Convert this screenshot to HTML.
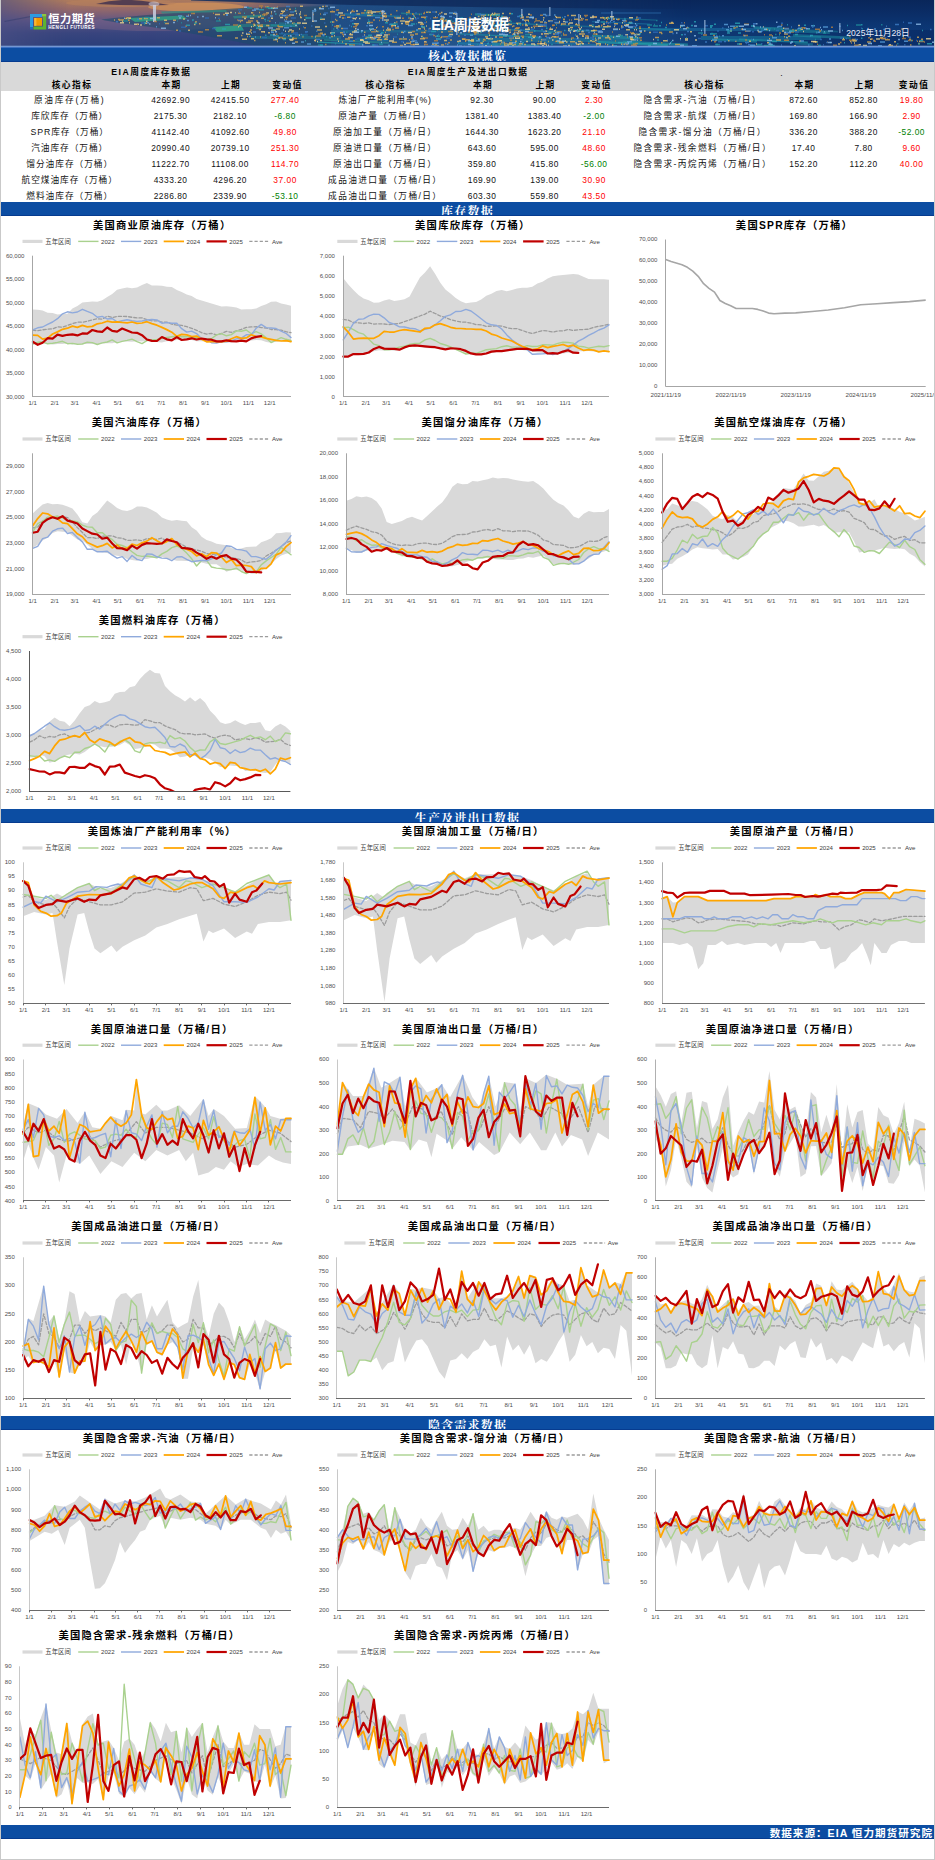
<!DOCTYPE html><html lang="zh-CN"><head><meta charset="utf-8"><title>EIA周度数据</title><style>
*{box-sizing:border-box}html,body{margin:0;padding:0;background:#fff}
body{width:935px;height:1860px;overflow:hidden;font-family:"Liberation Sans","Noto Sans CJK SC",sans-serif}
#p{position:relative;width:935px;height:1860px;background:#fff;overflow:hidden}
.edge{position:absolute;background:#c9c9c9}
.hdr{position:absolute;left:1px;top:0;width:933px;height:48px;overflow:hidden;background:#163a78}
.hsvg{position:absolute;left:0;top:0}
.logo{position:absolute;left:28.5px;top:13.5px}
.lt{position:absolute;left:47.2px;top:11.2px;color:#fff;font-weight:bold;font-size:11.2px;letter-spacing:0.55px;line-height:16px;white-space:nowrap}

.ls{position:absolute;left:47.3px;top:23.6px;color:#fff;font-weight:bold;font-size:4.6px;letter-spacing:0.46px;line-height:7px;white-space:nowrap}
.ttl{position:absolute;left:369px;top:14px;width:200px;text-align:center;color:#fff;font-weight:bold;font-size:14.4px;line-height:22px;letter-spacing:-0.6px;white-space:nowrap}
.date{position:absolute;left:787px;top:27px;width:180px;text-align:center;color:#e8eefc;font-size:8.6px;line-height:13px;white-space:nowrap}
.bar{overflow:hidden;position:absolute;left:1px;width:933px;height:14.4px;background:#0c4da2;border-bottom:1.2px solid #063b8f;color:#fff;text-align:center;font-family:"Liberation Serif","Noto Serif CJK SC",serif;font-weight:700;font-size:12px;line-height:17.4px;letter-spacing:1.2px;white-space:nowrap}
.gh{position:absolute;left:1px;top:62px;width:933px;height:29px;background:#d9d9d9}
.c{position:absolute;width:200px;height:14px;line-height:14px;text-align:center;font-size:8.7px;color:#111;white-space:nowrap;letter-spacing:0.95px}
.c.h{font-weight:bold;font-size:8.7px;letter-spacing:1.5px;color:#000}
.c.n{letter-spacing:0.5px;font-size:8.4px}
.c.r{color:#ff0000}.c.g{color:#008000}
.ft{padding-right:1px;text-align:right;font-family:"Liberation Sans","Noto Sans CJK SC",sans-serif;font-weight:bold;font-size:10.6px;letter-spacing:1.0px;line-height:16.4px}
svg.ch{position:absolute;left:0;top:0}
</style></head><body><div id="p">
<div class="hdr"><svg class="hsvg" width="934" height="48" viewBox="0 0 934 48"><defs>
<linearGradient id="hg" x1="0" x2="934" y1="0" y2="0" gradientUnits="userSpaceOnUse"><stop offset="0" stop-color="#4b5085"/><stop offset="0.07" stop-color="#474a7e"/><stop offset="0.25" stop-color="#2d4174"/><stop offset="0.36" stop-color="#214f86"/><stop offset="0.5" stop-color="#23548b"/><stop offset="0.66" stop-color="#1b4a84"/><stop offset="0.76" stop-color="#0f3872"/><stop offset="1" stop-color="#0a2e69"/></linearGradient>
<linearGradient id="sv" x1="0" x2="0" y1="0" y2="47" gradientUnits="userSpaceOnUse"><stop offset="0" stop-color="#b07c5c"/><stop offset="0.2" stop-color="#94686a"/><stop offset="0.45" stop-color="#5f5584"/><stop offset="0.7" stop-color="#39457e"/><stop offset="1" stop-color="#2a3f7a"/></linearGradient>
<linearGradient id="sm" x1="0" x2="340" y1="0" y2="0" gradientUnits="userSpaceOnUse"><stop offset="0" stop-color="#fff" stop-opacity="0.35"/><stop offset="0.2" stop-color="#fff" stop-opacity="1"/><stop offset="0.7" stop-color="#fff" stop-opacity="0.95"/><stop offset="1" stop-color="#fff" stop-opacity="0"/></linearGradient>
<mask id="mk"><rect width="340" height="47" fill="url(#sm)"/></mask>
<linearGradient id="nv" x1="0" x2="0" y1="0" y2="47" gradientUnits="userSpaceOnUse"><stop offset="0" stop-color="#09265a"/><stop offset="0.35" stop-color="#0b2f69"/><stop offset="0.6" stop-color="#0d3a78" stop-opacity="0.8"/><stop offset="1" stop-color="#0d3a78" stop-opacity="0"/></linearGradient>
<linearGradient id="nm" x1="330" x2="934" y1="0" y2="0" gradientUnits="userSpaceOnUse"><stop offset="0" stop-color="#fff" stop-opacity="0.0"/><stop offset="0.45" stop-color="#fff" stop-opacity="0.55"/><stop offset="0.6" stop-color="#fff" stop-opacity="1"/><stop offset="1" stop-color="#fff" stop-opacity="1"/></linearGradient>
<mask id="mk2"><rect x="330" width="604" height="47" fill="url(#nm)"/></mask>
</defs><rect width="934" height="47" fill="url(#hg)"/><rect width="340" height="47" fill="url(#sv)" mask="url(#mk)"/><ellipse cx="195" cy="7" rx="48" ry="4.5" fill="#d2935a" opacity="0.75"/><ellipse cx="120" cy="3" rx="55" ry="4" fill="#b8805c" opacity="0.6"/><ellipse cx="150" cy="24" rx="70" ry="7" fill="#7a6488" opacity="0.45"/><path d="M95,4 Q120,-3 150,2 L168,5 Q130,6 95,4Z" fill="#43334f" opacity="0.85"/><path d="M3,21 L40,14 L41,15 L4,22Z" fill="#39406f" opacity="0.6"/><path d="M190,0 L934,0 L934,9 Q700,10 470,7 Q330,5 190,0.5Z" fill="#132f5e" opacity="0.9"/><rect x="330" y="0" width="604" height="30" fill="url(#nv)" mask="url(#mk2)"/><path d="M100,19.5 Q150,14 240,8 L330,6 L330,47 L262,47 Q215,37 150,27 Q115,23 100,19.5Z" fill="#1d4a6c" opacity="0.62"/><path d="M128,18 L182,15.5 L186,19 L134,22Z" fill="#2fa587" opacity="0.8"/><path d="M160,11.5 L225,10 L226,12 L161,13.5Z" fill="#2c8f86" opacity="0.7"/><path d="M212,27 L240,25 L243,30.5 L216,32Z" fill="#32aa88" opacity="0.8"/><path d="M232,16 L262,14.5 L264,17 L233,18.5Z" fill="#2a9a8a" opacity="0.6"/><rect x="152" y="5" width="3" height="17" fill="#c9cfe0" opacity="0.85"/><ellipse cx="153" cy="4" rx="5.5" ry="2.6" fill="#d6cbd0" opacity="0.6"/><rect x="236" y="24" width="60" height="3" fill="#1f8f8a" opacity="0.5"/><rect x="250" y="36" width="90" height="3" fill="#1d7f90" opacity="0.5"/><rect x="330" y="30" width="120" height="2.5" fill="#1f7d96" opacity="0.45"/><rect x="470" y="38" width="170" height="4" fill="#1f86a0" opacity="0.5"/><rect x="640" y="28" width="130" height="3" fill="#1b78a8" opacity="0.5"/><rect x="700" y="36" width="120" height="4" fill="#1a84a6" opacity="0.5"/><rect x="600" y="12" width="60" height="2" fill="#2a6aa8" opacity="0.4"/><rect x="491" y="42.5" width="47" height="2.6" fill="#23a0a8" opacity="0.55" transform="rotate(2.5 491 42)"/><rect x="567" y="28.9" width="28" height="1.8" fill="#1f93a3" opacity="0.53" transform="rotate(2.5 567 29)"/><rect x="316" y="41.4" width="46" height="1.4" fill="#23a0a8" opacity="0.69" transform="rotate(2.5 316 41)"/><rect x="605" y="17.2" width="50" height="1.4" fill="#1f93a3" opacity="0.42" transform="rotate(2.5 605 17)"/><rect x="343" y="13.0" width="31" height="2.6" fill="#1c86b0" opacity="0.53" transform="rotate(2.5 343 13)"/><rect x="711" y="38.2" width="45" height="2.6" fill="#1f93a3" opacity="0.60" transform="rotate(2.5 711 38)"/><rect x="494" y="44.9" width="32" height="1.4" fill="#1c86b0" opacity="0.49" transform="rotate(2.5 494 45)"/><rect x="366" y="14.3" width="33" height="1.4" fill="#23a0a8" opacity="0.43" transform="rotate(2.5 366 14)"/><rect x="400" y="12.6" width="21" height="1.4" fill="#2aa392" opacity="0.46" transform="rotate(2.5 400 13)"/><rect x="749" y="44.6" width="42" height="2.6" fill="#23a0a8" opacity="0.42" transform="rotate(2.5 749 45)"/><rect x="591" y="20.9" width="58" height="1.4" fill="#1c86b0" opacity="0.50" transform="rotate(2.5 591 21)"/><rect x="780" y="28.2" width="57" height="1.8" fill="#1f93a3" opacity="0.40" transform="rotate(2.5 780 28)"/><rect x="498" y="34.5" width="43" height="1.8" fill="#23a0a8" opacity="0.55" transform="rotate(2.5 498 35)"/><rect x="792" y="34.0" width="58" height="2.6" fill="#1f93a3" opacity="0.52" transform="rotate(2.5 792 34)"/><rect x="794" y="42.4" width="18" height="2.2" fill="#1f93a3" opacity="0.46" transform="rotate(2.5 794 42)"/><rect x="458" y="33.2" width="62" height="1.4" fill="#1f93a3" opacity="0.70" transform="rotate(2.5 458 33)"/><rect x="356" y="37.5" width="31" height="2.2" fill="#1c86b0" opacity="0.52" transform="rotate(2.5 356 37)"/><rect x="278" y="33.0" width="29" height="1.4" fill="#1c86b0" opacity="0.51" transform="rotate(2.5 278 33)"/><rect x="492" y="28.0" width="68" height="1.8" fill="#23a0a8" opacity="0.45" transform="rotate(2.5 492 28)"/><rect x="323" y="39.0" width="65" height="1.8" fill="#2aa392" opacity="0.45" transform="rotate(2.5 323 39)"/><rect x="591" y="34.7" width="47" height="2.6" fill="#23a0a8" opacity="0.58" transform="rotate(2.5 591 35)"/><rect x="474" y="13.3" width="23" height="2.2" fill="#2aa392" opacity="0.62" transform="rotate(2.5 474 13)"/><rect x="457" y="41.9" width="40" height="2.6" fill="#1c86b0" opacity="0.56" transform="rotate(2.5 457 42)"/><rect x="760" y="28.4" width="69" height="2.6" fill="#1f93a3" opacity="0.48" transform="rotate(2.5 760 28)"/><rect x="753" y="26.3" width="29" height="2.2" fill="#23a0a8" opacity="0.53" transform="rotate(2.5 753 26)"/><rect x="270" y="24.2" width="27" height="1.8" fill="#1f93a3" opacity="0.51" transform="rotate(2.5 270 24)"/><rect x="738" y="38.5" width="69" height="1.8" fill="#1f93a3" opacity="0.68" transform="rotate(2.5 738 38)"/><rect x="504" y="22.3" width="37" height="1.4" fill="#1f93a3" opacity="0.58" transform="rotate(2.5 504 22)"/><rect x="278" y="22.3" width="21" height="1.8" fill="#1f93a3" opacity="0.42" transform="rotate(2.5 278 22)"/><rect x="544" y="41.7" width="56" height="1.8" fill="#1c86b0" opacity="0.51" transform="rotate(2.5 544 42)"/><rect x="622" y="40.7" width="65" height="2.6" fill="#1f93a3" opacity="0.66" transform="rotate(2.5 622 41)"/><rect x="559" y="24.6" width="50" height="1.4" fill="#1f93a3" opacity="0.42" transform="rotate(2.5 559 25)"/><rect x="597" y="41.0" width="70" height="2.2" fill="#23a0a8" opacity="0.68" transform="rotate(2.5 597 41)"/><rect x="628" y="27.3" width="42" height="1.4" fill="#1f93a3" opacity="0.49" transform="rotate(2.5 628 27)"/><path d="M216 35.8h5M126 18.0h4M222 14.5h2M124 18.5h5M187 15.3h1M175 30.3h2M138 18.7h3M127 20.3h1M118 20.3h1M117 19.5h2M291 23.3h3M277 26.8h5M255 21.0h2M248 31.8h2M239 21.8h1M259 37.0h1M249 30.1h2M299 16.5h1M272 39.7h5M329 11.8h5M330 36.5h2M323 34.3h2M284 17.4h3M319 33.2h3M263 32.1h1M287 35.8h1.5M283 19.9h1M284 42.8h1M252 26.3h1M260 18.2h3M246 36.5h1M279 13.7h3M281 38.6h4M470 31.2h5M384 32.4h1M519 32.8h3M552 34.0h2M503 45.2h5M603 19.1h1.5M587 36.5h1M409 41.7h1.5M497 15.9h2M448 21.8h1M543 44.2h3M433 21.3h5M639 32.3h2M409 34.9h4M611 45.0h1.5M576 38.0h2M594 38.3h1M407 11.1h2M335 20.6h1.5M490 45.7h1M580 43.0h1.5M532 36.2h3M457 32.1h1M376 31.4h1.5M518 37.4h1M479 43.0h1.5M549 28.0h1M539 41.9h2M339 32.7h3M375 11.8h4M363 10.4h2M625 44.4h2M591 41.4h3M604 44.0h1M384 13.4h1M480 15.3h5M638 28.4h2M408 39.8h1M523 44.6h2M399 45.6h3M355 25.1h1.5M394 17.9h1M515 23.2h5M422 27.4h2M491 24.3h1.5M479 18.4h3M428 28.4h2M482 39.6h2M464 39.8h5M562 19.2h2M351 18.0h2M402 39.1h4M581 35.4h1.5M536 43.8h5M573 30.8h2M394 28.0h4M344 39.0h5M560 24.5h1M384 38.8h1.5M595 45.1h1M508 37.9h5M580 31.7h3M405 24.3h3M464 22.7h2M575 44.2h3M497 20.3h2M508 13.6h2M601 35.7h1M341 18.1h2M486 20.9h3M555 17.4h5M543 42.5h1.5M527 21.3h1M481 41.5h2M606 17.5h2M527 27.8h1.5M422 37.7h1M521 37.4h2M564 22.0h1M351 10.6h1.5M586 36.3h2M629 38.4h3M514 28.5h4M365 12.8h5M431 44.3h5M592 30.5h4M440 18.0h4M477 28.4h1.5M404 22.4h4M512 26.1h1.5M608 38.9h2M543 22.8h3M553 36.9h5M446 26.8h3M497 30.4h1M363 32.3h1.5M574 24.5h2M548 29.2h1M398 39.0h5M513 44.4h2M469 40.9h4M391 42.3h5M405 43.3h5M493 41.5h4M500 42.4h4M531 36.5h1M530 40.4h1.5M491 41.8h1M500 22.3h2M420 17.2h5M558 42.8h5M414 34.1h3M826 42.3h1M734 41.2h1.5M738 44.1h3M803 28.2h2M812 41.8h5M674 44.4h5M787 36.2h2M647 27.5h2M660 33.5h1.5M658 32.6h3M783 36.8h1M732 28.1h2M668 32.1h4M884 39.7h5M841 39.8h3M908 39.2h2M909 45.0h1.5M866 42.0h4M872 40.4h2M920 39.2h2" stroke="#d8a64a" stroke-width="1.5" opacity="0.78" fill="none"/><path d="M194 22.9h1M214 14.4h5M193 24.4h1.5M144 23.2h2M128 22.8h1M187 30.2h2M125 18.3h5M163 20.2h3M121 21.3h1M182 18.9h2M245 34.2h4M265 13.1h3M298 35.3h1M250 32.9h1M291 38.2h2M296 22.9h4M298 29.1h1M321 6.6h2M319 19.2h5M263 15.0h1M259 15.9h1M257 26.5h5M278 15.6h1M288 15.0h5M272 34.4h2M250 38.7h3M299 17.5h2M260 31.8h4M250 12.7h2M270 30.2h5M288 39.5h5M299 6.2h3M267 32.7h2M287 31.4h1.5M241 39.2h5M298 13.9h2M237 26.8h1M324 26.5h2M423 29.0h1M370 13.2h2M455 21.9h1M588 25.6h3M580 18.4h1.5M597 38.1h3M606 36.1h2M628 22.4h3M387 29.2h3M599 44.7h1M439 19.3h4M471 20.5h4M346 10.6h1M473 32.8h5M578 30.7h1M440 12.6h1.5M353 23.8h5M617 35.3h3M524 25.6h3M417 28.8h3M414 18.1h1M554 16.4h1M636 40.3h1M625 29.7h4M605 22.5h1M425 25.9h1M592 30.5h2M491 41.8h5M561 41.7h2M402 42.5h1M355 17.8h1M348 34.6h4M602 26.8h5M496 31.6h1M494 14.3h5M535 24.6h1.5M606 26.6h4M460 24.7h3M594 40.2h2M375 27.8h1M589 40.8h2M347 37.4h5M494 37.1h2M342 36.2h1M492 18.8h5M511 45.2h2M399 21.1h5M481 22.4h1.5M364 43.3h5M336 39.1h1.5M570 15.4h5M508 42.9h4M578 33.9h1.5M575 23.9h1M444 20.3h2M333 35.8h1M365 37.4h5M490 14.4h4M477 16.4h1.5M547 21.1h5M473 27.6h3M331 22.1h1.5M487 38.8h5M508 20.6h1.5M480 43.2h2M575 36.2h2M530 27.5h1.5M390 25.5h5M612 37.3h1M544 31.2h2M482 16.4h1.5M543 33.8h5M501 13.5h2M381 15.8h3M590 30.7h3M629 39.6h1.5M569 27.5h3M363 35.1h1M509 32.2h1M351 31.9h3M479 30.5h2M518 31.1h2M577 41.6h3M385 29.9h5M613 26.5h1M634 36.8h1.5M475 28.5h2M359 39.8h3M470 39.8h3M366 15.4h5M469 40.8h4M570 39.0h1M385 36.9h2M375 35.2h4M487 15.0h1M594 26.7h5M581 36.3h2M542 17.8h1.5M629 22.7h1.5M338 16.9h2M495 14.8h1M597 25.9h2M335 28.1h2M349 34.8h3M524 24.6h2M443 40.5h3M595 43.8h5M501 21.4h2M514 37.7h1M456 41.6h2M383 19.9h5M420 36.6h2M710 40.7h1M662 40.7h5M766 42.8h2M735 26.8h2M648 32.4h2M643 31.0h1.5M793 45.8h2M670 22.4h2M757 31.8h3M799 29.3h3M684 38.7h3M689 31.8h2M781 30.9h2M748 41.2h2M849 41.5h1.5M918 41.3h1M853 40.7h3M837 44.0h2M880 38.4h5M852 40.8h2M893 41.8h2M902 36.8h1M879 37.5h3" stroke="#e9c46e" stroke-width="1.5" opacity="0.78" fill="none"/><path d="M218 20.1h1M212 13.3h1M204 29.7h4M192 13.4h2M315 36.0h5M267 25.7h1.5M303 27.8h2M279 14.1h2M292 23.7h2M256 25.2h5M260 25.1h2M290 32.1h3M252 24.2h2M319 14.0h1M247 21.1h5M275 7.7h2M285 19.2h1M268 21.2h1.5M301 36.7h2M324 44.5h1.5M314 39.4h1.5M260 7.8h1M273 8.1h2M241 17.1h5M257 28.6h3M292 38.5h4M423 44.8h1M441 26.6h5M584 36.1h3M408 20.5h4M504 43.5h2M496 40.7h1M432 35.6h2M411 13.7h1M445 36.8h2M545 15.5h1M568 20.0h1M411 31.5h3M411 14.3h2M632 44.1h1.5M504 35.9h2M484 21.9h5M598 45.3h1.5M600 25.3h1.5M464 28.1h1.5M407 18.0h3M349 45.1h5M410 38.7h2M551 25.3h3M473 30.3h5M544 36.3h2M347 37.9h2M639 40.3h2M423 12.5h1M631 32.7h2M534 21.1h1M339 15.3h5M387 28.1h1M506 30.0h4M461 38.9h4M617 19.6h1M537 41.6h1M444 43.7h1.5M461 19.5h5M587 43.3h1.5M634 43.4h3M378 20.5h1M360 13.1h4M447 42.8h2M497 24.7h5M436 29.9h1M598 31.3h1M350 11.4h4M457 28.2h4M473 34.1h3M630 45.2h5M520 36.3h3M474 25.5h3M484 27.7h1M483 40.0h2M481 45.3h1M395 10.8h1.5M511 34.6h1M464 40.8h1.5M580 42.1h1.5M387 30.4h2M483 26.1h1M472 32.1h4M515 27.7h4M501 16.8h5M611 31.9h1M405 12.4h4M584 19.8h3M382 26.7h1M331 11.3h1M562 33.6h1M337 26.8h2M422 13.4h2M515 32.7h4M479 32.6h1.5M370 39.1h4M423 18.0h2M420 32.6h5M602 17.9h1.5M401 18.3h2M493 27.9h4M335 10.1h3M395 21.9h1.5M562 35.1h4M632 44.3h3M532 35.9h3M404 23.7h1M513 36.2h5M379 11.3h2M409 44.7h5M555 27.8h1M577 19.9h5M447 31.6h5M467 31.9h2M607 23.2h1M577 27.2h2M592 34.0h4M577 31.2h2M501 28.6h2M443 24.9h2M421 27.4h1.5M635 19.2h3M372 19.9h2M374 36.7h2M352 40.8h2M582 18.8h1M348 44.7h2M566 15.6h2M635 45.6h1M381 26.8h1M635 17.2h2M440 36.8h5M482 21.7h3M405 22.0h3M425 22.1h1M496 30.9h2M370 15.5h2M434 36.5h1.5M489 29.2h2M768 34.9h3M743 24.2h5M780 25.1h1.5M818 31.0h2M778 33.1h2M765 29.6h2M783 40.2h5M756 30.6h2M798 41.0h2M665 24.9h1M712 35.4h2M685 27.7h3M702 35.1h4M916 41.2h1M839 42.5h1.5M923 42.0h1M919 41.4h4M850 43.0h1M886 39.3h1M853 45.2h4M848 36.1h1.5M900 28.9h3" stroke="#c58c3c" stroke-width="1.5" opacity="0.78" fill="none"/><path d="M139 25.0h2M224 13.2h4M234 13.0h1M133 24.3h5M145 21.3h1.5M119 22.7h4M229 12.5h2M303 19.8h1.5M294 11.0h1.5M295 13.5h1M270 12.0h1M316 41.4h1M280 11.3h4M241 32.9h1.5M289 21.2h2M289 39.9h3M319 40.5h2M279 17.5h3M288 30.1h3M314 36.7h1M270 18.2h2M253 25.3h1.5M256 22.5h2M329 33.1h5M250 26.8h1M314 26.9h5M270 8.3h4M313 40.5h2M284 31.2h1M266 6.7h1.5M243 18.4h2M249 18.2h4M301 23.3h5M299 11.9h1M445 24.4h1M447 22.0h1M354 19.1h1M589 17.6h4M383 13.4h1.5M539 43.7h5M393 22.9h1.5M591 26.6h1.5M548 33.1h2M349 33.8h1M454 14.0h1.5M558 21.5h1M551 40.0h1.5M581 43.7h2M605 17.8h1M370 12.0h5M337 41.3h1M568 23.1h4M625 24.7h3M375 30.9h1M514 38.3h5M578 29.0h2M366 22.9h3M485 38.3h2M555 17.2h1M382 16.4h4M533 44.7h1.5M417 22.5h4M567 28.8h2M557 32.5h1.5M624 34.8h3M578 43.9h2M367 12.7h1M516 24.1h1M524 29.2h5M621 22.7h1M591 17.1h5M392 39.1h1M353 31.0h3M580 27.6h1M352 18.5h3M454 31.3h2M337 12.9h5M362 41.9h5M369 29.9h1M574 42.9h2M443 14.1h3M411 18.7h2M400 23.4h2M611 46.0h1.5M584 38.1h4M577 44.4h1M623 25.2h4M445 21.7h1M499 24.3h2M484 45.8h2M630 39.8h5M358 18.5h1.5M567 30.4h1.5M407 32.4h4M609 16.8h4M635 34.4h4M525 41.4h2M541 45.7h2M542 20.1h1M454 24.4h5M480 30.5h5M572 31.3h2M433 29.3h4M636 38.1h1M458 41.0h2M558 38.6h2M564 40.9h1M517 31.3h1M480 25.0h2M628 17.8h4M470 29.4h1M527 14.2h2M507 24.0h1.5M349 12.5h1.5M370 29.1h1M420 23.1h2M569 32.8h1M549 29.2h3M354 28.8h1.5M635 29.7h1M532 37.6h2M414 44.3h4M629 37.2h3M471 27.9h5M486 21.3h1M412 41.2h1M529 34.7h1.5M403 44.6h2M530 44.1h4M537 26.2h5M624 43.5h4M562 21.4h2M567 45.5h2M491 13.4h1M489 16.4h1M576 30.3h1M388 41.0h5M512 33.9h2M355 11.1h2M488 35.2h1M591 16.3h2M547 45.2h1M452 13.4h2M449 29.4h2M376 35.2h5M633 29.8h1M618 29.2h1M395 18.1h5M504 29.6h1M553 30.7h1M432 21.9h1.5M545 45.6h1M565 41.9h1.5M540 33.9h2M602 24.0h2M612 29.3h5M423 41.7h2M369 37.5h3M383 35.1h4M404 21.6h5M498 40.7h3M601 29.2h3M394 25.8h1M491 22.6h1M359 40.2h4M448 34.5h4M579 15.8h1M579 17.2h1M504 31.4h2M802 31.6h1M652 39.5h1M755 43.9h1M810 41.5h5M684 40.0h3M762 27.1h1M679 38.7h1M782 28.3h1.5M673 29.7h5M814 42.0h1.5M768 44.5h3M741 29.0h1M797 25.4h2M679 27.0h1M694 40.1h2M853 42.9h1M869 39.3h2M862 45.5h4M888 44.8h2M858 44.8h2M925 38.8h5M842 38.4h1M875 38.9h4" stroke="#f3d892" stroke-width="1.5" opacity="0.78" fill="none"/><path d="M136 24.4h1M197 31.9h5M184 26.2h2M232 25.1h5M128 20.4h1M197 31.8h3M153 21.4h3M190 13.5h2M249 36.3h1M312 14.6h1M264 6.8h4M275 34.2h1.5M317 33.9h5M324 6.2h3M276 6.9h1M277 25.4h1M310 36.6h2M285 15.8h5M270 13.8h1M236 19.9h1.5M294 25.6h2M278 37.4h4M276 25.9h1.5M258 6.0h4M251 12.7h1.5M262 14.1h5M329 22.3h1M237 13.2h3M261 14.7h5M303 15.6h3M255 8.5h2M432 28.4h1.5M617 19.3h2M513 30.5h4M593 16.8h3M634 20.1h3M622 21.0h4M560 24.3h1M387 34.6h2M438 13.5h2M376 27.0h1M436 17.4h1M382 15.5h4M473 23.8h5M594 42.4h1.5M418 14.6h1M541 33.9h1M535 20.8h4M423 44.5h4M439 37.8h1M534 19.0h2M592 37.0h1M384 16.9h1.5M380 13.7h2M442 21.0h5M614 41.1h1M469 45.7h4M389 14.5h2M505 17.8h1M487 33.0h2M554 41.5h4M453 22.8h5M377 38.2h2M529 14.9h2M380 12.6h3M373 29.7h2M474 31.5h2M433 40.7h4M531 35.4h1.5M474 31.0h2M473 19.5h5M508 37.7h1M391 29.4h2M423 42.4h2M570 20.1h1M432 17.7h4M399 16.0h1M495 16.6h1M509 40.3h2M424 30.5h1.5M585 36.3h1M379 18.0h3M634 34.4h2M444 26.7h2M584 16.6h1.5M605 21.4h1.5M583 15.6h4M452 26.5h1.5M468 17.5h2M527 32.6h5M638 26.9h2M472 46.0h1M499 44.1h1M470 14.3h1M492 23.2h2M352 26.8h4M354 25.0h3M454 28.6h2M333 26.6h5M451 23.3h5M634 27.4h1M570 37.9h3M517 45.9h3M332 22.0h1.5M638 37.7h3M422 38.1h5M462 31.8h1.5M551 25.5h2M493 20.8h1.5M367 22.4h5M470 25.8h3M620 43.0h1M530 39.6h1M497 40.7h1.5M479 25.7h1M521 25.0h1.5M519 18.1h4M373 36.4h2M600 26.1h1M532 26.3h5M612 19.3h1M597 39.6h1M540 25.9h5M533 22.1h1M630 32.9h1M539 15.3h3M556 32.1h5M478 30.4h5M602 18.2h4M457 36.0h2M341 34.4h2M498 37.3h4M390 26.8h2M370 31.8h5M626 37.0h1M393 17.6h1M629 32.4h1M814 29.3h5M713 41.7h2M744 39.9h2M683 22.7h1M660 42.8h1.5M763 34.8h1M742 35.3h1.5M800 27.8h5M784 28.4h4M830 27.3h2M788 32.1h5M714 40.5h2M816 44.3h1M791 29.9h2M734 27.7h1M742 35.5h5M740 29.3h2M895 45.3h1M848 40.2h3M870 39.0h2M907 40.5h5M879 38.3h2M867 37.7h2M901 38.4h4M832 45.2h4M881 38.4h3M873 41.2h2M744 31.3h5" stroke="#b8823f" stroke-width="1.5" opacity="0.78" fill="none"/><path d="M194 22.0h2M198 23.7h1.5M234 38.0h3M143 18.6h4M113 20.1h1M119 19.9h4M156 17.7h3M164 23.6h4M172 20.2h3M265 25.5h3M314 40.7h1M245 22.6h5M288 9.2h2M253 40.6h1.5M257 16.9h2M258 29.5h2M252 14.9h1.5M281 12.1h2M294 42.0h3M318 8.1h2M311 21.2h2M258 12.5h1M275 29.1h4M277 37.9h2M240 35.4h1.5M238 25.7h2M276 41.4h1M237 20.5h5M316 30.1h5M291 30.7h2M284 9.6h1M540 39.7h5M551 36.7h4M364 38.3h2M595 34.2h1.5M620 27.2h2M605 18.3h1M507 45.4h1M604 37.8h5M511 26.6h1M506 44.2h5M453 23.7h3M560 24.1h5M423 32.2h1M346 17.3h4M513 32.5h1.5M499 24.3h1M449 40.0h2M547 41.6h1M355 13.9h4M480 17.2h1.5M400 32.2h2M487 30.1h4M440 45.1h3M508 17.7h1M533 27.8h1M612 19.0h2M366 11.0h5M375 37.2h5M425 42.0h1M550 37.6h1M514 41.2h2M461 39.3h3M480 29.8h1.5M493 13.3h1.5M601 17.5h1.5M344 44.1h2M579 34.0h5M334 19.6h1M382 30.2h1M521 17.1h2M419 24.2h4M413 41.1h1M466 26.6h2M477 39.2h1.5M539 22.0h3M433 45.9h5M419 38.7h5M475 29.6h1M554 32.5h1.5M620 25.9h1.5M554 30.2h1M385 21.2h1.5M620 44.2h4M413 16.3h1M525 17.1h3M557 41.7h5M472 29.1h1.5M516 33.8h2M503 44.1h1M523 20.3h5M489 15.4h1.5M335 25.7h5M440 37.6h1M484 36.8h3M567 24.4h1.5M508 32.6h1M520 15.1h2M440 31.9h2M390 25.0h2M576 25.0h3M606 44.8h1M340 28.4h2M464 40.9h1M341 41.9h1M569 41.8h5M412 44.5h1.5M486 19.8h3M501 18.6h5M567 23.7h1.5M554 22.7h5M518 43.7h4M630 33.7h4M616 19.6h1.5M613 23.8h4M573 19.3h4M524 21.2h1M382 36.7h3M531 18.0h2M508 24.4h3M606 19.3h1M570 29.6h1M376 39.7h5M562 46.0h2M434 11.9h2M555 41.2h1M482 27.1h2M425 12.2h5M606 26.0h1.5M383 39.3h4M599 17.8h5M668 23.2h5M729 31.0h2M771 36.0h1M713 37.7h4M783 34.0h4M786 37.8h1M727 40.7h1.5M768 38.8h1M775 40.1h5M794 30.4h2M654 37.5h4M851 40.7h4M857 45.1h1M916 37.2h2M887 45.6h5M851 39.5h4M917 43.4h2" stroke="#dcb057" stroke-width="1.5" opacity="0.78" fill="none"/><path d="M115 21.8h2M225 14.7h2M136 19.3h2M282 35.7h1M322 35.7h1M328 37.7h2M300 34.4h1M330 34.3h2M252 32.1h3M315 39.4h4M289 12.1h4M325 6.0h2M289 26.3h2M289 36.2h2M258 28.4h1M302 27.1h1M270 31.5h1.5M238 12.0h1M283 34.9h1.5M285 6.4h4M315 31.3h1.5M314 10.6h1.5M304 31.7h3M284 23.8h1M496 30.7h1M585 30.2h3M447 36.4h4M624 43.8h4M519 39.4h3M458 45.7h3M348 41.2h4M613 24.9h2M495 20.3h2M633 39.7h4M479 14.8h5M334 14.6h4M411 39.5h2M342 31.9h2M388 24.5h3M557 32.7h3M542 31.7h3M501 42.6h2M539 25.0h5M373 44.9h1.5M453 12.6h3M348 25.6h1M342 28.6h5M465 20.3h1.5M543 21.7h2M385 13.4h1M351 20.4h1.5M501 32.9h3M544 15.6h2M554 34.0h4M553 22.6h5M411 40.8h5M425 16.7h1.5M543 40.2h1M516 16.4h3M427 29.0h1.5M365 25.8h2M557 37.8h1M587 32.4h2M621 27.1h2M537 37.8h2M478 45.0h5M463 35.3h2M519 30.3h2M573 17.9h1M612 21.4h2M513 29.3h1M545 37.4h3M540 29.4h2M531 18.5h1M636 38.5h1M503 17.2h2M563 16.7h2M574 43.3h1M362 45.1h1M629 22.9h3M596 30.8h5M591 39.2h2M395 18.0h1M428 34.4h5M479 31.6h2M441 36.5h1.5M342 32.6h2M436 42.8h2M796 29.1h1.5M747 44.8h2M780 44.9h1M807 45.1h1.5M784 28.7h4M686 31.5h2M809 36.0h1M744 42.5h4M745 31.0h5M679 39.8h1M784 32.6h3M683 34.4h2M723 41.4h2M715 36.0h1.5M666 40.0h1M704 42.1h2M854 39.6h3M872 41.1h1M885 26.2h1M790 27.1h1M894 24.4h4M882 29.6h2M929 29.6h1.5M907 22.9h4M752 23.8h3" stroke="#3f7fc8" stroke-width="1.5" opacity="0.78" fill="none"/><path d="M191 20.5h1M180 27.3h5M140 23.1h3M158 23.7h1M211 28.6h4M204 18.1h4M178 31.0h2M217 18.3h2M304 32.6h2M246 16.9h1M237 9.7h4M280 32.9h2M278 15.0h4M247 32.8h2M323 22.9h1.5M237 19.7h3M268 29.5h1M284 35.2h1M261 37.4h5M285 14.9h2M285 10.3h2M310 26.0h1.5M292 32.9h5M323 13.0h4M283 16.3h1.5M267 18.0h2M329 7.9h1M294 34.9h4M283 20.9h3M290 18.0h5M327 8.6h1.5M245 7.3h3M628 27.4h3M490 37.9h1M476 13.8h4M423 22.8h2M575 39.3h3M623 22.2h1.5M497 15.0h2M508 37.7h4M589 37.5h4M546 15.4h2M549 21.4h3M433 44.6h1M338 25.1h2M632 26.5h4M610 39.9h1M400 41.7h3M530 29.2h3M414 13.0h2M621 44.0h2M552 19.6h4M361 36.6h5M541 40.0h5M452 17.8h2M416 18.3h2M542 25.2h1M392 37.1h4M543 24.5h3M463 32.4h1M349 17.2h4M624 35.3h1.5M498 17.7h2M475 34.2h1.5M636 18.0h4M595 41.2h1.5M343 18.1h2M509 35.9h3M623 18.6h1.5M354 14.0h2M476 16.5h1M486 44.4h1.5M336 29.4h2M427 31.2h3M352 10.3h1M585 38.0h1M557 35.2h1M431 12.0h4M487 24.7h1.5M370 16.3h2M479 30.2h2M620 28.2h1.5M358 44.0h1.5M544 25.6h2M354 39.3h2M605 22.7h5M372 44.9h5M445 38.3h4M487 42.2h1M414 19.1h2M429 18.5h1M349 21.1h2M459 28.2h5M409 45.4h1M811 27.3h1.5M721 28.1h1.5M773 45.6h1M652 32.2h5M717 41.7h4M804 27.9h2M700 34.3h1.5M734 40.6h1M760 30.9h2M789 42.9h2M760 43.8h1.5M762 30.3h1M697 38.5h3M822 44.8h1M704 25.8h3M750 39.3h1M825 42.6h2M819 39.6h2M745 43.4h1M789 36.7h1M680 22.8h1.5M671 33.5h2M794 32.1h4M751 31.7h2M709 33.9h1.5M907 37.2h3M884 37.9h1.5M845 38.8h1M915 40.4h1M903 44.8h1.5M839 38.1h3M727 32.0h1M716 30.9h2M780 23.2h2M867 31.8h5M761 27.4h1.5M902 22.2h1M838 26.3h2M860 28.2h1M775 30.5h3" stroke="#2e6ab6" stroke-width="1.5" opacity="0.78" fill="none"/><path d="M196 17.1h1.5M155 26.7h1M146 22.7h2M177 16.1h4M185 16.2h3M186 20.4h2M225 15.1h2M270 32.2h3M253 9.1h5M306 44.1h4M281 15.6h4M298 15.0h1M251 10.3h4M258 26.2h1M321 34.8h3M254 36.9h1M322 14.5h3M273 8.2h4M283 27.7h5M289 21.7h1.5M311 10.9h4M269 16.1h3M300 42.1h3M272 35.6h3M274 22.7h1M284 21.5h5M480 20.5h5M456 44.9h1M489 28.9h1.5M556 32.8h2M482 29.1h5M511 42.7h3M396 26.6h2M374 17.5h5M436 43.6h1.5M635 25.3h1.5M403 31.4h1.5M484 28.9h1.5M626 41.7h5M436 36.1h1M431 43.3h5M385 20.1h1.5M521 43.9h1M475 40.8h4M621 20.4h4M503 17.4h4M628 36.8h4M387 45.3h2M490 41.9h2M506 45.0h1.5M446 44.2h1.5M469 35.2h3M481 28.5h1M542 14.5h3M420 26.3h2M410 41.4h2M612 29.6h5M440 16.1h1M609 21.3h1M564 22.0h3M379 33.9h2M469 21.7h2M414 42.4h3M558 39.8h2M435 39.1h5M564 45.7h2M478 39.4h1M529 17.2h4M408 25.5h4M597 38.0h2M530 38.4h2M415 30.0h2M448 16.5h3M437 14.8h1M524 23.0h1.5M331 33.1h2M430 45.9h5M553 15.0h1.5M639 31.5h2M448 12.9h4M412 15.7h1M799 40.9h4M721 35.8h2M817 32.2h2M828 39.1h2M767 44.5h5M743 35.7h1.5M686 27.2h1M668 44.0h1M777 26.5h4M787 32.7h3M768 43.6h2M729 29.0h2M797 28.3h3M810 25.8h4M822 26.9h5M691 45.8h5M788 31.3h3M758 31.8h3M756 30.4h2M729 26.3h5M725 29.7h3M723 24.4h4M771 37.7h5M776 27.1h1.5M752 39.5h1M713 37.0h4M711 40.0h5M749 45.3h5M815 32.6h1.5M877 45.8h4M879 41.9h5M870 43.5h1M903 41.2h4M873 29.1h2M841 30.5h1" stroke="#5aa0dd" stroke-width="1.5" opacity="0.78" fill="none"/><path d="M143 22.8h2M224 24.6h5M191 20.0h2M221 29.1h4M185 25.3h4M243 13.3h1M282 39.5h3M269 35.1h3M275 36.1h3M274 13.9h1.5M275 39.5h1M263 19.4h2M319 45.3h3M267 8.3h5M304 40.8h1M293 11.3h1M264 35.2h1.5M325 36.6h1M294 8.4h1M314 35.9h1M271 29.8h3M305 18.0h5M258 9.8h5M255 28.2h2M330 33.6h3M248 36.5h1M410 23.9h4M574 35.0h1M627 23.0h4M612 45.7h4M486 27.1h1M486 43.6h2M555 24.8h1M545 28.3h1.5M517 24.1h3M521 42.7h2M513 35.6h2M420 27.1h4M488 20.7h2M607 18.6h2M638 33.7h2M510 13.7h2M563 30.6h1.5M447 35.6h2M348 45.5h4M494 14.9h5M350 26.4h1M405 14.4h1.5M500 25.0h1.5M367 21.4h2M336 15.2h1M490 22.4h2M389 24.3h5M484 21.9h4M533 31.0h1.5M458 18.3h2M621 45.4h1M360 32.1h1M442 22.4h1M617 42.6h5M380 32.7h2M491 15.0h1M476 32.1h2M384 22.8h3M527 37.2h4M371 45.0h2M457 42.8h1M335 28.3h1M367 35.2h4M502 35.9h4M435 36.2h4M430 31.4h5M436 26.2h1M351 23.7h2M331 25.1h1M500 16.2h2M635 18.5h1M487 20.0h1M439 24.2h2M460 17.9h2M477 18.7h2M561 17.6h1M479 32.2h1.5M467 41.8h3M778 34.8h1M658 25.8h2M789 31.0h5M709 34.0h5M768 42.5h1.5M693 21.8h2M715 44.6h2M750 25.9h3M809 35.4h3M664 27.6h2M713 24.2h2M736 43.9h3M709 27.3h2M800 28.1h1M647 45.3h3M680 34.8h2M829 42.4h1M769 45.6h4M709 25.7h3M690 25.4h2M656 40.0h2M771 41.4h5M737 33.0h3M680 26.0h2M786 24.8h1M660 22.4h1M670 41.7h1M726 39.7h1M794 34.6h3M910 40.5h1M926 43.7h5M860 38.3h1.5M843 42.8h1M919 40.8h3M734 23.3h5M921 30.5h1M726 31.1h5M860 24.8h1.5M846 25.5h1M726 33.1h3M803 25.2h2" stroke="#28a3b4" stroke-width="1.5" opacity="0.78" fill="none"/><path d="M123 18.3h1M214 17.8h1M201 16.4h2M148 24.1h1.5M189 15.4h1M178 17.9h2M149 18.6h4M160 28.2h5M172 22.5h2M273 11.5h1.5M289 35.8h1.5M274 39.2h2M313 9.2h2M313 21.0h3M294 25.3h2M245 33.4h1M329 7.3h5M267 27.9h5M291 43.3h3M243 7.2h3M282 30.0h1M274 31.7h2M286 22.8h2M318 8.8h5M257 22.9h2M407 25.5h1M581 30.9h1.5M556 40.9h3M402 37.3h1M409 18.7h2M368 29.0h5M528 17.4h5M596 20.4h3M402 32.6h1M597 32.0h5M368 25.6h4M521 19.8h2M524 31.6h4M372 38.1h3M349 13.2h1M375 35.7h1.5M380 11.6h4M513 34.3h1.5M361 44.9h1M627 43.0h1M568 30.9h2M538 36.7h1.5M593 32.4h1M516 33.2h1.5M447 23.8h2M615 19.3h1M486 29.4h1M634 23.7h1M519 41.7h1.5M638 31.1h3M356 29.4h2M548 37.9h1.5M410 37.1h2M615 36.3h4M514 42.7h1.5M627 27.1h5M353 32.3h5M432 28.6h5M343 34.6h2M576 38.0h1M624 26.1h4M467 40.4h2M502 34.8h5M561 41.2h3M594 22.3h4M633 34.9h2M442 17.3h2M467 44.4h3M434 16.8h1M386 28.3h1M454 23.8h1M498 34.3h4M380 42.6h1M574 30.7h4M439 16.4h4M360 30.7h2M459 32.8h2M805 28.7h4M741 29.4h4M819 27.5h1M675 32.9h1.5M693 25.9h3M823 32.0h1M743 24.8h5M669 43.0h1M752 25.5h1.5M820 29.8h1M827 42.5h4M693 35.7h2M679 45.3h4M763 29.3h3M789 43.0h1.5M679 25.4h5M652 43.5h4M727 26.9h1M671 40.4h1.5M759 26.9h1M766 40.4h5M755 23.8h1.5M785 37.4h1M682 28.7h4M790 41.9h2M738 26.2h5M700 30.5h1M867 43.4h4M897 39.4h2M931 42.2h4M827 31.0h5M768 30.5h1M915 24.3h5M783 32.4h2M752 26.5h2M775 22.2h1.5" stroke="#8dbce9" stroke-width="1.5" opacity="0.78" fill="none"/><path d="M215 20.9h5M234 13.4h1M193 23.2h3M176 20.9h1M163 22.6h1.5M144 17.6h4M126 19.0h1.5M122 20.9h5M180 22.8h1M143 23.9h1M238 29.1h4M266 20.6h2M246 16.7h2M292 23.7h4M304 18.0h2M265 7.5h3M264 21.2h1M272 39.0h1M319 18.3h2M317 45.0h5M256 27.7h5M329 21.8h2M246 8.0h5M301 36.0h2M401 38.9h1M345 32.3h1.5M367 19.8h1M365 36.8h4M579 45.3h1.5M424 19.9h1M436 38.9h4M635 35.0h1.5M407 17.2h1M492 25.2h5M623 19.2h2M609 36.3h2M437 36.6h1.5M545 26.5h1M421 37.3h1M524 34.5h5M556 42.4h2M497 24.0h5M497 25.1h3M439 23.9h2M576 30.8h3M392 24.0h5M427 12.2h1M384 36.9h1M489 37.8h1M607 44.6h1.5M429 34.4h2M369 28.6h2M446 20.2h5M509 21.6h2M415 23.8h1M476 44.6h1M443 18.7h1M412 17.3h2M438 20.1h1M365 10.9h1.5M338 26.5h2M617 35.6h5M550 44.6h2M420 14.2h1M515 43.1h3M591 25.0h2M560 35.5h1M378 13.3h2M451 21.4h2M424 19.0h1.5M547 32.7h4M603 18.0h2M518 15.7h3M527 22.9h2M519 25.3h1M436 29.4h2M570 45.1h1M378 44.2h4M332 28.9h1.5M493 26.5h1M600 21.9h4M450 32.6h1.5M587 41.4h2M474 37.4h1.5M492 18.9h1M396 34.2h1M576 32.0h1M381 33.1h2M367 23.6h1M363 13.1h3M334 43.8h1M463 45.9h1M331 33.6h3M437 34.5h1M481 41.3h1M756 44.6h5M763 45.6h5M652 26.1h5M816 41.9h1M714 44.4h5M685 37.8h1M646 25.0h5M797 29.9h3M697 33.0h5M655 20.6h1.5M822 33.1h3M653 24.4h1M687 28.2h1.5M817 45.2h3M807 29.3h2M774 34.5h1.5M734 26.0h4M718 36.3h1M812 25.5h1M732 28.1h1M814 39.4h1M896 43.8h1.5M917 44.1h2M773 28.9h1M880 24.7h1.5M815 32.4h1M855 25.1h5M710 33.4h2M861 28.8h1M714 33.8h2" stroke="#1f8f9c" stroke-width="1.5" opacity="0.78" fill="none"/><rect x="381" y="10" width="1.6" height="11" fill="#b9d3f0" opacity="0.55"/><rect x="311" y="12" width="1.6" height="10" fill="#b9d3f0" opacity="0.55"/><rect x="455" y="13" width="1.6" height="22" fill="#b9d3f0" opacity="0.55"/><rect x="520" y="9" width="1.6" height="9" fill="#b9d3f0" opacity="0.55"/><rect x="548" y="7" width="1.6" height="9" fill="#b9d3f0" opacity="0.55"/><rect x="577" y="14" width="1.6" height="10" fill="#b9d3f0" opacity="0.55"/><rect x="610" y="11" width="1.6" height="10" fill="#b9d3f0" opacity="0.55"/><rect x="703" y="20" width="1.6" height="14" fill="#b9d3f0" opacity="0.55"/><rect x="838" y="23" width="1.6" height="10" fill="#b9d3f0" opacity="0.55"/><rect x="0" y="45.7" width="934" height="1.4" fill="#7397d2"/><rect x="0" y="47" width="934" height="1" fill="#3d6fc2"/></svg><svg class="logo" width="17" height="16" viewBox="0 0 17 16"><path d="M0,0H12V3H3V13H0Z" fill="#2b9be3"/><path d="M16.2,2.5V15.5H3.5V12.5H13V2.5Z" fill="#5db431"/><path d="M0,13H3V15.5H0Z" fill="#1d6fc0"/><path d="M12,0H16.2V2.5H12Z" fill="#8cc63f"/><rect x="4.2" y="4" width="7.8" height="7.8" fill="#f39a00"/><rect x="4.2" y="4" width="2.2" height="7.8" fill="#f7b733"/></svg><div class="lt">恒力期货</div><div class="ls">HENGLI FUTURES</div><div class="ttl">EIA周度数据</div><div class="date">2025年11月28日</div></div>
<div class="bar" style="top:48px;height:14px;line-height:18.6px">核心数据概览</div>
<div class="gh"></div>
<span class="c h" style="left:51.3px;top:64.5px">EIA周度库存数据</span>
<span class="c h" style="left:-28.0px;top:78.4px">核心指标</span>
<span class="c h" style="left:71.6px;top:78.4px">本期</span>
<span class="c h" style="left:131.1px;top:78.4px">上期</span>
<span class="c h" style="left:187.6px;top:78.4px">变动值</span>
<span class="c " style="left:-30.3px;top:93.4px;letter-spacing:1.7px">原油库存(万桶)</span>
<span class="c n" style="left:70.6px;top:93.4px">42692.90</span>
<span class="c n" style="left:130.1px;top:93.4px">42415.50</span>
<span class="c n r" style="left:185.1px;top:93.4px">277.40</span>
<span class="c " style="left:-30.3px;top:109.2px">库欣库存（万桶）</span>
<span class="c n" style="left:70.6px;top:109.2px">2175.30</span>
<span class="c n" style="left:130.1px;top:109.2px">2182.10</span>
<span class="c n g" style="left:185.1px;top:109.2px">-6.80</span>
<span class="c " style="left:-30.3px;top:125.1px">SPR库存（万桶）</span>
<span class="c n" style="left:70.6px;top:125.1px">41142.40</span>
<span class="c n" style="left:130.1px;top:125.1px">41092.60</span>
<span class="c n r" style="left:185.1px;top:125.1px">49.80</span>
<span class="c " style="left:-30.3px;top:140.9px">汽油库存（万桶）</span>
<span class="c n" style="left:70.6px;top:140.9px">20990.40</span>
<span class="c n" style="left:130.1px;top:140.9px">20739.10</span>
<span class="c n r" style="left:185.1px;top:140.9px">251.30</span>
<span class="c " style="left:-30.3px;top:156.8px">馏分油库存（万桶）</span>
<span class="c n" style="left:70.6px;top:156.8px">11222.70</span>
<span class="c n" style="left:130.1px;top:156.8px">11108.00</span>
<span class="c n r" style="left:185.1px;top:156.8px">114.70</span>
<span class="c " style="left:-30.3px;top:172.6px">航空煤油库存（万桶）</span>
<span class="c n" style="left:70.6px;top:172.6px">4333.20</span>
<span class="c n" style="left:130.1px;top:172.6px">4296.20</span>
<span class="c n r" style="left:185.1px;top:172.6px">37.00</span>
<span class="c " style="left:-30.3px;top:188.5px">燃料油库存（万桶）</span>
<span class="c n" style="left:70.6px;top:188.5px">2286.80</span>
<span class="c n" style="left:130.1px;top:188.5px">2339.90</span>
<span class="c n g" style="left:185.1px;top:188.5px">-53.10</span>
<span class="c h" style="left:368.1px;top:64.5px">EIA周度生产及进出口数据</span>
<span class="c h" style="left:285.6px;top:78.4px">核心指标</span>
<span class="c h" style="left:383.1px;top:78.4px">本期</span>
<span class="c h" style="left:445.6px;top:78.4px">上期</span>
<span class="c h" style="left:496.6px;top:78.4px">变动值</span>
<span class="c " style="left:285.2px;top:93.4px">炼油厂产能利用率(%)</span>
<span class="c n" style="left:382.1px;top:93.4px">92.30</span>
<span class="c n" style="left:444.6px;top:93.4px">90.00</span>
<span class="c n r" style="left:494.1px;top:93.4px">2.30</span>
<span class="c " style="left:285.2px;top:109.2px;letter-spacing:1.35px">原油产量（万桶/日）</span>
<span class="c n" style="left:382.1px;top:109.2px">1381.40</span>
<span class="c n" style="left:444.6px;top:109.2px">1383.40</span>
<span class="c n g" style="left:494.1px;top:109.2px">-2.00</span>
<span class="c " style="left:285.2px;top:125.1px;letter-spacing:1.35px">原油加工量（万桶/日）</span>
<span class="c n" style="left:382.1px;top:125.1px">1644.30</span>
<span class="c n" style="left:444.6px;top:125.1px">1623.20</span>
<span class="c n r" style="left:494.1px;top:125.1px">21.10</span>
<span class="c " style="left:285.2px;top:140.9px;letter-spacing:1.35px">原油进口量（万桶/日）</span>
<span class="c n" style="left:382.1px;top:140.9px">643.60</span>
<span class="c n" style="left:444.6px;top:140.9px">595.00</span>
<span class="c n r" style="left:494.1px;top:140.9px">48.60</span>
<span class="c " style="left:285.2px;top:156.8px;letter-spacing:1.35px">原油出口量（万桶/日）</span>
<span class="c n" style="left:382.1px;top:156.8px">359.80</span>
<span class="c n" style="left:444.6px;top:156.8px">415.80</span>
<span class="c n g" style="left:494.1px;top:156.8px">-56.00</span>
<span class="c " style="left:285.2px;top:172.6px;letter-spacing:1.35px">成品油进口量（万桶/日）</span>
<span class="c n" style="left:382.1px;top:172.6px">169.90</span>
<span class="c n" style="left:444.6px;top:172.6px">139.00</span>
<span class="c n r" style="left:494.1px;top:172.6px">30.90</span>
<span class="c " style="left:285.2px;top:188.5px;letter-spacing:1.35px">成品油出口量（万桶/日）</span>
<span class="c n" style="left:382.1px;top:188.5px">603.30</span>
<span class="c n" style="left:444.6px;top:188.5px">559.80</span>
<span class="c n r" style="left:494.1px;top:188.5px">43.50</span>
<span class="c h" style="left:604.6px;top:78.4px">核心指标</span>
<span class="c h" style="left:704.6px;top:78.4px">本期</span>
<span class="c h" style="left:764.6px;top:78.4px">上期</span>
<span class="c h" style="left:814.1px;top:78.4px">变动值</span>
<span class="c " style="left:602.7px;top:93.4px;letter-spacing:1.35px">隐含需求-汽油（万桶/日）</span>
<span class="c n" style="left:703.6px;top:93.4px">872.60</span>
<span class="c n" style="left:763.6px;top:93.4px">852.80</span>
<span class="c n r" style="left:811.6px;top:93.4px">19.80</span>
<span class="c " style="left:602.7px;top:109.2px;letter-spacing:1.35px">隐含需求-航煤（万桶/日）</span>
<span class="c n" style="left:703.6px;top:109.2px">169.80</span>
<span class="c n" style="left:763.6px;top:109.2px">166.90</span>
<span class="c n r" style="left:811.6px;top:109.2px">2.90</span>
<span class="c " style="left:602.7px;top:125.1px;letter-spacing:1.35px">隐含需求-馏分油（万桶/日）</span>
<span class="c n" style="left:703.6px;top:125.1px">336.20</span>
<span class="c n" style="left:763.6px;top:125.1px">388.20</span>
<span class="c n g" style="left:811.6px;top:125.1px">-52.00</span>
<span class="c " style="left:602.7px;top:140.9px;letter-spacing:1.35px">隐含需求-残余燃料（万桶/日）</span>
<span class="c n" style="left:703.6px;top:140.9px">17.40</span>
<span class="c n" style="left:763.6px;top:140.9px">7.80</span>
<span class="c n r" style="left:811.6px;top:140.9px">9.60</span>
<span class="c " style="left:602.7px;top:156.8px;letter-spacing:1.35px">隐含需求-丙烷丙烯（万桶/日）</span>
<span class="c n" style="left:703.6px;top:156.8px">152.20</span>
<span class="c n" style="left:763.6px;top:156.8px">112.20</span>
<span class="c n r" style="left:811.6px;top:156.8px">40.00</span>
<span class="c" style="left:682px;top:65.5px">.</span>
<div class="bar" style="top:202px;line-height:20.2px">库存数据</div>
<div class="bar" style="top:809.2px;height:13.8px;line-height:20.2px">生产及进出口数据</div>
<div class="bar" style="top:1416px;height:14px;line-height:20.4px">隐含需求数据</div>
<div class="bar ft" style="top:1825px">数据来源：EIA 恒力期货研究院</div>
<svg class="ch" width="935" height="1860" viewBox="0 0 935 1860"><clipPath id="c_crude"><rect x="31.7" y="252.7" width="261.3" height="144.8"/></clipPath>
<text x="162.2" y="228.8" text-anchor="middle" font-size="10.3" font-weight="bold" letter-spacing="1.25" fill="#000" font-family="Liberation Sans,Noto Sans CJK SC,sans-serif">美国商业原油库存（万桶）</text>
<rect x="22.5" y="239.8" width="20.0" height="3.2" fill="#d9d9d9"/><text x="45.3" y="243.6" font-size="6.4" fill="#404040" font-family="Liberation Sans,Noto Sans CJK SC,sans-serif">五年区间</text><path d="M78.2,241.4h20.3" stroke="#a9d18e" stroke-width="1.4" stroke-linecap="butt"/><text x="101.0" y="243.6" font-size="6.1" fill="#404040" font-family="Liberation Sans,Noto Sans CJK SC,sans-serif">2022</text><path d="M121.0,241.4h20.3" stroke="#8faadc" stroke-width="1.4" stroke-linecap="butt"/><text x="143.8" y="243.6" font-size="6.1" fill="#404040" font-family="Liberation Sans,Noto Sans CJK SC,sans-serif">2023</text><path d="M163.7,241.4h20.3" stroke="#ffa500" stroke-width="1.75" stroke-linecap="butt"/><text x="186.5" y="243.6" font-size="6.1" fill="#404040" font-family="Liberation Sans,Noto Sans CJK SC,sans-serif">2024</text><path d="M206.5,241.4h20.3" stroke="#c00000" stroke-width="2.2" stroke-linecap="butt"/><text x="229.3" y="243.6" font-size="6.1" fill="#404040" font-family="Liberation Sans,Noto Sans CJK SC,sans-serif">2025</text><path d="M249.3,241.4h20.3" stroke="#9c9c9c" stroke-width="1.3" stroke-dasharray="3.2,2" stroke-linecap="butt"/><text x="272.1" y="243.6" font-size="6.1" fill="#404040" font-family="Liberation Sans,Noto Sans CJK SC,sans-serif">Ave</text>
<g clip-path="url(#c_crude)"><path d="M32.7,309.4 L37.7,309.7 L42.6,310.6 L47.6,312.8 L52.6,313.1 L57.5,314.5 L62.5,314.0 L67.5,313.7 L72.4,308.5 L77.4,305.9 L82.4,302.6 L87.3,302.1 L92.3,301.6 L97.3,301.8 L102.2,300.2 L107.2,297.0 L112.2,294.0 L117.1,289.8 L122.1,288.6 L127.1,287.4 L132.0,288.3 L137.0,287.5 L142.0,285.1 L146.9,283.0 L151.9,285.5 L156.9,285.5 L161.9,285.7 L166.8,286.7 L171.8,287.0 L176.8,289.9 L181.7,291.9 L186.7,294.4 L191.7,295.9 L196.6,299.0 L201.6,300.4 L206.6,301.9 L211.5,303.5 L216.5,305.0 L221.5,306.5 L226.4,306.2 L231.4,306.7 L236.4,307.6 L241.3,309.6 L246.3,309.2 L251.3,309.3 L256.2,308.5 L261.2,306.1 L266.2,304.2 L271.1,301.8 L276.1,301.4 L281.1,303.6 L286.0,304.6 L291.0,305.7 L291.0,342.2 L286.0,341.7 L281.1,341.1 L276.1,341.8 L271.1,342.7 L266.2,341.9 L261.2,340.2 L256.2,340.0 L251.3,340.6 L246.3,341.2 L241.3,341.4 L236.4,341.7 L231.4,342.4 L226.4,342.4 L221.5,342.5 L216.5,341.9 L211.5,341.5 L206.6,341.4 L201.6,341.2 L196.6,341.3 L191.7,340.0 L186.7,339.6 L181.7,339.5 L176.8,340.0 L171.8,341.0 L166.8,341.3 L161.9,342.6 L156.9,342.0 L151.9,340.3 L146.9,340.8 L142.0,341.4 L137.0,341.2 L132.0,341.7 L127.1,341.5 L122.1,341.3 L117.1,342.0 L112.2,343.3 L107.2,343.2 L102.2,343.6 L97.3,344.3 L92.3,343.9 L87.3,343.9 L82.4,344.1 L77.4,343.8 L72.4,344.5 L67.5,343.2 L62.5,344.0 L57.5,343.9 L52.6,344.6 L47.6,343.4 L42.6,343.6 L37.7,343.9 L32.7,343.1Z" fill="#d9d9d9"/>
<path d="M32.7,330.2 L37.7,330.7 L42.6,329.8 L47.6,329.2 L52.6,328.9 L57.5,326.9 L62.5,327.2 L67.5,325.4 L72.4,323.7 L77.4,322.2 L82.4,322.2 L87.3,321.3 L92.3,319.9 L97.3,318.8 L102.2,319.1 L107.2,316.2 L112.2,317.5 L117.1,316.4 L122.1,316.4 L127.1,316.5 L132.0,317.3 L137.0,317.9 L142.0,317.9 L146.9,319.7 L151.9,320.8 L156.9,320.8 L161.9,322.2 L166.8,322.2 L171.8,324.2 L176.8,325.1 L181.7,325.3 L186.7,326.7 L191.7,328.3 L196.6,330.3 L201.6,332.7 L206.6,334.1 L211.5,333.3 L216.5,334.9 L221.5,333.5 L226.4,331.3 L231.4,332.3 L236.4,330.8 L241.3,329.4 L246.3,327.4 L251.3,326.9 L256.2,326.7 L261.2,327.6 L266.2,328.0 L271.1,329.5 L276.1,329.7 L281.1,330.2 L286.0,331.7 L291.0,332.6" fill="none" stroke="#9c9c9c" stroke-width="1.3" stroke-linejoin="round" stroke-linecap="round" stroke-dasharray="3.2,2"/>
<path d="M32.7,344.0 L37.7,342.3 L42.6,341.8 L47.6,343.8 L52.6,343.3 L57.5,342.4 L62.5,341.3 L67.5,343.7 L72.4,343.4 L77.4,344.2 L82.4,344.0 L87.3,342.1 L92.3,342.6 L97.3,344.5 L102.2,342.9 L107.2,342.0 L112.2,339.8 L117.1,342.9 L122.1,341.4 L127.1,340.4 L132.0,339.1 L137.0,341.7 L142.0,343.6 L146.9,340.6 L151.9,340.0 L156.9,339.5 L161.9,338.4 L166.8,337.5 L171.8,336.7 L176.8,336.0 L181.7,336.7 L186.7,336.6 L191.7,337.2 L196.6,337.7 L201.6,338.8 L206.6,338.6 L211.5,338.7 L216.5,334.9 L221.5,333.6 L226.4,335.8 L231.4,334.6 L236.4,330.9 L241.3,331.3 L246.3,330.0 L251.3,333.7 L256.2,331.6 L261.2,333.9 L266.2,337.9 L271.1,342.6 L276.1,340.2 L281.1,337.7 L286.0,339.3 L291.0,340.5" fill="none" stroke="#a9d18e" stroke-width="1.4" stroke-linejoin="round" stroke-linecap="round"/>
<path d="M32.7,329.9 L37.7,327.8 L42.6,327.0 L47.6,324.4 L52.6,322.0 L57.5,318.7 L62.5,313.8 L67.5,311.8 L72.4,312.9 L77.4,312.0 L82.4,309.3 L87.3,311.4 L92.3,313.3 L97.3,317.3 L102.2,316.4 L107.2,319.0 L112.2,318.5 L117.1,321.9 L122.1,320.8 L127.1,319.8 L132.0,320.7 L137.0,321.4 L142.0,321.0 L146.9,320.0 L151.9,319.5 L156.9,319.9 L161.9,323.2 L166.8,322.6 L171.8,323.3 L176.8,323.1 L181.7,328.7 L186.7,332.1 L191.7,331.1 L196.6,333.6 L201.6,338.8 L206.6,339.0 L211.5,342.8 L216.5,343.1 L221.5,341.5 L226.4,341.8 L231.4,340.8 L236.4,338.9 L241.3,338.2 L246.3,334.8 L251.3,334.9 L256.2,328.2 L261.2,324.4 L266.2,327.6 L271.1,328.0 L276.1,328.5 L281.1,331.1 L286.0,333.3 L291.0,337.6" fill="none" stroke="#8faadc" stroke-width="1.4" stroke-linejoin="round" stroke-linecap="round"/>
<path d="M32.7,335.1 L37.7,335.4 L42.6,339.1 L47.6,338.1 L52.6,334.0 L57.5,331.9 L62.5,329.3 L67.5,328.2 L72.4,326.1 L77.4,327.4 L82.4,325.4 L87.3,326.8 L92.3,326.4 L97.3,323.8 L102.2,323.0 L107.2,321.2 L112.2,322.1 L117.1,321.8 L122.1,322.4 L127.1,322.8 L132.0,322.0 L137.0,323.3 L142.0,323.0 L146.9,321.7 L151.9,323.6 L156.9,325.2 L161.9,327.4 L166.8,329.6 L171.8,332.2 L176.8,336.4 L181.7,334.4 L186.7,334.8 L191.7,336.5 L196.6,336.1 L201.6,339.3 L206.6,341.8 L211.5,341.7 L216.5,341.5 L221.5,341.7 L226.4,341.2 L231.4,338.7 L236.4,336.7 L241.3,338.4 L246.3,337.9 L251.3,334.8 L256.2,336.6 L261.2,336.9 L266.2,338.4 L271.1,339.3 L276.1,340.3 L281.1,341.0 L286.0,340.6 L291.0,341.6" fill="none" stroke="#ffa500" stroke-width="1.75" stroke-linejoin="round" stroke-linecap="round"/>
<path d="M32.7,341.8 L37.7,344.8 L42.6,342.7 L47.6,338.2 L52.6,338.7 L57.5,334.6 L62.5,335.9 L67.5,334.8 L72.4,334.4 L77.4,335.4 L82.4,333.4 L87.3,333.6 L92.3,330.0 L97.3,331.4 L102.2,331.9 L107.2,327.5 L112.2,330.9 L117.1,331.6 L122.1,328.5 L127.1,330.5 L132.0,332.5 L137.0,332.8 L142.0,335.2 L146.9,339.5 L151.9,340.9 L156.9,341.0 L161.9,337.0 L166.8,339.3 L171.8,340.3 L176.8,337.1 L181.7,340.0 L186.7,339.3 L191.7,338.3 L196.6,339.5 L201.6,338.5 L206.6,339.4 L211.5,339.7 L216.5,341.4 L221.5,341.4 L226.4,340.3 L231.4,341.1 L236.4,341.4 L241.3,340.7 L246.3,341.4 L251.3,338.4 L256.2,336.9 L261.2,336.0" fill="none" stroke="#c00000" stroke-width="2.2" stroke-linejoin="round" stroke-linecap="round"/>
</g>
<path d="M32.5,255.7V396.5" fill="none" stroke="#a6a6a6" stroke-width="1"/>
<path d="M32.0,396.5H291.0" fill="none" stroke="#a6a6a6" stroke-width="1"/>
<g font-size="6.05" text-anchor="end" fill="#4d4d4d" font-family="Liberation Sans,Noto Sans CJK SC,sans-serif"><text x="24.4" y="398.8">30,000</text><text x="24.4" y="375.3">35,000</text><text x="24.4" y="351.7">40,000</text><text x="24.4" y="328.2">45,000</text><text x="24.4" y="304.7">50,000</text><text x="24.4" y="281.1">55,000</text><text x="24.4" y="257.6">60,000</text></g>
<g font-size="6.05" text-anchor="middle" fill="#4d4d4d" font-family="Liberation Sans,Noto Sans CJK SC,sans-serif"><text x="32.7" y="405.3">1/1</text><text x="54.7" y="405.3">2/1</text><text x="74.6" y="405.3">3/1</text><text x="96.6" y="405.3">4/1</text><text x="117.9" y="405.3">5/1</text><text x="139.9" y="405.3">6/1</text><text x="161.1" y="405.3">7/1</text><text x="183.1" y="405.3">8/1</text><text x="205.1" y="405.3">9/1</text><text x="226.4" y="405.3">10/1</text><text x="248.4" y="405.3">11/1</text><text x="269.7" y="405.3">12/1</text></g>
<clipPath id="c_cushing"><rect x="342.2" y="252.7" width="268.8" height="144.8"/></clipPath>
<text x="472.8" y="228.8" text-anchor="middle" font-size="10.3" font-weight="bold" letter-spacing="1.25" fill="#000" font-family="Liberation Sans,Noto Sans CJK SC,sans-serif">美国库欣库存（万桶）</text>
<rect x="337.3" y="239.8" width="20.2" height="3.2" fill="#d9d9d9"/><text x="360.3" y="243.6" font-size="6.4" fill="#404040" font-family="Liberation Sans,Noto Sans CJK SC,sans-serif">五年区间</text><path d="M393.6,241.4h20.5" stroke="#a9d18e" stroke-width="1.4" stroke-linecap="butt"/><text x="416.6" y="243.6" font-size="6.1" fill="#404040" font-family="Liberation Sans,Noto Sans CJK SC,sans-serif">2022</text><path d="M436.8,241.4h20.5" stroke="#8faadc" stroke-width="1.4" stroke-linecap="butt"/><text x="459.8" y="243.6" font-size="6.1" fill="#404040" font-family="Liberation Sans,Noto Sans CJK SC,sans-serif">2023</text><path d="M479.9,241.4h20.5" stroke="#ffa500" stroke-width="1.75" stroke-linecap="butt"/><text x="502.9" y="243.6" font-size="6.1" fill="#404040" font-family="Liberation Sans,Noto Sans CJK SC,sans-serif">2024</text><path d="M523.1,241.4h20.5" stroke="#c00000" stroke-width="2.2" stroke-linecap="butt"/><text x="546.2" y="243.6" font-size="6.1" fill="#404040" font-family="Liberation Sans,Noto Sans CJK SC,sans-serif">2025</text><path d="M566.4,241.4h20.5" stroke="#9c9c9c" stroke-width="1.3" stroke-dasharray="3.2,2" stroke-linecap="butt"/><text x="589.4" y="243.6" font-size="6.1" fill="#404040" font-family="Liberation Sans,Noto Sans CJK SC,sans-serif">Ave</text>
<g clip-path="url(#c_cushing)"><path d="M343.2,278.1 L348.3,284.6 L353.4,290.1 L358.5,294.9 L363.6,298.4 L368.8,300.3 L373.9,302.7 L379.0,302.6 L384.1,300.4 L389.2,299.2 L394.3,301.0 L399.4,300.2 L404.5,299.3 L409.6,296.6 L414.8,286.7 L419.9,277.5 L425.0,272.6 L430.1,266.2 L435.2,274.1 L440.3,282.7 L445.4,289.4 L450.5,293.4 L455.7,298.0 L460.8,301.3 L465.9,303.2 L471.0,302.4 L476.1,302.0 L481.2,299.4 L486.3,295.7 L491.4,293.7 L496.5,291.1 L501.7,290.0 L506.8,291.3 L511.9,289.9 L517.0,288.4 L522.1,287.8 L527.2,287.8 L532.3,286.7 L537.4,283.6 L542.5,281.8 L547.7,278.5 L552.8,276.2 L557.9,275.4 L563.0,275.0 L568.1,274.5 L573.2,274.0 L578.3,274.5 L583.4,276.7 L588.6,279.0 L593.7,279.3 L598.8,279.2 L603.9,279.3 L609.0,279.8 L609.0,351.7 L603.9,351.4 L598.8,351.4 L593.7,351.5 L588.6,351.1 L583.4,351.2 L578.3,351.3 L573.2,352.0 L568.1,352.8 L563.0,353.4 L557.9,354.3 L552.8,354.3 L547.7,353.5 L542.5,352.9 L537.4,352.4 L532.3,351.6 L527.2,350.7 L522.1,350.1 L517.0,350.0 L511.9,350.6 L506.8,350.6 L501.7,351.2 L496.5,351.9 L491.4,353.1 L486.3,353.4 L481.2,354.1 L476.1,354.6 L471.0,353.2 L465.9,352.9 L460.8,351.1 L455.7,349.5 L450.5,348.2 L445.4,348.9 L440.3,348.4 L435.2,348.3 L430.1,348.2 L425.0,347.9 L419.9,346.3 L414.8,347.0 L409.6,346.6 L404.5,348.1 L399.4,349.7 L394.3,350.7 L389.2,349.9 L384.1,350.5 L379.0,350.2 L373.9,351.3 L368.8,352.6 L363.6,354.1 L358.5,354.3 L353.4,354.1 L348.3,355.8 L343.2,356.6Z" fill="#d9d9d9"/>
<path d="M343.2,319.3 L348.3,320.1 L353.4,322.5 L358.5,322.8 L363.6,323.5 L368.8,322.8 L373.9,324.1 L379.0,323.8 L384.1,324.0 L389.2,324.5 L394.3,324.0 L399.4,323.4 L404.5,321.6 L409.6,319.9 L414.8,317.9 L419.9,316.0 L425.0,314.1 L430.1,311.2 L435.2,313.5 L440.3,316.0 L445.4,317.6 L450.5,319.6 L455.7,320.9 L460.8,322.0 L465.9,322.2 L471.0,323.1 L476.1,324.6 L481.2,324.9 L486.3,326.3 L491.4,326.1 L496.5,325.8 L501.7,326.1 L506.8,327.7 L511.9,328.7 L517.0,328.6 L522.1,330.4 L527.2,332.2 L532.3,333.5 L537.4,331.9 L542.5,330.6 L547.7,331.0 L552.8,332.1 L557.9,330.9 L563.0,330.9 L568.1,329.5 L573.2,330.4 L578.3,329.8 L583.4,329.5 L588.6,329.2 L593.7,327.4 L598.8,326.3 L603.9,325.4 L609.0,324.3" fill="none" stroke="#9c9c9c" stroke-width="1.3" stroke-linejoin="round" stroke-linecap="round" stroke-dasharray="3.2,2"/>
<path d="M343.2,327.7 L348.3,327.2 L353.4,329.6 L358.5,332.7 L363.6,334.2 L368.8,339.3 L373.9,344.2 L379.0,345.7 L384.1,349.7 L389.2,349.8 L394.3,348.7 L399.4,347.1 L404.5,346.3 L409.6,344.4 L414.8,343.4 L419.9,343.2 L425.0,339.8 L430.1,338.3 L435.2,340.5 L440.3,343.5 L445.4,345.0 L450.5,346.8 L455.7,349.4 L460.8,351.6 L465.9,354.0 L471.0,353.3 L476.1,353.3 L481.2,351.6 L486.3,349.7 L491.4,349.1 L496.5,348.6 L501.7,346.7 L506.8,345.7 L511.9,347.1 L517.0,347.1 L522.1,347.4 L527.2,345.6 L532.3,346.5 L537.4,346.4 L542.5,344.8 L547.7,344.9 L552.8,345.2 L557.9,343.4 L563.0,342.2 L568.1,342.5 L573.2,343.1 L578.3,346.1 L583.4,346.7 L588.6,348.2 L593.7,347.1 L598.8,346.3 L603.9,346.7 L609.0,345.6" fill="none" stroke="#a9d18e" stroke-width="1.4" stroke-linejoin="round" stroke-linecap="round"/>
<path d="M343.2,339.8 L348.3,332.0 L353.4,323.4 L358.5,319.2 L363.6,318.9 L368.8,315.8 L373.9,314.2 L379.0,314.4 L384.1,317.8 L389.2,322.5 L394.3,324.1 L399.4,326.9 L404.5,327.0 L409.6,328.3 L414.8,328.7 L419.9,330.8 L425.0,329.3 L430.1,328.1 L435.2,324.7 L440.3,320.7 L445.4,316.4 L450.5,314.9 L455.7,311.5 L460.8,311.4 L465.9,309.4 L471.0,311.0 L476.1,314.7 L481.2,318.7 L486.3,322.8 L491.4,324.8 L496.5,325.4 L501.7,329.0 L506.8,334.9 L511.9,339.8 L517.0,343.6 L522.1,347.9 L527.2,349.7 L532.3,354.2 L537.4,354.0 L542.5,353.9 L547.7,353.3 L552.8,354.6 L557.9,353.2 L563.0,351.5 L568.1,348.7 L573.2,345.2 L578.3,341.1 L583.4,338.6 L588.6,335.4 L593.7,332.8 L598.8,330.0 L603.9,328.2 L609.0,324.8" fill="none" stroke="#8faadc" stroke-width="1.4" stroke-linejoin="round" stroke-linecap="round"/>
<path d="M343.2,326.8 L348.3,332.2 L353.4,339.1 L358.5,338.3 L363.6,338.2 L368.8,338.3 L373.9,338.3 L379.0,335.7 L384.1,331.4 L389.2,332.0 L394.3,332.0 L399.4,330.5 L404.5,329.6 L409.6,330.3 L414.8,331.2 L419.9,332.0 L425.0,328.3 L430.1,327.8 L435.2,324.8 L440.3,323.7 L445.4,325.3 L450.5,327.3 L455.7,328.4 L460.8,328.5 L465.9,328.9 L471.0,329.0 L476.1,329.3 L481.2,329.3 L486.3,331.0 L491.4,334.1 L496.5,335.5 L501.7,338.0 L506.8,339.5 L511.9,340.9 L517.0,343.8 L522.1,346.3 L527.2,348.4 L532.3,349.6 L537.4,348.9 L542.5,345.9 L547.7,347.7 L552.8,346.3 L557.9,345.5 L563.0,344.5 L568.1,346.4 L573.2,345.2 L578.3,348.0 L583.4,350.3 L588.6,349.7 L593.7,350.2 L598.8,351.8 L603.9,350.8 L609.0,351.6" fill="none" stroke="#ffa500" stroke-width="1.75" stroke-linejoin="round" stroke-linecap="round"/>
<path d="M343.2,356.6 L348.3,356.6 L353.4,354.1 L358.5,354.1 L363.6,353.9 L368.8,352.5 L373.9,348.9 L379.0,346.9 L384.1,348.6 L389.2,348.9 L394.3,348.8 L399.4,349.7 L404.5,347.4 L409.6,345.8 L414.8,345.4 L419.9,345.8 L425.0,346.3 L430.1,346.8 L435.2,347.2 L440.3,348.4 L445.4,349.3 L450.5,348.4 L455.7,348.5 L460.8,349.2 L465.9,350.9 L471.0,353.4 L476.1,354.4 L481.2,354.3 L486.3,353.5 L491.4,351.6 L496.5,351.1 L501.7,351.1 L506.8,350.4 L511.9,349.6 L517.0,348.8 L522.1,348.8 L527.2,348.8 L532.3,350.3 L537.4,350.1 L542.5,350.1 L547.7,353.5 L552.8,353.2 L557.9,353.6 L563.0,351.6 L568.1,350.2 L573.2,352.7 L578.3,352.9" fill="none" stroke="#c00000" stroke-width="2.2" stroke-linejoin="round" stroke-linecap="round"/>
</g>
<path d="M343.5,255.7V396.5" fill="none" stroke="#a6a6a6" stroke-width="1"/>
<path d="M343.0,396.5H609.0" fill="none" stroke="#a6a6a6" stroke-width="1"/>
<g font-size="6.05" text-anchor="end" fill="#4d4d4d" font-family="Liberation Sans,Noto Sans CJK SC,sans-serif"><text x="334.9" y="398.8">0</text><text x="334.9" y="378.6">1,000</text><text x="334.9" y="358.5">2,000</text><text x="334.9" y="338.3">3,000</text><text x="334.9" y="318.1">4,000</text><text x="334.9" y="297.9">5,000</text><text x="334.9" y="277.8">6,000</text><text x="334.9" y="257.6">7,000</text></g>
<g font-size="6.05" text-anchor="middle" fill="#4d4d4d" font-family="Liberation Sans,Noto Sans CJK SC,sans-serif"><text x="343.2" y="405.3">1/1</text><text x="365.8" y="405.3">2/1</text><text x="386.3" y="405.3">3/1</text><text x="408.9" y="405.3">4/1</text><text x="430.8" y="405.3">5/1</text><text x="453.5" y="405.3">6/1</text><text x="475.4" y="405.3">7/1</text><text x="498.0" y="405.3">8/1</text><text x="520.6" y="405.3">9/1</text><text x="542.5" y="405.3">10/1</text><text x="565.2" y="405.3">11/1</text><text x="587.1" y="405.3">12/1</text></g>
<clipPath id="c_gasoline"><rect x="31.7" y="450.3" width="261.3" height="144.8"/></clipPath>
<text x="149.4" y="426.4" text-anchor="middle" font-size="10.3" font-weight="bold" letter-spacing="1.25" fill="#000" font-family="Liberation Sans,Noto Sans CJK SC,sans-serif">美国汽油库存（万桶）</text>
<rect x="22.5" y="437.4" width="20.0" height="3.2" fill="#d9d9d9"/><text x="45.3" y="441.2" font-size="6.4" fill="#404040" font-family="Liberation Sans,Noto Sans CJK SC,sans-serif">五年区间</text><path d="M78.2,439.0h20.3" stroke="#a9d18e" stroke-width="1.4" stroke-linecap="butt"/><text x="101.0" y="441.2" font-size="6.1" fill="#404040" font-family="Liberation Sans,Noto Sans CJK SC,sans-serif">2022</text><path d="M121.0,439.0h20.3" stroke="#8faadc" stroke-width="1.4" stroke-linecap="butt"/><text x="143.8" y="441.2" font-size="6.1" fill="#404040" font-family="Liberation Sans,Noto Sans CJK SC,sans-serif">2023</text><path d="M163.7,439.0h20.3" stroke="#ffa500" stroke-width="1.75" stroke-linecap="butt"/><text x="186.5" y="441.2" font-size="6.1" fill="#404040" font-family="Liberation Sans,Noto Sans CJK SC,sans-serif">2024</text><path d="M206.5,439.0h20.3" stroke="#c00000" stroke-width="2.2" stroke-linecap="butt"/><text x="229.3" y="441.2" font-size="6.1" fill="#404040" font-family="Liberation Sans,Noto Sans CJK SC,sans-serif">2025</text><path d="M249.3,439.0h20.3" stroke="#9c9c9c" stroke-width="1.3" stroke-dasharray="3.2,2" stroke-linecap="butt"/><text x="272.1" y="441.2" font-size="6.1" fill="#404040" font-family="Liberation Sans,Noto Sans CJK SC,sans-serif">Ave</text>
<g clip-path="url(#c_gasoline)"><path d="M32.7,513.5 L37.7,508.8 L42.6,504.6 L47.6,502.9 L52.6,504.3 L57.5,504.1 L62.5,504.7 L67.5,506.4 L72.4,508.4 L77.4,514.5 L82.4,522.2 L87.3,523.5 L92.3,516.1 L97.3,512.6 L102.2,506.6 L107.2,500.4 L112.2,503.9 L117.1,508.0 L122.1,510.2 L127.1,510.9 L132.0,509.6 L137.0,506.5 L142.0,506.5 L146.9,507.4 L151.9,509.9 L156.9,512.7 L161.9,517.4 L166.8,519.6 L171.8,520.7 L176.8,520.0 L181.7,520.8 L186.7,521.2 L191.7,527.2 L196.6,530.4 L201.6,536.7 L206.6,540.0 L211.5,541.4 L216.5,543.7 L221.5,544.6 L226.4,545.2 L231.4,547.9 L236.4,548.9 L241.3,548.5 L246.3,547.1 L251.3,546.8 L256.2,546.6 L261.2,542.3 L266.2,540.4 L271.1,538.2 L276.1,533.3 L281.1,532.9 L286.0,532.2 L291.0,532.6 L291.0,552.7 L286.0,553.8 L281.1,555.5 L276.1,559.3 L271.1,564.1 L266.2,567.8 L261.2,570.9 L256.2,573.8 L251.3,573.7 L246.3,571.8 L241.3,570.4 L236.4,570.0 L231.4,569.9 L226.4,571.7 L221.5,567.4 L216.5,564.2 L211.5,564.3 L206.6,563.8 L201.6,562.6 L196.6,562.2 L191.7,560.9 L186.7,560.9 L181.7,560.7 L176.8,560.7 L171.8,559.6 L166.8,558.6 L161.9,556.9 L156.9,557.4 L151.9,557.8 L146.9,558.9 L142.0,559.3 L137.0,560.7 L132.0,560.0 L127.1,558.9 L122.1,556.6 L117.1,555.8 L112.2,555.0 L107.2,553.0 L102.2,552.3 L97.3,551.2 L92.3,548.9 L87.3,544.5 L82.4,540.6 L77.4,539.6 L72.4,535.7 L67.5,532.1 L62.5,531.8 L57.5,531.2 L52.6,533.0 L47.6,537.8 L42.6,540.4 L37.7,544.8 L32.7,547.7Z" fill="#d9d9d9"/>
<path d="M32.7,528.0 L37.7,527.1 L42.6,521.1 L47.6,519.8 L52.6,516.6 L57.5,516.5 L62.5,516.9 L67.5,517.6 L72.4,521.9 L77.4,527.6 L82.4,532.5 L87.3,537.7 L92.3,537.6 L97.3,538.5 L102.2,536.3 L107.2,536.0 L112.2,535.8 L117.1,537.8 L122.1,538.1 L127.1,540.3 L132.0,540.3 L137.0,539.9 L142.0,540.6 L146.9,538.7 L151.9,538.9 L156.9,539.3 L161.9,538.1 L166.8,541.3 L171.8,540.8 L176.8,542.5 L181.7,544.4 L186.7,547.4 L191.7,548.8 L196.6,550.1 L201.6,551.2 L206.6,553.5 L211.5,554.4 L216.5,554.0 L221.5,555.3 L226.4,557.7 L231.4,557.6 L236.4,558.6 L241.3,559.9 L246.3,562.9 L251.3,561.9 L256.2,561.5 L261.2,560.5 L266.2,556.0 L271.1,553.2 L276.1,550.1 L281.1,546.9 L286.0,542.7 L291.0,541.0" fill="none" stroke="#9c9c9c" stroke-width="1.3" stroke-linejoin="round" stroke-linecap="round" stroke-dasharray="3.2,2"/>
<path d="M32.7,531.9 L37.7,523.7 L42.6,521.2 L47.6,517.1 L52.6,516.9 L57.5,516.2 L62.5,517.9 L67.5,520.6 L72.4,520.9 L77.4,521.8 L82.4,525.2 L87.3,526.9 L92.3,527.3 L97.3,532.8 L102.2,532.6 L107.2,537.1 L112.2,539.4 L117.1,544.2 L122.1,545.5 L127.1,547.7 L132.0,551.8 L137.0,555.4 L142.0,556.4 L146.9,556.0 L151.9,556.8 L156.9,557.9 L161.9,553.9 L166.8,551.4 L171.8,547.6 L176.8,546.0 L181.7,548.5 L186.7,553.1 L191.7,558.8 L196.6,566.0 L201.6,560.6 L206.6,560.4 L211.5,567.0 L216.5,568.1 L221.5,568.5 L226.4,569.8 L231.4,569.6 L236.4,568.2 L241.3,571.5 L246.3,573.5 L251.3,571.1 L256.2,571.8 L261.2,564.9 L266.2,560.9 L271.1,557.5 L276.1,554.3 L281.1,547.4 L286.0,551.0 L291.0,554.8" fill="none" stroke="#a9d18e" stroke-width="1.4" stroke-linejoin="round" stroke-linecap="round"/>
<path d="M32.7,548.4 L37.7,546.4 L42.6,538.6 L47.6,537.2 L52.6,531.1 L57.5,528.8 L62.5,528.1 L67.5,533.5 L72.4,532.4 L77.4,537.6 L82.4,541.9 L87.3,549.3 L92.3,549.2 L97.3,551.8 L102.2,551.7 L107.2,551.2 L112.2,555.1 L117.1,558.2 L122.1,556.6 L127.1,561.4 L132.0,555.5 L137.0,559.4 L142.0,560.6 L146.9,553.9 L151.9,554.2 L156.9,556.8 L161.9,558.1 L166.8,558.4 L171.8,560.7 L176.8,557.0 L181.7,556.7 L186.7,559.3 L191.7,561.7 L196.6,561.0 L201.6,560.4 L206.6,560.8 L211.5,558.9 L216.5,554.8 L221.5,553.0 L226.4,545.7 L231.4,546.5 L236.4,549.4 L241.3,549.9 L246.3,551.1 L251.3,556.5 L256.2,556.6 L261.2,558.2 L266.2,559.2 L271.1,555.3 L276.1,550.1 L281.1,546.5 L286.0,542.3 L291.0,535.7" fill="none" stroke="#8faadc" stroke-width="1.4" stroke-linejoin="round" stroke-linecap="round"/>
<path d="M32.7,525.7 L37.7,518.6 L42.6,513.0 L47.6,513.8 L52.6,517.1 L57.5,518.7 L62.5,522.9 L67.5,523.6 L72.4,528.7 L77.4,533.8 L82.4,536.8 L87.3,542.5 L92.3,544.7 L97.3,547.1 L102.2,545.7 L107.2,543.4 L112.2,547.9 L117.1,545.1 L122.1,548.6 L127.1,548.2 L132.0,544.1 L137.0,545.5 L142.0,542.8 L146.9,541.1 L151.9,537.7 L156.9,540.7 L161.9,543.6 L166.8,541.6 L171.8,538.6 L176.8,544.8 L181.7,547.2 L186.7,549.1 L191.7,551.5 L196.6,555.9 L201.6,553.8 L206.6,556.7 L211.5,552.6 L216.5,553.0 L221.5,557.0 L226.4,562.5 L231.4,559.4 L236.4,565.7 L241.3,565.2 L246.3,565.5 L251.3,566.6 L256.2,572.7 L261.2,568.4 L266.2,568.4 L271.1,563.8 L276.1,554.9 L281.1,552.7 L286.0,546.6 L291.0,542.6" fill="none" stroke="#ffa500" stroke-width="1.75" stroke-linejoin="round" stroke-linecap="round"/>
<path d="M32.7,532.8 L37.7,531.7 L42.6,522.9 L47.6,519.2 L52.6,517.3 L57.5,518.8 L62.5,516.2 L67.5,520.6 L72.4,521.9 L77.4,523.5 L82.4,528.5 L87.3,531.1 L92.3,533.7 L97.3,534.5 L102.2,538.7 L107.2,537.6 L112.2,543.5 L117.1,548.1 L122.1,548.4 L127.1,550.2 L132.0,545.6 L137.0,548.6 L142.0,544.9 L146.9,543.1 L151.9,543.5 L156.9,543.9 L161.9,543.5 L166.8,539.4 L171.8,541.0 L176.8,542.2 L181.7,547.9 L186.7,548.4 L191.7,549.2 L196.6,552.6 L201.6,555.3 L206.6,558.8 L211.5,556.6 L216.5,558.7 L221.5,556.1 L226.4,555.2 L231.4,558.7 L236.4,559.7 L241.3,564.5 L246.3,571.6 L251.3,572.0 L256.2,571.9 L261.2,572.3" fill="none" stroke="#c00000" stroke-width="2.2" stroke-linejoin="round" stroke-linecap="round"/>
</g>
<path d="M32.5,453.3V594.5" fill="none" stroke="#a6a6a6" stroke-width="1"/>
<path d="M32.0,594.5H291.0" fill="none" stroke="#a6a6a6" stroke-width="1"/>
<g font-size="6.05" text-anchor="end" fill="#4d4d4d" font-family="Liberation Sans,Noto Sans CJK SC,sans-serif"><text x="24.4" y="596.4">19,000</text><text x="24.4" y="570.7">21,000</text><text x="24.4" y="545.1">23,000</text><text x="24.4" y="519.4">25,000</text><text x="24.4" y="493.7">27,000</text><text x="24.4" y="468.0">29,000</text></g>
<g font-size="6.05" text-anchor="middle" fill="#4d4d4d" font-family="Liberation Sans,Noto Sans CJK SC,sans-serif"><text x="32.7" y="602.9">1/1</text><text x="54.7" y="602.9">2/1</text><text x="74.6" y="602.9">3/1</text><text x="96.6" y="602.9">4/1</text><text x="117.9" y="602.9">5/1</text><text x="139.9" y="602.9">6/1</text><text x="161.1" y="602.9">7/1</text><text x="183.1" y="602.9">8/1</text><text x="205.1" y="602.9">9/1</text><text x="226.4" y="602.9">10/1</text><text x="248.4" y="602.9">11/1</text><text x="269.7" y="602.9">12/1</text></g>
<clipPath id="c_distillate"><rect x="345.3" y="450.3" width="265.7" height="144.8"/></clipPath>
<text x="485.0" y="426.4" text-anchor="middle" font-size="10.3" font-weight="bold" letter-spacing="1.25" fill="#000" font-family="Liberation Sans,Noto Sans CJK SC,sans-serif">美国馏分油库存（万桶）</text>
<rect x="337.3" y="437.4" width="20.2" height="3.2" fill="#d9d9d9"/><text x="360.3" y="441.2" font-size="6.4" fill="#404040" font-family="Liberation Sans,Noto Sans CJK SC,sans-serif">五年区间</text><path d="M393.6,439.0h20.5" stroke="#a9d18e" stroke-width="1.4" stroke-linecap="butt"/><text x="416.6" y="441.2" font-size="6.1" fill="#404040" font-family="Liberation Sans,Noto Sans CJK SC,sans-serif">2022</text><path d="M436.8,439.0h20.5" stroke="#8faadc" stroke-width="1.4" stroke-linecap="butt"/><text x="459.8" y="441.2" font-size="6.1" fill="#404040" font-family="Liberation Sans,Noto Sans CJK SC,sans-serif">2023</text><path d="M479.9,439.0h20.5" stroke="#ffa500" stroke-width="1.75" stroke-linecap="butt"/><text x="502.9" y="441.2" font-size="6.1" fill="#404040" font-family="Liberation Sans,Noto Sans CJK SC,sans-serif">2024</text><path d="M523.1,439.0h20.5" stroke="#c00000" stroke-width="2.2" stroke-linecap="butt"/><text x="546.2" y="441.2" font-size="6.1" fill="#404040" font-family="Liberation Sans,Noto Sans CJK SC,sans-serif">2025</text><path d="M566.4,439.0h20.5" stroke="#9c9c9c" stroke-width="1.3" stroke-dasharray="3.2,2" stroke-linecap="butt"/><text x="589.4" y="441.2" font-size="6.1" fill="#404040" font-family="Liberation Sans,Noto Sans CJK SC,sans-serif">Ave</text>
<g clip-path="url(#c_distillate)"><path d="M346.3,500.8 L351.4,498.9 L356.4,496.3 L361.5,497.2 L366.5,496.6 L371.6,498.1 L376.6,501.4 L381.7,508.4 L386.7,521.9 L391.8,524.0 L396.8,522.6 L401.9,520.9 L406.9,518.2 L412.0,516.8 L417.0,518.7 L422.1,520.5 L427.1,515.9 L432.2,511.3 L437.2,506.6 L442.3,502.2 L447.3,495.4 L452.4,486.8 L457.4,482.9 L462.5,484.2 L467.5,483.9 L472.6,480.9 L477.6,481.4 L482.7,480.3 L487.8,479.2 L492.8,477.5 L497.9,478.5 L502.9,478.0 L508.0,478.3 L513.0,479.4 L518.1,480.4 L523.1,481.2 L528.2,481.8 L533.2,481.1 L538.3,484.2 L543.3,488.4 L548.4,494.5 L553.4,499.7 L558.5,503.2 L563.5,505.4 L568.6,510.5 L573.6,516.4 L578.7,518.5 L583.7,513.8 L588.8,510.9 L593.8,512.2 L598.9,512.1 L603.9,512.1 L609.0,509.1 L609.0,550.0 L603.9,551.6 L598.9,552.9 L593.8,554.8 L588.8,558.5 L583.7,561.3 L578.7,563.6 L573.6,565.0 L568.6,564.5 L563.5,563.3 L558.5,564.5 L553.4,564.0 L548.4,559.6 L543.3,555.6 L538.3,556.4 L533.2,557.7 L528.2,557.1 L523.1,558.4 L518.1,558.7 L513.0,560.1 L508.0,560.0 L502.9,559.5 L497.9,559.4 L492.8,558.7 L487.8,557.5 L482.7,558.8 L477.6,558.8 L472.6,560.5 L467.5,561.5 L462.5,563.7 L457.4,564.9 L452.4,566.2 L447.3,566.5 L442.3,566.4 L437.2,564.5 L432.2,562.1 L427.1,560.7 L422.1,558.6 L417.0,557.4 L412.0,555.5 L406.9,555.4 L401.9,556.4 L396.8,553.6 L391.8,552.0 L386.7,550.0 L381.7,550.4 L376.6,550.1 L371.6,549.9 L366.5,550.7 L361.5,552.7 L356.4,553.1 L351.4,550.1 L346.3,549.5Z" fill="#d9d9d9"/>
<path d="M346.3,530.2 L351.4,527.9 L356.4,526.2 L361.5,527.9 L366.5,529.3 L371.6,531.6 L376.6,532.6 L381.7,535.1 L386.7,541.1 L391.8,543.4 L396.8,544.9 L401.9,545.4 L406.9,544.9 L412.0,545.6 L417.0,543.8 L422.1,543.2 L427.1,543.2 L432.2,544.4 L437.2,544.5 L442.3,543.2 L447.3,540.1 L452.4,536.6 L457.4,534.6 L462.5,534.5 L467.5,534.2 L472.6,532.0 L477.6,531.7 L482.7,530.1 L487.8,529.5 L492.8,530.6 L497.9,528.7 L502.9,530.8 L508.0,530.8 L513.0,531.7 L518.1,530.8 L523.1,531.0 L528.2,531.0 L533.2,532.9 L538.3,535.3 L543.3,540.0 L548.4,541.4 L553.4,544.6 L558.5,544.8 L563.5,545.4 L568.6,547.8 L573.6,547.6 L578.7,546.7 L583.7,544.0 L588.8,541.1 L593.8,541.4 L598.9,540.9 L603.9,537.6 L609.0,536.0" fill="none" stroke="#9c9c9c" stroke-width="1.3" stroke-linejoin="round" stroke-linecap="round" stroke-dasharray="3.2,2"/>
<path d="M346.3,536.8 L351.4,537.2 L356.4,540.9 L361.5,539.7 L366.5,543.0 L371.6,545.2 L376.6,545.0 L381.7,548.0 L386.7,549.2 L391.8,549.1 L396.8,553.4 L401.9,554.9 L406.9,556.3 L412.0,557.0 L417.0,557.9 L422.1,558.9 L427.1,561.1 L432.2,558.8 L437.2,562.2 L442.3,563.9 L447.3,562.6 L452.4,563.5 L457.4,561.7 L462.5,559.9 L467.5,559.2 L472.6,560.2 L477.6,557.8 L482.7,557.5 L487.8,556.5 L492.8,557.6 L497.9,557.4 L502.9,558.4 L508.0,555.6 L513.0,555.9 L518.1,556.2 L523.1,554.9 L528.2,553.0 L533.2,553.2 L538.3,551.3 L543.3,557.3 L548.4,559.3 L553.4,565.4 L558.5,563.8 L563.5,563.4 L568.6,564.3 L573.6,562.1 L578.7,559.5 L583.7,552.5 L588.8,548.7 L593.8,546.6 L598.9,548.9 L603.9,548.4 L609.0,551.4" fill="none" stroke="#a9d18e" stroke-width="1.4" stroke-linejoin="round" stroke-linecap="round"/>
<path d="M346.3,548.2 L351.4,551.8 L356.4,552.0 L361.5,552.0 L366.5,549.6 L371.6,547.4 L376.6,546.9 L381.7,543.6 L386.7,545.5 L391.8,546.9 L396.8,548.2 L401.9,551.4 L406.9,554.2 L412.0,554.9 L417.0,554.9 L422.1,556.7 L427.1,557.2 L432.2,561.4 L437.2,561.9 L442.3,565.3 L447.3,562.9 L452.4,559.6 L457.4,557.3 L462.5,552.6 L467.5,554.4 L472.6,554.3 L477.6,554.8 L482.7,550.3 L487.8,550.4 L492.8,551.7 L497.9,550.1 L502.9,552.4 L508.0,550.2 L513.0,552.5 L518.1,550.8 L523.1,548.7 L528.2,549.6 L533.2,547.9 L538.3,548.3 L543.3,551.4 L548.4,552.1 L553.4,555.7 L558.5,556.4 L563.5,556.5 L568.6,559.2 L573.6,563.7 L578.7,563.9 L583.7,561.2 L588.8,556.5 L593.8,554.4 L598.9,554.0 L603.9,547.4 L609.0,541.8" fill="none" stroke="#8faadc" stroke-width="1.4" stroke-linejoin="round" stroke-linecap="round"/>
<path d="M346.3,534.3 L351.4,533.1 L356.4,532.1 L361.5,533.6 L366.5,536.2 L371.6,539.9 L376.6,542.6 L381.7,546.7 L386.7,547.8 L391.8,548.6 L396.8,552.1 L401.9,548.6 L406.9,552.1 L412.0,552.4 L417.0,552.6 L422.1,550.4 L427.1,552.2 L432.2,551.7 L437.2,552.3 L442.3,551.1 L447.3,548.2 L452.4,546.7 L457.4,544.3 L462.5,545.3 L467.5,544.8 L472.6,543.3 L477.6,543.5 L482.7,540.6 L487.8,541.1 L492.8,539.7 L497.9,538.5 L502.9,541.0 L508.0,542.3 L513.0,544.1 L518.1,543.1 L523.1,541.7 L528.2,544.5 L533.2,545.5 L538.3,548.3 L543.3,549.8 L548.4,551.6 L553.4,554.8 L558.5,555.5 L563.5,552.9 L568.6,550.9 L573.6,554.6 L578.7,553.3 L583.7,548.3 L588.8,548.2 L593.8,550.7 L598.9,550.3 L603.9,548.7 L609.0,542.8" fill="none" stroke="#ffa500" stroke-width="1.75" stroke-linejoin="round" stroke-linecap="round"/>
<path d="M346.3,539.0 L351.4,538.0 L356.4,539.2 L361.5,544.1 L366.5,546.9 L371.6,551.7 L376.6,550.0 L381.7,550.6 L386.7,548.0 L391.8,551.5 L396.8,551.9 L401.9,552.5 L406.9,555.9 L412.0,556.1 L417.0,557.8 L422.1,557.5 L427.1,561.8 L432.2,563.4 L437.2,563.9 L442.3,566.0 L447.3,565.3 L452.4,564.2 L457.4,560.4 L462.5,564.9 L467.5,564.6 L472.6,568.2 L477.6,569.4 L482.7,562.5 L487.8,560.8 L492.8,556.9 L497.9,556.1 L502.9,556.0 L508.0,553.0 L513.0,552.3 L518.1,545.2 L523.1,541.6 L528.2,544.9 L533.2,544.2 L538.3,545.3 L543.3,549.5 L548.4,554.0 L553.4,554.2 L558.5,556.5 L563.5,557.4 L568.6,559.3 L573.6,556.8 L578.7,556.6" fill="none" stroke="#c00000" stroke-width="2.2" stroke-linejoin="round" stroke-linecap="round"/>
</g>
<path d="M346.5,453.3V594.5" fill="none" stroke="#a6a6a6" stroke-width="1"/>
<path d="M346.0,594.5H609.0" fill="none" stroke="#a6a6a6" stroke-width="1"/>
<g font-size="6.05" text-anchor="end" fill="#4d4d4d" font-family="Liberation Sans,Noto Sans CJK SC,sans-serif"><text x="338.0" y="596.4">8,000</text><text x="338.0" y="572.9">10,000</text><text x="338.0" y="549.3">12,000</text><text x="338.0" y="525.8">14,000</text><text x="338.0" y="502.3">16,000</text><text x="338.0" y="478.7">18,000</text><text x="338.0" y="455.2">20,000</text></g>
<g font-size="6.05" text-anchor="middle" fill="#4d4d4d" font-family="Liberation Sans,Noto Sans CJK SC,sans-serif"><text x="346.3" y="602.9">1/1</text><text x="368.7" y="602.9">2/1</text><text x="388.9" y="602.9">3/1</text><text x="411.3" y="602.9">4/1</text><text x="432.9" y="602.9">5/1</text><text x="455.3" y="602.9">6/1</text><text x="476.9" y="602.9">7/1</text><text x="499.3" y="602.9">8/1</text><text x="521.7" y="602.9">9/1</text><text x="543.3" y="602.9">10/1</text><text x="565.7" y="602.9">11/1</text><text x="587.3" y="602.9">12/1</text></g>
<clipPath id="c_jet"><rect x="661.1" y="450.3" width="265.8" height="144.8"/></clipPath>
<text x="783.5" y="426.4" text-anchor="middle" font-size="10.3" font-weight="bold" letter-spacing="1.25" fill="#000" font-family="Liberation Sans,Noto Sans CJK SC,sans-serif">美国航空煤油库存（万桶）</text>
<rect x="655.4" y="437.4" width="20.0" height="3.2" fill="#d9d9d9"/><text x="678.2" y="441.2" font-size="6.4" fill="#404040" font-family="Liberation Sans,Noto Sans CJK SC,sans-serif">五年区间</text><path d="M711.1,439.0h20.3" stroke="#a9d18e" stroke-width="1.4" stroke-linecap="butt"/><text x="733.9" y="441.2" font-size="6.1" fill="#404040" font-family="Liberation Sans,Noto Sans CJK SC,sans-serif">2022</text><path d="M753.9,439.0h20.3" stroke="#8faadc" stroke-width="1.4" stroke-linecap="butt"/><text x="776.7" y="441.2" font-size="6.1" fill="#404040" font-family="Liberation Sans,Noto Sans CJK SC,sans-serif">2023</text><path d="M796.6,439.0h20.3" stroke="#ffa500" stroke-width="1.75" stroke-linecap="butt"/><text x="819.4" y="441.2" font-size="6.1" fill="#404040" font-family="Liberation Sans,Noto Sans CJK SC,sans-serif">2024</text><path d="M839.4,439.0h20.3" stroke="#c00000" stroke-width="2.2" stroke-linecap="butt"/><text x="862.2" y="441.2" font-size="6.1" fill="#404040" font-family="Liberation Sans,Noto Sans CJK SC,sans-serif">2025</text><path d="M882.2,439.0h20.3" stroke="#9c9c9c" stroke-width="1.3" stroke-dasharray="3.2,2" stroke-linecap="butt"/><text x="905.0" y="441.2" font-size="6.1" fill="#404040" font-family="Liberation Sans,Noto Sans CJK SC,sans-serif">Ave</text>
<g clip-path="url(#c_jet)"><path d="M662.1,510.0 L667.2,509.2 L672.2,503.6 L677.3,505.3 L682.3,506.9 L687.4,502.0 L692.4,501.0 L697.5,501.9 L702.5,505.5 L707.6,509.5 L712.6,515.7 L717.7,518.0 L722.7,519.3 L727.8,514.9 L732.9,517.3 L737.9,522.1 L743.0,519.9 L748.0,516.1 L753.1,514.3 L758.1,509.3 L763.2,506.7 L768.2,502.6 L773.3,501.2 L778.3,493.6 L783.4,488.1 L788.4,488.7 L793.5,489.1 L798.6,481.4 L803.6,473.5 L808.7,480.6 L813.7,480.7 L818.8,476.3 L823.8,471.7 L828.9,470.8 L833.9,467.4 L839.0,469.4 L844.0,475.6 L849.1,483.1 L854.1,492.5 L859.2,501.9 L864.3,503.1 L869.3,503.2 L874.4,499.2 L879.4,508.5 L884.5,506.3 L889.5,507.0 L894.6,508.9 L899.6,511.7 L904.7,513.6 L909.7,516.8 L914.8,520.6 L919.8,519.0 L924.9,516.7 L924.9,566.4 L919.8,562.1 L914.8,556.4 L909.7,553.7 L904.7,549.2 L899.6,548.5 L894.6,549.1 L889.5,548.5 L884.5,547.8 L879.4,549.2 L874.4,550.4 L869.3,551.5 L864.3,551.5 L859.2,552.5 L854.1,541.6 L849.1,532.2 L844.0,532.2 L839.0,532.3 L833.9,532.8 L828.9,528.0 L823.8,525.0 L818.8,526.5 L813.7,524.7 L808.7,525.4 L803.6,526.4 L798.6,526.4 L793.5,523.2 L788.4,521.3 L783.4,520.7 L778.3,524.0 L773.3,526.4 L768.2,529.4 L763.2,534.8 L758.1,540.1 L753.1,546.7 L748.0,554.4 L743.0,557.1 L737.9,558.5 L732.9,559.4 L727.8,554.4 L722.7,554.5 L717.7,549.0 L712.6,549.6 L707.6,548.8 L702.5,548.2 L697.5,547.2 L692.4,549.5 L687.4,553.2 L682.3,556.3 L677.3,558.7 L672.2,563.7 L667.2,564.3 L662.1,566.1Z" fill="#d9d9d9"/>
<path d="M662.1,542.4 L667.2,535.8 L672.2,529.1 L677.3,527.0 L682.3,526.5 L687.4,524.4 L692.4,527.2 L697.5,525.8 L702.5,528.0 L707.6,528.3 L712.6,529.7 L717.7,530.3 L722.7,532.9 L727.8,536.2 L732.9,533.1 L737.9,528.0 L743.0,528.4 L748.0,526.7 L753.1,522.7 L758.1,521.3 L763.2,515.9 L768.2,514.1 L773.3,514.0 L778.3,511.5 L783.4,507.7 L788.4,506.2 L793.5,503.8 L798.6,504.4 L803.6,503.8 L808.7,505.2 L813.7,507.5 L818.8,509.5 L823.8,509.2 L828.9,511.0 L833.9,508.8 L839.0,511.4 L844.0,510.6 L849.1,512.1 L854.1,518.4 L859.2,520.3 L864.3,522.7 L869.3,529.4 L874.4,529.5 L879.4,532.9 L884.5,536.0 L889.5,536.0 L894.6,539.4 L899.6,537.5 L904.7,536.4 L909.7,540.5 L914.8,539.7 L919.8,542.8 L924.9,542.8" fill="none" stroke="#9c9c9c" stroke-width="1.3" stroke-linejoin="round" stroke-linecap="round" stroke-dasharray="3.2,2"/>
<path d="M662.1,561.2 L667.2,561.2 L672.2,558.4 L677.3,549.8 L682.3,540.2 L687.4,543.0 L692.4,534.3 L697.5,538.7 L702.5,536.5 L707.6,536.0 L712.6,527.6 L717.7,532.7 L722.7,548.3 L727.8,554.0 L732.9,556.6 L737.9,559.1 L743.0,555.2 L748.0,551.3 L753.1,546.6 L758.1,538.7 L763.2,533.8 L768.2,530.6 L773.3,522.3 L778.3,522.3 L783.4,518.4 L788.4,514.3 L793.5,515.2 L798.6,512.7 L803.6,520.2 L808.7,513.7 L813.7,514.4 L818.8,514.0 L823.8,521.1 L828.9,527.8 L833.9,531.6 L839.0,536.8 L844.0,529.5 L849.1,535.2 L854.1,546.0 L859.2,547.5 L864.3,552.4 L869.3,550.6 L874.4,551.0 L879.4,553.5 L884.5,547.8 L889.5,542.1 L894.6,544.6 L899.6,547.7 L904.7,540.2 L909.7,546.7 L914.8,549.5 L919.8,559.4 L924.9,564.2" fill="none" stroke="#a9d18e" stroke-width="1.4" stroke-linejoin="round" stroke-linecap="round"/>
<path d="M662.1,569.2 L667.2,565.6 L672.2,554.0 L677.3,553.6 L682.3,548.6 L687.4,552.3 L692.4,543.8 L697.5,545.1 L702.5,539.0 L707.6,546.6 L712.6,543.6 L717.7,546.3 L722.7,539.4 L727.8,534.7 L732.9,526.5 L737.9,520.3 L743.0,513.9 L748.0,512.7 L753.1,509.8 L758.1,514.6 L763.2,511.1 L768.2,515.3 L773.3,509.1 L778.3,515.3 L783.4,522.8 L788.4,514.6 L793.5,515.2 L798.6,507.6 L803.6,511.2 L808.7,512.0 L813.7,515.2 L818.8,513.1 L823.8,508.3 L828.9,512.3 L833.9,514.6 L839.0,510.7 L844.0,509.0 L849.1,506.4 L854.1,504.9 L859.2,507.2 L864.3,504.4 L869.3,507.9 L874.4,516.9 L879.4,527.1 L884.5,535.1 L889.5,539.6 L894.6,546.0 L899.6,543.8 L904.7,539.0 L909.7,539.5 L914.8,532.6 L919.8,530.4 L924.9,525.9" fill="none" stroke="#8faadc" stroke-width="1.4" stroke-linejoin="round" stroke-linecap="round"/>
<path d="M662.1,528.2 L667.2,518.9 L672.2,511.9 L677.3,516.4 L682.3,517.6 L687.4,517.1 L692.4,518.9 L697.5,525.1 L702.5,527.0 L707.6,523.9 L712.6,519.4 L717.7,516.8 L722.7,511.4 L727.8,518.5 L732.9,515.6 L737.9,510.9 L743.0,514.7 L748.0,519.0 L753.1,511.8 L758.1,511.2 L763.2,504.2 L768.2,503.0 L773.3,503.7 L778.3,507.4 L783.4,500.9 L788.4,498.7 L793.5,499.6 L798.6,482.0 L803.6,477.9 L808.7,476.3 L813.7,474.4 L818.8,475.1 L823.8,476.0 L828.9,473.2 L833.9,467.8 L839.0,468.4 L844.0,476.8 L849.1,480.7 L854.1,489.7 L859.2,503.1 L864.3,504.7 L869.3,500.8 L874.4,507.1 L879.4,506.0 L884.5,505.5 L889.5,507.7 L894.6,511.0 L899.6,505.8 L904.7,513.7 L909.7,513.1 L914.8,516.0 L919.8,517.7 L924.9,511.2" fill="none" stroke="#ffa500" stroke-width="1.75" stroke-linejoin="round" stroke-linecap="round"/>
<path d="M662.1,512.6 L667.2,503.4 L672.2,497.8 L677.3,498.9 L682.3,509.1 L687.4,503.0 L692.4,496.7 L697.5,494.0 L702.5,497.1 L707.6,492.9 L712.6,494.9 L717.7,498.7 L722.7,511.9 L727.8,521.8 L732.9,520.6 L737.9,525.7 L743.0,522.7 L748.0,514.9 L753.1,511.7 L758.1,506.9 L763.2,510.2 L768.2,497.6 L773.3,499.9 L778.3,495.4 L783.4,489.9 L788.4,492.7 L793.5,490.9 L798.6,488.4 L803.6,481.0 L808.7,490.0 L813.7,502.4 L818.8,498.9 L823.8,500.7 L828.9,501.4 L833.9,503.8 L839.0,499.4 L844.0,495.7 L849.1,491.3 L854.1,495.4 L859.2,499.6 L864.3,499.6 L869.3,509.6 L874.4,510.1 L879.4,508.4 L884.5,501.3 L889.5,507.3 L894.6,498.8" fill="none" stroke="#c00000" stroke-width="2.2" stroke-linejoin="round" stroke-linecap="round"/>
</g>
<path d="M662.5,453.3V594.5" fill="none" stroke="#a6a6a6" stroke-width="1"/>
<path d="M662.0,594.5H924.9" fill="none" stroke="#a6a6a6" stroke-width="1"/>
<g font-size="6.05" text-anchor="end" fill="#4d4d4d" font-family="Liberation Sans,Noto Sans CJK SC,sans-serif"><text x="653.8" y="596.4">3,000</text><text x="653.8" y="582.3">3,200</text><text x="653.8" y="568.2">3,400</text><text x="653.8" y="554.0">3,600</text><text x="653.8" y="539.9">3,800</text><text x="653.8" y="525.8">4,000</text><text x="653.8" y="511.7">4,200</text><text x="653.8" y="497.6">4,400</text><text x="653.8" y="483.4">4,600</text><text x="653.8" y="469.3">4,800</text><text x="653.8" y="455.2">5,000</text></g>
<g font-size="6.05" text-anchor="middle" fill="#4d4d4d" font-family="Liberation Sans,Noto Sans CJK SC,sans-serif"><text x="662.1" y="602.9">1/1</text><text x="684.5" y="602.9">2/1</text><text x="704.7" y="602.9">3/1</text><text x="727.1" y="602.9">4/1</text><text x="748.7" y="602.9">5/1</text><text x="771.1" y="602.9">6/1</text><text x="792.8" y="602.9">7/1</text><text x="815.2" y="602.9">8/1</text><text x="837.5" y="602.9">9/1</text><text x="859.2" y="602.9">10/1</text><text x="881.6" y="602.9">11/1</text><text x="903.2" y="602.9">12/1</text></g>
<clipPath id="c_fuel"><rect x="28.5" y="648.0" width="263.9" height="144.1"/></clipPath>
<text x="162.2" y="624.1" text-anchor="middle" font-size="10.3" font-weight="bold" letter-spacing="1.25" fill="#000" font-family="Liberation Sans,Noto Sans CJK SC,sans-serif">美国燃料油库存（万桶）</text>
<rect x="22.5" y="635.1" width="20.0" height="3.2" fill="#d9d9d9"/><text x="45.3" y="638.9" font-size="6.4" fill="#404040" font-family="Liberation Sans,Noto Sans CJK SC,sans-serif">五年区间</text><path d="M78.2,636.7h20.3" stroke="#a9d18e" stroke-width="1.4" stroke-linecap="butt"/><text x="101.0" y="638.9" font-size="6.1" fill="#404040" font-family="Liberation Sans,Noto Sans CJK SC,sans-serif">2022</text><path d="M121.0,636.7h20.3" stroke="#8faadc" stroke-width="1.4" stroke-linecap="butt"/><text x="143.8" y="638.9" font-size="6.1" fill="#404040" font-family="Liberation Sans,Noto Sans CJK SC,sans-serif">2023</text><path d="M163.7,636.7h20.3" stroke="#ffa500" stroke-width="1.75" stroke-linecap="butt"/><text x="186.5" y="638.9" font-size="6.1" fill="#404040" font-family="Liberation Sans,Noto Sans CJK SC,sans-serif">2024</text><path d="M206.5,636.7h20.3" stroke="#c00000" stroke-width="2.2" stroke-linecap="butt"/><text x="229.3" y="638.9" font-size="6.1" fill="#404040" font-family="Liberation Sans,Noto Sans CJK SC,sans-serif">2025</text><path d="M249.3,636.7h20.3" stroke="#9c9c9c" stroke-width="1.3" stroke-dasharray="3.2,2" stroke-linecap="butt"/><text x="272.1" y="638.9" font-size="6.1" fill="#404040" font-family="Liberation Sans,Noto Sans CJK SC,sans-serif">Ave</text>
<g clip-path="url(#c_fuel)"><path d="M29.5,734.5 L34.5,733.9 L39.5,730.4 L44.6,728.9 L49.6,721.5 L54.6,717.4 L59.6,720.8 L64.6,721.8 L69.6,726.2 L74.7,720.4 L79.7,713.3 L84.7,707.1 L89.7,705.2 L94.7,701.1 L99.7,703.2 L104.8,702.2 L109.8,700.8 L114.8,693.7 L119.8,691.9 L124.8,691.7 L129.8,687.2 L134.9,686.0 L139.9,678.9 L144.9,673.8 L149.9,669.8 L154.9,673.1 L159.9,673.4 L165.0,685.9 L170.0,691.3 L175.0,695.2 L180.0,697.9 L185.0,701.5 L190.1,697.2 L195.1,701.6 L200.1,697.9 L205.1,702.4 L210.1,710.8 L215.1,715.8 L220.2,722.3 L225.2,724.1 L230.2,722.9 L235.2,720.3 L240.2,722.9 L245.2,725.0 L250.3,723.0 L255.3,723.1 L260.3,722.1 L265.3,730.2 L270.3,731.3 L275.3,726.4 L280.4,723.7 L285.4,726.6 L290.4,731.0 L290.4,765.0 L285.4,761.8 L280.4,758.8 L275.3,764.7 L270.3,772.1 L265.3,773.1 L260.3,772.2 L255.3,770.2 L250.3,770.6 L245.2,770.9 L240.2,766.0 L235.2,766.0 L230.2,765.5 L225.2,767.1 L220.2,766.9 L215.1,762.4 L210.1,759.3 L205.1,757.7 L200.1,757.1 L195.1,754.8 L190.1,754.9 L185.0,756.6 L180.0,757.2 L175.0,752.6 L170.0,749.3 L165.0,748.5 L159.9,748.4 L154.9,744.7 L149.9,743.5 L144.9,746.3 L139.9,748.2 L134.9,749.1 L129.8,745.1 L124.8,742.0 L119.8,744.9 L114.8,746.5 L109.8,746.8 L104.8,747.3 L99.7,746.0 L94.7,744.7 L89.7,748.0 L84.7,752.0 L79.7,754.5 L74.7,753.8 L69.6,754.6 L64.6,755.6 L59.6,758.0 L54.6,761.2 L49.6,762.7 L44.6,756.2 L39.5,754.5 L34.5,757.5 L29.5,757.5Z" fill="#d9d9d9"/>
<path d="M29.5,742.2 L34.5,739.8 L39.5,735.8 L44.6,738.0 L49.6,736.4 L54.6,737.1 L59.6,734.9 L64.6,733.9 L69.6,736.6 L74.7,736.1 L79.7,737.0 L84.7,733.0 L89.7,732.4 L94.7,729.7 L99.7,727.1 L104.8,724.8 L109.8,725.1 L114.8,727.5 L119.8,724.8 L124.8,724.4 L129.8,724.5 L134.9,725.2 L139.9,724.6 L144.9,719.6 L149.9,720.8 L154.9,722.6 L159.9,722.7 L165.0,725.9 L170.0,727.9 L175.0,729.6 L180.0,733.0 L185.0,733.8 L190.1,733.7 L195.1,734.8 L200.1,734.4 L205.1,734.0 L210.1,736.6 L215.1,738.1 L220.2,736.0 L225.2,735.2 L230.2,736.1 L235.2,740.0 L240.2,738.9 L245.2,738.7 L250.3,739.6 L255.3,737.6 L260.3,739.0 L265.3,742.2 L270.3,741.6 L275.3,741.2 L280.4,739.3 L285.4,743.7 L290.4,745.5" fill="none" stroke="#9c9c9c" stroke-width="1.3" stroke-linejoin="round" stroke-linecap="round" stroke-dasharray="3.2,2"/>
<path d="M29.5,755.6 L34.5,756.4 L39.5,755.9 L44.6,761.0 L49.6,759.9 L54.6,761.4 L59.6,758.1 L64.6,756.0 L69.6,757.7 L74.7,752.2 L79.7,752.2 L84.7,748.5 L89.7,747.0 L94.7,743.9 L99.7,746.9 L104.8,752.1 L109.8,743.8 L114.8,745.9 L119.8,741.5 L124.8,739.6 L129.8,743.1 L134.9,750.9 L139.9,752.6 L144.9,743.9 L149.9,742.6 L154.9,742.9 L159.9,742.2 L165.0,743.7 L170.0,735.6 L175.0,738.9 L180.0,737.6 L185.0,741.0 L190.1,747.4 L195.1,751.7 L200.1,750.0 L205.1,750.1 L210.1,741.8 L215.1,738.6 L220.2,743.5 L225.2,744.5 L230.2,743.1 L235.2,741.7 L240.2,740.4 L245.2,737.6 L250.3,735.3 L255.3,738.0 L260.3,736.9 L265.3,739.7 L270.3,736.1 L275.3,741.6 L280.4,739.4 L285.4,732.9 L290.4,733.8" fill="none" stroke="#a9d18e" stroke-width="1.4" stroke-linejoin="round" stroke-linecap="round"/>
<path d="M29.5,736.0 L34.5,733.5 L39.5,729.9 L44.6,726.2 L49.6,722.8 L54.6,726.7 L59.6,729.6 L64.6,730.3 L69.6,729.4 L74.7,727.8 L79.7,725.6 L84.7,730.6 L89.7,729.7 L94.7,726.2 L99.7,729.1 L104.8,724.2 L109.8,720.0 L114.8,717.2 L119.8,714.8 L124.8,715.4 L129.8,718.8 L134.9,720.4 L139.9,723.6 L144.9,726.7 L149.9,727.9 L154.9,727.2 L159.9,732.1 L165.0,737.6 L170.0,746.5 L175.0,747.0 L180.0,744.0 L185.0,746.5 L190.1,754.8 L195.1,754.6 L200.1,758.8 L205.1,755.7 L210.1,750.5 L215.1,739.5 L220.2,747.7 L225.2,748.9 L230.2,753.5 L235.2,749.8 L240.2,752.6 L245.2,751.5 L250.3,748.2 L255.3,750.1 L260.3,750.1 L265.3,754.7 L270.3,759.1 L275.3,757.8 L280.4,760.2 L285.4,761.5 L290.4,764.5" fill="none" stroke="#8faadc" stroke-width="1.4" stroke-linejoin="round" stroke-linecap="round"/>
<path d="M29.5,760.6 L34.5,758.6 L39.5,756.2 L44.6,751.4 L49.6,753.6 L54.6,745.9 L59.6,740.2 L64.6,739.2 L69.6,737.2 L74.7,735.6 L79.7,737.1 L84.7,732.5 L89.7,739.8 L94.7,742.7 L99.7,738.9 L104.8,740.6 L109.8,742.1 L114.8,745.5 L119.8,742.2 L124.8,739.5 L129.8,737.6 L134.9,741.8 L139.9,742.6 L144.9,745.8 L149.9,745.3 L154.9,750.5 L159.9,751.5 L165.0,752.4 L170.0,754.9 L175.0,753.7 L180.0,752.7 L185.0,752.0 L190.1,756.9 L195.1,753.2 L200.1,758.3 L205.1,759.9 L210.1,764.2 L215.1,762.5 L220.2,763.7 L225.2,768.5 L230.2,762.4 L235.2,763.1 L240.2,767.6 L245.2,768.7 L250.3,770.0 L255.3,769.6 L260.3,771.3 L265.3,769.2 L270.3,773.8 L275.3,769.2 L280.4,758.2 L285.4,759.5 L290.4,757.7" fill="none" stroke="#ffa500" stroke-width="1.75" stroke-linejoin="round" stroke-linecap="round"/>
<path d="M29.5,769.1 L34.5,770.3 L39.5,771.5 L44.6,771.6 L49.6,774.4 L54.6,772.4 L59.6,772.4 L64.6,773.3 L69.6,767.0 L74.7,766.9 L79.7,767.8 L84.7,767.8 L89.7,763.7 L94.7,766.1 L99.7,767.5 L104.8,774.5 L109.8,766.7 L114.8,766.4 L119.8,764.5 L124.8,772.6 L129.8,774.3 L134.9,776.0 L139.9,777.3 L144.9,775.2 L149.9,776.3 L154.9,778.2 L159.9,784.3 L165.0,788.3 L170.0,789.7 L175.0,792.2 L180.0,792.2 L185.0,794.0 L190.1,795.4 L195.1,789.9 L200.1,788.8 L205.1,788.2 L210.1,789.5 L215.1,782.2 L220.2,783.6 L225.2,786.4 L230.2,783.3 L235.2,777.7 L240.2,780.3 L245.2,779.1 L250.3,777.4 L255.3,774.9 L260.3,775.1" fill="none" stroke="#c00000" stroke-width="2.2" stroke-linejoin="round" stroke-linecap="round"/>
</g>
<path d="M29.5,651.0V791.5" fill="none" stroke="#595959" stroke-width="1"/>
<path d="M29.0,791.5H290.4" fill="none" stroke="#595959" stroke-width="1"/>
<g font-size="6.05" text-anchor="end" fill="#4d4d4d" font-family="Liberation Sans,Noto Sans CJK SC,sans-serif"><text x="21.2" y="793.4">2,000</text><text x="21.2" y="765.3">2,500</text><text x="21.2" y="737.2">3,000</text><text x="21.2" y="709.1">3,500</text><text x="21.2" y="681.0">4,000</text><text x="21.2" y="652.9">4,500</text></g>
<g font-size="6.05" text-anchor="middle" fill="#4d4d4d" font-family="Liberation Sans,Noto Sans CJK SC,sans-serif"><text x="29.5" y="799.9">1/1</text><text x="51.7" y="799.9">2/1</text><text x="71.8" y="799.9">3/1</text><text x="94.0" y="799.9">4/1</text><text x="115.5" y="799.9">5/1</text><text x="137.7" y="799.9">6/1</text><text x="159.2" y="799.9">7/1</text><text x="181.5" y="799.9">8/1</text><text x="203.7" y="799.9">9/1</text><text x="225.2" y="799.9">10/1</text><text x="247.4" y="799.9">11/1</text><text x="268.9" y="799.9">12/1</text></g>
<clipPath id="c_util"><rect x="22.1" y="859.3" width="270.9" height="144.8"/></clipPath>
<text x="162.2" y="835.4" text-anchor="middle" font-size="10.3" font-weight="bold" letter-spacing="1.25" fill="#000" font-family="Liberation Sans,Noto Sans CJK SC,sans-serif">美国炼油厂产能利用率（%）</text>
<rect x="22.5" y="846.4" width="20.0" height="3.2" fill="#d9d9d9"/><text x="45.3" y="850.2" font-size="6.4" fill="#404040" font-family="Liberation Sans,Noto Sans CJK SC,sans-serif">五年区间</text><path d="M78.2,848.0h20.3" stroke="#a9d18e" stroke-width="1.4" stroke-linecap="butt"/><text x="101.0" y="850.2" font-size="6.1" fill="#404040" font-family="Liberation Sans,Noto Sans CJK SC,sans-serif">2022</text><path d="M121.0,848.0h20.3" stroke="#8faadc" stroke-width="1.4" stroke-linecap="butt"/><text x="143.8" y="850.2" font-size="6.1" fill="#404040" font-family="Liberation Sans,Noto Sans CJK SC,sans-serif">2023</text><path d="M163.7,848.0h20.3" stroke="#ffa500" stroke-width="1.75" stroke-linecap="butt"/><text x="186.5" y="850.2" font-size="6.1" fill="#404040" font-family="Liberation Sans,Noto Sans CJK SC,sans-serif">2024</text><path d="M206.5,848.0h20.3" stroke="#c00000" stroke-width="2.2" stroke-linecap="butt"/><text x="229.3" y="850.2" font-size="6.1" fill="#404040" font-family="Liberation Sans,Noto Sans CJK SC,sans-serif">2025</text><path d="M249.3,848.0h20.3" stroke="#9c9c9c" stroke-width="1.3" stroke-dasharray="3.2,2" stroke-linecap="butt"/><text x="272.1" y="850.2" font-size="6.1" fill="#404040" font-family="Liberation Sans,Noto Sans CJK SC,sans-serif">Ave</text>
<g clip-path="url(#c_util)"><path d="M23.1,879.2 L28.3,884.0 L34.1,897.0 L45.9,900.1 L57.0,893.4 L63.6,897.0 L66.5,893.4 L77.6,887.7 L89.3,883.5 L100.4,889.1 L111.4,887.7 L122.5,882.6 L134.2,874.4 L145.3,880.9 L156.3,876.4 L167.4,877.8 L179.1,877.0 L190.2,877.8 L201.9,879.2 L213.0,882.6 L224.0,887.7 L235.1,891.1 L246.8,885.7 L257.9,879.2 L268.9,874.4 L275.5,884.0 L280.0,880.9 L291.0,880.4 L291.0,920.2 L280.0,921.9 L268.9,921.9 L257.9,924.1 L252.0,933.7 L246.8,931.5 L235.1,938.0 L224.0,928.4 L213.0,932.9 L208.6,930.6 L203.4,941.4 L196.8,913.7 L190.2,915.7 L179.1,919.3 L167.4,924.1 L156.3,927.5 L145.3,935.4 L134.2,940.2 L122.5,946.7 L116.6,952.1 L111.4,945.6 L100.4,953.2 L94.5,948.4 L89.3,932.3 L84.2,913.1 L77.6,914.5 L69.5,948.4 L64.3,985.1 L57.0,941.9 L52.5,913.1 L45.9,914.5 L34.1,912.0 L23.1,916.2Z" fill="#d9d9d9"/>
<path d="M23.1,897.0 L28.3,895.3 L34.1,901.8 L45.9,904.9 L52.5,903.2 L57.0,908.0 L64.3,917.9 L69.5,906.6 L77.6,898.4 L89.3,901.8 L100.4,904.9 L111.4,904.9 L122.5,901.8 L134.2,893.1 L145.3,892.2 L156.3,888.8 L167.4,891.1 L179.1,892.2 L190.2,887.7 L196.8,888.8 L203.4,900.7 L213.0,898.4 L224.0,904.1 L235.1,906.6 L246.8,901.8 L257.9,895.3 L268.9,892.2 L280.0,893.6 L286.6,892.2 L291.0,900.1" fill="none" stroke="#9c9c9c" stroke-width="1.3" stroke-linejoin="round" stroke-linecap="round" stroke-dasharray="3.2,2"/>
<path d="M23.1,894.5 L34.1,896.2 L45.9,898.4 L51.1,895.3 L57.0,900.7 L66.5,894.5 L77.6,887.7 L89.3,883.5 L94.5,890.5 L100.4,887.7 L111.4,892.2 L122.5,884.0 L134.2,877.0 L145.3,882.6 L156.3,877.8 L167.4,880.9 L179.1,887.7 L185.8,880.9 L190.2,881.5 L201.9,887.7 L213.0,884.0 L224.0,887.7 L235.1,892.2 L246.8,883.5 L257.9,879.2 L268.9,875.0 L275.5,884.0 L280.0,887.7 L286.6,884.0 L291.0,920.2" fill="none" stroke="#a9d18e" stroke-width="1.4" stroke-linejoin="round" stroke-linecap="round"/>
<path d="M23.1,907.2 L34.1,901.8 L40.8,902.7 L45.9,896.2 L57.0,901.8 L66.5,897.9 L77.6,892.2 L89.3,891.1 L96.0,886.6 L107.0,887.4 L111.4,885.7 L118.0,884.0 L122.5,885.7 L134.2,875.0 L140.9,884.0 L151.9,887.7 L156.3,877.8 L167.4,879.2 L179.1,880.9 L190.2,877.8 L201.9,879.2 L213.0,885.7 L224.0,901.8 L235.1,901.8 L246.8,902.4 L257.9,897.0 L268.9,888.8 L274.1,890.0 L280.0,881.5 L291.0,880.4" fill="none" stroke="#8faadc" stroke-width="1.4" stroke-linejoin="round" stroke-linecap="round"/>
<path d="M23.1,880.9 L28.3,882.6 L34.1,904.9 L40.8,911.4 L45.9,913.1 L51.1,916.2 L57.0,915.7 L61.4,913.1 L66.5,903.2 L77.6,896.2 L89.3,894.5 L100.4,894.8 L111.4,893.6 L122.5,885.7 L129.1,877.8 L134.2,876.1 L145.3,882.6 L149.7,884.0 L156.3,876.1 L162.9,882.6 L174.0,890.0 L179.1,888.8 L190.2,884.0 L196.8,882.6 L201.9,882.6 L213.0,888.8 L219.6,897.0 L224.0,898.4 L230.6,892.2 L235.1,893.4 L246.8,887.7 L253.5,885.7 L257.9,888.8 L264.5,880.9 L268.9,882.6 L280.0,884.0 L291.0,882.6" fill="none" stroke="#ffa500" stroke-width="1.75" stroke-linejoin="round" stroke-linecap="round"/>
<path d="M23.1,880.9 L28.3,885.7 L34.1,903.2 L38.6,908.0 L45.9,904.9 L52.5,904.1 L57.0,900.1 L66.5,901.8 L77.6,898.4 L84.2,901.8 L89.3,899.6 L96.0,900.1 L100.4,895.3 L111.4,893.1 L122.5,887.4 L126.9,888.8 L134.2,879.2 L139.4,877.8 L145.3,880.9 L149.7,877.0 L156.3,876.1 L162.9,878.7 L167.4,875.0 L174.0,874.4 L179.1,870.8 L184.3,871.9 L190.2,871.3 L194.6,877.0 L201.9,878.4 L204.9,876.1 L210.0,880.9 L214.5,881.5 L219.6,886.6 L224.0,884.0 L229.2,902.7 L235.1,893.6 L239.5,899.6 L246.8,901.8 L252.0,892.2 L256.4,890.5 L262.3,883.5" fill="none" stroke="#c00000" stroke-width="2.2" stroke-linejoin="round" stroke-linecap="round"/>
</g>
<path d="M23.5,862.3V1003.5" fill="none" stroke="#c8c8c8" stroke-width="1"/>
<path d="M23.0,1003.5H291.0" fill="none" stroke="#6a6a6a" stroke-width="1"/>
<g font-size="6.05" text-anchor="end" fill="#4d4d4d" font-family="Liberation Sans,Noto Sans CJK SC,sans-serif"><text x="14.8" y="1005.4">50</text><text x="14.8" y="991.3">55</text><text x="14.8" y="977.2">60</text><text x="14.8" y="963.0">65</text><text x="14.8" y="948.9">70</text><text x="14.8" y="934.8">75</text><text x="14.8" y="920.7">80</text><text x="14.8" y="906.6">85</text><text x="14.8" y="892.4">90</text><text x="14.8" y="878.3">95</text><text x="14.8" y="864.2">100</text></g>
<path d="M23.5,1003.5v1.9" stroke="#6a6a6a" stroke-width="1"/>
<path d="M45.5,1003.5v1.9" stroke="#6a6a6a" stroke-width="1"/>
<path d="M66.5,1003.5v1.9" stroke="#6a6a6a" stroke-width="1"/>
<path d="M89.5,1003.5v1.9" stroke="#6a6a6a" stroke-width="1"/>
<path d="M111.5,1003.5v1.9" stroke="#6a6a6a" stroke-width="1"/>
<path d="M134.5,1003.5v1.9" stroke="#6a6a6a" stroke-width="1"/>
<path d="M156.5,1003.5v1.9" stroke="#6a6a6a" stroke-width="1"/>
<path d="M179.5,1003.5v1.9" stroke="#6a6a6a" stroke-width="1"/>
<path d="M201.5,1003.5v1.9" stroke="#6a6a6a" stroke-width="1"/>
<path d="M224.5,1003.5v1.9" stroke="#6a6a6a" stroke-width="1"/>
<path d="M246.5,1003.5v1.9" stroke="#6a6a6a" stroke-width="1"/>
<path d="M268.5,1003.5v1.9" stroke="#6a6a6a" stroke-width="1"/>
<g font-size="6.05" text-anchor="middle" fill="#4d4d4d" font-family="Liberation Sans,Noto Sans CJK SC,sans-serif"><text x="23.1" y="1011.9">1/1</text><text x="45.9" y="1011.9">2/1</text><text x="66.5" y="1011.9">3/1</text><text x="89.3" y="1011.9">4/1</text><text x="111.4" y="1011.9">5/1</text><text x="134.2" y="1011.9">6/1</text><text x="156.3" y="1011.9">7/1</text><text x="179.1" y="1011.9">8/1</text><text x="201.9" y="1011.9">9/1</text><text x="224.0" y="1011.9">10/1</text><text x="246.8" y="1011.9">11/1</text><text x="268.9" y="1011.9">12/1</text></g>
<clipPath id="c_proc"><rect x="342.7" y="859.3" width="268.3" height="144.8"/></clipPath>
<text x="473.2" y="835.4" text-anchor="middle" font-size="10.3" font-weight="bold" letter-spacing="1.25" fill="#000" font-family="Liberation Sans,Noto Sans CJK SC,sans-serif">美国原油加工量（万桶/日）</text>
<rect x="337.3" y="846.4" width="20.2" height="3.2" fill="#d9d9d9"/><text x="360.3" y="850.2" font-size="6.4" fill="#404040" font-family="Liberation Sans,Noto Sans CJK SC,sans-serif">五年区间</text><path d="M393.6,848.0h20.5" stroke="#a9d18e" stroke-width="1.4" stroke-linecap="butt"/><text x="416.6" y="850.2" font-size="6.1" fill="#404040" font-family="Liberation Sans,Noto Sans CJK SC,sans-serif">2022</text><path d="M436.8,848.0h20.5" stroke="#8faadc" stroke-width="1.4" stroke-linecap="butt"/><text x="459.8" y="850.2" font-size="6.1" fill="#404040" font-family="Liberation Sans,Noto Sans CJK SC,sans-serif">2023</text><path d="M479.9,848.0h20.5" stroke="#ffa500" stroke-width="1.75" stroke-linecap="butt"/><text x="502.9" y="850.2" font-size="6.1" fill="#404040" font-family="Liberation Sans,Noto Sans CJK SC,sans-serif">2024</text><path d="M523.1,848.0h20.5" stroke="#c00000" stroke-width="2.2" stroke-linecap="butt"/><text x="546.2" y="850.2" font-size="6.1" fill="#404040" font-family="Liberation Sans,Noto Sans CJK SC,sans-serif">2025</text><path d="M566.4,848.0h20.5" stroke="#9c9c9c" stroke-width="1.3" stroke-dasharray="3.2,2" stroke-linecap="butt"/><text x="589.4" y="850.2" font-size="6.1" fill="#404040" font-family="Liberation Sans,Noto Sans CJK SC,sans-serif">Ave</text>
<g clip-path="url(#c_proc)"><path d="M343.7,876.2 L348.8,881.9 L354.6,897.4 L366.3,901.1 L377.2,893.0 L383.8,897.4 L386.7,893.0 L397.6,886.3 L409.3,881.3 L420.2,888.0 L431.2,886.3 L442.1,880.3 L453.8,873.2 L464.7,878.3 L475.6,873.9 L486.6,874.6 L498.2,874.1 L509.1,874.6 L520.8,876.2 L531.7,880.3 L542.7,886.3 L553.6,890.3 L565.3,884.0 L576.2,876.2 L587.1,873.2 L593.7,881.9 L598.1,878.3 L609.0,877.6 L609.0,924.9 L598.1,926.9 L587.1,926.9 L576.2,929.6 L570.4,941.0 L565.3,938.3 L553.6,946.0 L542.7,934.6 L531.7,940.0 L527.4,937.3 L522.3,950.0 L515.7,917.2 L509.1,919.5 L498.2,923.9 L486.6,929.6 L475.6,933.6 L464.7,943.0 L453.8,948.7 L442.1,956.4 L436.3,962.8 L431.2,955.1 L420.2,964.1 L414.4,958.4 L409.3,939.3 L404.2,916.5 L397.6,918.2 L389.6,958.4 L384.5,1002.0 L377.2,950.7 L372.9,916.5 L366.3,918.2 L354.6,915.1 L343.7,920.2Z" fill="#d9d9d9"/>
<path d="M343.7,900.5 L348.8,898.5 L354.6,906.2 L366.3,909.9 L372.9,907.9 L377.2,913.6 L384.5,925.4 L389.6,911.9 L397.6,902.2 L409.3,906.2 L420.2,909.9 L431.2,909.9 L442.1,906.2 L453.8,895.9 L464.7,894.8 L475.6,890.8 L486.6,893.5 L498.2,894.8 L509.1,889.5 L515.7,890.8 L522.3,904.9 L531.7,902.2 L542.7,908.9 L553.6,911.9 L565.3,906.2 L576.2,898.5 L587.1,894.8 L598.1,896.5 L604.6,894.8 L609.0,904.2" fill="none" stroke="#9c9c9c" stroke-width="1.3" stroke-linejoin="round" stroke-linecap="round" stroke-dasharray="3.2,2"/>
<path d="M343.7,894.4 L354.6,896.4 L366.3,899.0 L371.4,895.4 L377.2,901.7 L386.7,894.4 L397.6,886.3 L409.3,881.3 L414.4,889.7 L420.2,886.3 L431.2,891.7 L442.1,881.9 L453.8,873.6 L464.7,880.3 L475.6,874.6 L486.6,878.3 L498.2,886.3 L504.8,878.3 L509.1,878.9 L520.8,886.3 L531.7,881.9 L542.7,886.3 L553.6,891.7 L565.3,881.3 L576.2,876.2 L587.1,871.2 L593.7,881.9 L598.1,886.3 L604.6,881.9 L609.0,924.9" fill="none" stroke="#a9d18e" stroke-width="1.4" stroke-linejoin="round" stroke-linecap="round"/>
<path d="M343.7,909.4 L354.6,903.1 L361.2,904.1 L366.3,896.4 L377.2,903.1 L386.7,898.4 L397.6,891.7 L409.3,890.3 L415.9,885.0 L426.8,886.0 L431.2,884.0 L437.7,881.9 L442.1,884.0 L453.8,871.2 L460.3,881.9 L471.2,886.3 L475.6,874.6 L486.6,876.2 L498.2,878.3 L509.1,874.6 L520.8,876.2 L531.7,884.0 L542.7,903.1 L553.6,903.1 L565.3,903.7 L576.2,897.4 L587.1,887.6 L592.2,889.0 L598.1,878.9 L609.0,877.6" fill="none" stroke="#8faadc" stroke-width="1.4" stroke-linejoin="round" stroke-linecap="round"/>
<path d="M343.7,878.3 L348.8,880.3 L354.6,906.8 L361.2,914.5 L366.3,916.5 L371.4,920.2 L377.2,919.5 L381.6,916.5 L386.7,904.7 L397.6,896.4 L409.3,894.4 L420.2,894.7 L431.2,893.3 L442.1,884.0 L448.7,874.6 L453.8,872.6 L464.7,880.3 L469.1,881.9 L475.6,872.6 L482.2,880.3 L493.1,889.0 L498.2,887.6 L509.1,881.9 L515.7,880.3 L520.8,880.3 L531.7,887.6 L538.3,897.4 L542.7,899.0 L549.2,891.7 L553.6,893.0 L565.3,884.2 L571.8,881.8 L576.2,885.5 L582.8,876.1 L587.1,878.1 L598.1,879.8 L609.0,878.1" fill="none" stroke="#ffa500" stroke-width="1.75" stroke-linejoin="round" stroke-linecap="round"/>
<path d="M343.7,877.6 L348.8,885.9 L354.6,907.9 L359.0,913.1 L366.3,909.8 L372.9,908.8 L377.2,904.6 L386.7,906.4 L397.6,902.7 L404.2,906.4 L409.3,903.9 L415.9,904.6 L420.2,899.4 L431.2,896.9 L442.1,890.8 L446.5,892.3 L453.8,882.0 L458.9,880.4 L464.7,883.8 L469.1,879.5 L475.6,878.6 L482.2,881.4 L486.6,877.4 L493.1,876.8 L498.2,872.8 L503.3,874.0 L509.1,873.4 L513.5,879.5 L520.8,881.0 L523.7,878.6 L528.8,883.8 L533.2,884.4 L538.3,889.9 L542.7,887.2 L547.8,907.3 L553.6,897.5 L558.0,903.9 L565.3,906.4 L570.4,896.0 L574.7,894.2 L580.6,886.5" fill="none" stroke="#c00000" stroke-width="2.2" stroke-linejoin="round" stroke-linecap="round"/>
</g>
<path d="M343.5,862.3V1003.5" fill="none" stroke="#c8c8c8" stroke-width="1"/>
<path d="M343.0,1003.5H609.0" fill="none" stroke="#6a6a6a" stroke-width="1"/>
<g font-size="6.05" text-anchor="end" fill="#4d4d4d" font-family="Liberation Sans,Noto Sans CJK SC,sans-serif"><text x="335.4" y="1005.4">980</text><text x="335.4" y="987.8">1,080</text><text x="335.4" y="970.1">1,180</text><text x="335.4" y="952.4">1,280</text><text x="335.4" y="934.8">1,380</text><text x="335.4" y="917.1">1,480</text><text x="335.4" y="899.5">1,580</text><text x="335.4" y="881.8">1,680</text><text x="335.4" y="864.2">1,780</text></g>
<g font-size="6.05" text-anchor="middle" fill="#4d4d4d" font-family="Liberation Sans,Noto Sans CJK SC,sans-serif"><text x="343.7" y="1011.9">1/1</text><text x="366.3" y="1011.9">2/1</text><text x="386.7" y="1011.9">3/1</text><text x="409.3" y="1011.9">4/1</text><text x="431.2" y="1011.9">5/1</text><text x="453.8" y="1011.9">6/1</text><text x="475.6" y="1011.9">7/1</text><text x="498.2" y="1011.9">8/1</text><text x="520.8" y="1011.9">9/1</text><text x="542.7" y="1011.9">10/1</text><text x="565.3" y="1011.9">11/1</text><text x="587.1" y="1011.9">12/1</text></g>
<clipPath id="c_prod"><rect x="661.1" y="859.3" width="265.8" height="144.8"/></clipPath>
<text x="795.3" y="835.4" text-anchor="middle" font-size="10.3" font-weight="bold" letter-spacing="1.25" fill="#000" font-family="Liberation Sans,Noto Sans CJK SC,sans-serif">美国原油产量（万桶/日）</text>
<rect x="655.4" y="846.4" width="20.0" height="3.2" fill="#d9d9d9"/><text x="678.2" y="850.2" font-size="6.4" fill="#404040" font-family="Liberation Sans,Noto Sans CJK SC,sans-serif">五年区间</text><path d="M711.1,848.0h20.3" stroke="#a9d18e" stroke-width="1.4" stroke-linecap="butt"/><text x="733.9" y="850.2" font-size="6.1" fill="#404040" font-family="Liberation Sans,Noto Sans CJK SC,sans-serif">2022</text><path d="M753.9,848.0h20.3" stroke="#8faadc" stroke-width="1.4" stroke-linecap="butt"/><text x="776.7" y="850.2" font-size="6.1" fill="#404040" font-family="Liberation Sans,Noto Sans CJK SC,sans-serif">2023</text><path d="M796.6,848.0h20.3" stroke="#ffa500" stroke-width="1.75" stroke-linecap="butt"/><text x="819.4" y="850.2" font-size="6.1" fill="#404040" font-family="Liberation Sans,Noto Sans CJK SC,sans-serif">2024</text><path d="M839.4,848.0h20.3" stroke="#c00000" stroke-width="2.2" stroke-linecap="butt"/><text x="862.2" y="850.2" font-size="6.1" fill="#404040" font-family="Liberation Sans,Noto Sans CJK SC,sans-serif">2025</text><path d="M882.2,848.0h20.3" stroke="#9c9c9c" stroke-width="1.3" stroke-dasharray="3.2,2" stroke-linecap="butt"/><text x="905.0" y="850.2" font-size="6.1" fill="#404040" font-family="Liberation Sans,Noto Sans CJK SC,sans-serif">Ave</text>
<g clip-path="url(#c_prod)"><path d="M662.1,898.2 L667.2,896.2 L672.9,902.6 L677.3,902.2 L684.5,896.2 L698.2,896.2 L707.6,900.2 L766.1,900.2 L774.0,898.2 L790.6,898.2 L795.7,896.2 L812.3,896.2 L815.2,894.2 L820.2,896.2 L826.0,894.2 L830.3,896.2 L840.4,896.2 L845.5,898.2 L851.3,898.2 L859.2,894.2 L864.3,892.2 L881.6,892.2 L884.5,893.2 L889.5,898.2 L893.9,892.2 L898.9,892.2 L906.1,889.1 L924.9,890.7 L924.9,943.0 L911.2,943.0 L906.1,941.0 L898.9,941.0 L891.0,945.0 L886.6,953.1 L881.6,953.1 L874.4,943.0 L870.8,965.2 L867.1,955.1 L862.1,943.0 L857.0,949.0 L851.3,953.1 L845.5,961.1 L840.4,963.2 L834.7,969.2 L830.3,947.0 L826.0,949.0 L820.2,949.0 L815.2,941.0 L810.1,941.0 L803.6,943.0 L784.8,943.0 L780.5,953.1 L776.2,943.0 L771.1,947.0 L766.1,943.0 L755.2,943.0 L744.4,945.0 L737.9,943.0 L727.1,945.0 L722.0,941.0 L715.5,945.0 L707.6,945.0 L703.3,963.2 L698.2,969.2 L692.4,947.0 L687.4,943.0 L679.4,945.0 L672.9,943.0 L662.1,943.0Z" fill="#d9d9d9"/>
<path d="M662.1,918.8 L667.2,918.8 L672.9,921.8 L679.4,919.8 L687.4,917.8 L692.4,918.8 L698.2,922.8 L703.3,921.8 L707.6,919.8 L718.4,918.8 L727.1,919.8 L748.7,921.8 L755.2,923.8 L771.1,924.8 L776.2,924.8 L780.5,926.4 L786.3,924.8 L792.8,922.8 L803.6,923.8 L815.2,920.8 L821.7,921.8 L830.3,921.8 L834.7,925.8 L839.0,929.9 L844.0,926.8 L851.3,924.8 L859.2,919.8 L864.3,920.8 L870.0,922.8 L874.4,918.8 L881.6,920.8 L892.4,918.8 L903.2,916.4 L924.9,916.4" fill="none" stroke="#9c9c9c" stroke-width="1.3" stroke-linejoin="round" stroke-linecap="round" stroke-dasharray="3.2,2"/>
<path d="M662.1,928.9 L672.9,928.9 L684.5,932.9 L691.0,930.9 L715.5,930.9 L727.1,926.8 L737.9,924.8 L748.7,924.8 L753.8,926.8 L759.6,923.8 L771.1,924.8 L781.9,922.8 L792.8,920.8 L803.6,922.8 L815.2,920.8 L820.2,918.8 L826.0,920.8 L832.5,922.8 L837.5,920.8 L851.3,920.8 L859.2,922.8 L865.7,924.8 L872.9,922.8 L881.6,924.8 L886.6,920.8 L898.9,920.8 L906.1,918.8 L911.2,920.8 L920.6,922.8 L924.9,920.8" fill="none" stroke="#a9d18e" stroke-width="1.4" stroke-linejoin="round" stroke-linecap="round"/>
<path d="M662.1,918.8 L679.4,918.8 L684.5,916.8 L701.8,916.8 L704.7,918.8 L709.8,918.8 L714.1,916.8 L718.4,918.8 L727.1,918.8 L732.1,916.8 L740.8,916.8 L744.4,918.8 L751.6,916.8 L756.7,918.8 L762.5,916.8 L768.2,918.8 L772.6,914.7 L777.6,914.7 L781.9,918.8 L788.4,918.8 L792.8,914.7 L797.8,916.8 L803.6,916.8 L807.9,918.8 L813.7,918.8 L818.0,910.7 L826.0,906.7 L837.5,906.7 L842.6,904.7 L857.0,904.7 L862.1,898.6 L895.3,898.6 L900.4,900.6 L906.1,900.6 L911.2,896.6 L917.0,896.6 L922.0,898.6 L924.9,898.6" fill="none" stroke="#8faadc" stroke-width="1.4" stroke-linejoin="round" stroke-linecap="round"/>
<path d="M662.1,898.6 L667.2,896.6 L672.9,916.8 L677.3,902.6 L684.5,896.6 L698.2,896.6 L707.6,900.6 L766.1,900.6 L774.0,898.6 L790.6,898.6 L795.7,896.6 L812.3,896.6 L815.2,894.6 L820.2,896.6 L826.0,894.6 L830.3,896.6 L840.4,896.6 L845.5,898.6 L851.3,898.6 L859.2,894.6 L864.3,892.6 L881.6,892.6 L884.5,893.6 L889.5,898.6 L893.9,892.6 L898.9,892.6 L906.1,889.5 L924.9,891.1" fill="none" stroke="#ffa500" stroke-width="1.75" stroke-linejoin="round" stroke-linecap="round"/>
<path d="M662.1,891.1 L667.2,892.6 L672.9,893.0 L677.3,897.6 L684.5,893.0 L689.5,892.6 L704.7,892.6 L709.8,890.9 L724.2,890.9 L730.0,893.6 L744.4,893.6 L750.2,895.2 L771.1,894.6 L788.4,894.0 L795.7,895.0 L800.7,895.0 L805.1,897.0 L812.3,896.0 L818.0,896.6 L826.0,895.0 L832.5,893.6 L837.5,894.2 L840.4,892.6 L845.5,893.0 L857.0,892.6 L862.1,890.1 L876.5,890.1 L881.6,889.5 L886.6,885.3 L896.7,886.1" fill="none" stroke="#c00000" stroke-width="2.2" stroke-linejoin="round" stroke-linecap="round"/>
</g>
<path d="M662.5,862.3V1003.5" fill="none" stroke="#b0b0b0" stroke-width="1"/>
<path d="M662.0,1003.5H924.9" fill="none" stroke="#737373" stroke-width="1"/>
<g font-size="6.05" text-anchor="end" fill="#4d4d4d" font-family="Liberation Sans,Noto Sans CJK SC,sans-serif"><text x="653.8" y="1005.4">800</text><text x="653.8" y="985.2">900</text><text x="653.8" y="965.1">1,000</text><text x="653.8" y="944.9">1,100</text><text x="653.8" y="924.7">1,200</text><text x="653.8" y="904.5">1,300</text><text x="653.8" y="884.4">1,400</text><text x="653.8" y="864.2">1,500</text></g>
<g font-size="6.05" text-anchor="middle" fill="#4d4d4d" font-family="Liberation Sans,Noto Sans CJK SC,sans-serif"><text x="662.1" y="1011.9">1/1</text><text x="684.5" y="1011.9">2/1</text><text x="704.7" y="1011.9">3/1</text><text x="727.1" y="1011.9">4/1</text><text x="748.7" y="1011.9">5/1</text><text x="771.1" y="1011.9">6/1</text><text x="792.8" y="1011.9">7/1</text><text x="815.2" y="1011.9">8/1</text><text x="837.5" y="1011.9">9/1</text><text x="859.2" y="1011.9">10/1</text><text x="881.6" y="1011.9">11/1</text><text x="903.2" y="1011.9">12/1</text></g>
<clipPath id="c_cimp"><rect x="22.1" y="1056.5" width="270.9" height="144.9"/></clipPath>
<text x="162.2" y="1032.6" text-anchor="middle" font-size="10.3" font-weight="bold" letter-spacing="1.25" fill="#000" font-family="Liberation Sans,Noto Sans CJK SC,sans-serif">美国原油进口量（万桶/日）</text>
<rect x="22.5" y="1043.6" width="20.0" height="3.2" fill="#d9d9d9"/><text x="45.3" y="1047.4" font-size="6.4" fill="#404040" font-family="Liberation Sans,Noto Sans CJK SC,sans-serif">五年区间</text><path d="M78.2,1045.2h20.3" stroke="#a9d18e" stroke-width="1.4" stroke-linecap="butt"/><text x="101.0" y="1047.4" font-size="6.1" fill="#404040" font-family="Liberation Sans,Noto Sans CJK SC,sans-serif">2022</text><path d="M121.0,1045.2h20.3" stroke="#8faadc" stroke-width="1.4" stroke-linecap="butt"/><text x="143.8" y="1047.4" font-size="6.1" fill="#404040" font-family="Liberation Sans,Noto Sans CJK SC,sans-serif">2023</text><path d="M163.7,1045.2h20.3" stroke="#ffa500" stroke-width="1.75" stroke-linecap="butt"/><text x="186.5" y="1047.4" font-size="6.1" fill="#404040" font-family="Liberation Sans,Noto Sans CJK SC,sans-serif">2024</text><path d="M206.5,1045.2h20.3" stroke="#c00000" stroke-width="2.2" stroke-linecap="butt"/><text x="229.3" y="1047.4" font-size="6.1" fill="#404040" font-family="Liberation Sans,Noto Sans CJK SC,sans-serif">2025</text><path d="M249.3,1045.2h20.3" stroke="#9c9c9c" stroke-width="1.3" stroke-dasharray="3.2,2" stroke-linecap="butt"/><text x="272.1" y="1047.4" font-size="6.1" fill="#404040" font-family="Liberation Sans,Noto Sans CJK SC,sans-serif">Ave</text>
<g clip-path="url(#c_cimp)"><path d="M23.1,1124.5 L28.3,1103.3 L38.6,1107.5 L45.9,1114.6 L57.0,1118.8 L66.5,1109.0 L77.6,1123.1 L84.9,1111.8 L92.3,1127.3 L100.4,1128.7 L111.4,1116.0 L122.5,1120.3 L126.1,1109.8 L134.2,1110.4 L136.4,1078.7 L141.6,1113.2 L145.3,1114.6 L156.3,1104.7 L162.2,1110.4 L167.4,1110.4 L179.1,1105.3 L190.2,1116.0 L203.4,1099.1 L208.6,1116.0 L213.7,1109.0 L224.0,1116.0 L235.1,1128.7 L246.8,1127.9 L254.9,1096.2 L260.1,1101.3 L265.2,1107.0 L270.4,1116.0 L280.0,1118.8 L291.0,1117.4 L291.0,1164.1 L282.9,1162.6 L275.5,1159.8 L268.9,1155.6 L257.9,1165.5 L246.8,1164.1 L238.0,1166.9 L230.6,1161.2 L224.0,1169.7 L215.9,1166.9 L208.6,1172.5 L198.3,1175.4 L193.1,1152.8 L185.8,1161.2 L179.1,1149.9 L167.4,1155.6 L156.3,1149.9 L145.3,1161.2 L134.2,1152.8 L122.5,1166.9 L111.4,1161.2 L100.4,1174.0 L89.3,1155.6 L79.8,1164.1 L69.5,1159.0 L66.5,1155.6 L59.2,1182.4 L54.0,1155.6 L45.9,1147.1 L38.6,1169.7 L33.4,1157.8 L28.3,1144.3 L23.1,1161.2Z" fill="#d9d9d9"/>
<path d="M23.1,1133.0 L28.3,1127.3 L38.6,1133.0 L45.9,1130.2 L57.0,1138.6 L66.5,1141.5 L77.6,1138.6 L89.3,1135.8 L100.4,1147.1 L111.4,1141.5 L122.5,1138.6 L136.4,1121.7 L145.3,1133.0 L156.3,1127.3 L167.4,1127.3 L179.1,1130.2 L190.2,1133.0 L201.9,1138.6 L213.0,1133.0 L224.0,1138.6 L235.1,1147.1 L246.8,1144.3 L257.9,1135.8 L268.9,1130.2 L280.0,1133.0 L291.0,1141.5" fill="none" stroke="#9c9c9c" stroke-width="1.3" stroke-linejoin="round" stroke-linecap="round" stroke-dasharray="3.2,2"/>
<path d="M23.1,1142.3 L28.3,1141.5 L33.4,1140.6 L38.6,1127.9 L43.7,1121.4 L48.9,1145.4 L54.0,1138.9 L59.2,1121.4 L64.3,1142.3 L69.5,1134.1 L74.6,1131.8 L79.8,1135.2 L84.9,1138.9 L90.1,1139.8 L95.2,1140.6 L100.4,1148.5 L105.5,1147.1 L110.7,1135.2 L115.8,1134.1 L121.0,1135.2 L126.1,1129.3 L131.3,1135.8 L136.4,1137.5 L141.6,1114.9 L146.7,1129.3 L151.9,1138.9 L157.0,1144.8 L162.2,1123.1 L167.4,1124.5 L172.5,1137.5 L177.7,1106.4 L182.8,1138.9 L188.0,1140.6 L193.1,1142.3 L198.3,1134.1 L203.4,1127.9 L208.6,1138.9 L213.7,1116.6 L218.9,1135.2 L224.0,1140.6 L229.2,1148.5 L234.3,1145.4 L239.5,1140.6 L244.6,1138.9 L249.8,1158.1 L254.9,1114.0 L260.1,1138.9 L265.2,1137.5 L270.4,1119.7 L275.5,1149.4 L280.7,1137.5 L285.8,1151.9 L291.0,1151.9" fill="none" stroke="#a9d18e" stroke-width="1.4" stroke-linejoin="round" stroke-linecap="round"/>
<path d="M23.1,1129.3 L28.3,1119.7 L33.4,1137.5 L38.6,1108.4 L43.7,1114.9 L48.9,1135.8 L54.0,1137.5 L59.2,1135.8 L64.3,1140.6 L69.5,1138.3 L74.6,1141.5 L79.8,1162.9 L84.9,1112.3 L90.1,1138.9 L95.2,1137.5 L100.4,1135.2 L105.5,1133.3 L110.7,1156.7 L115.8,1120.3 L121.0,1148.5 L126.1,1110.7 L131.3,1132.7 L136.4,1134.1 L141.6,1140.6 L146.7,1126.2 L151.9,1114.9 L157.0,1147.1 L162.2,1111.8 L167.4,1132.7 L172.5,1126.2 L177.7,1126.2 L182.8,1111.8 L188.0,1118.3 L193.1,1127.9 L198.3,1123.1 L203.4,1099.9 L208.6,1129.3 L213.7,1110.1 L218.9,1137.5 L224.0,1134.1 L229.2,1145.4 L234.3,1131.0 L239.5,1132.7 L244.6,1133.3 L249.8,1128.7 L254.9,1148.5 L260.1,1102.2 L265.2,1130.2 L270.4,1124.5 L275.5,1138.9 L280.7,1119.7 L285.8,1119.7 L291.0,1119.7" fill="none" stroke="#8faadc" stroke-width="1.4" stroke-linejoin="round" stroke-linecap="round"/>
<path d="M23.1,1134.1 L28.3,1104.4 L33.4,1156.7 L38.6,1155.6 L43.7,1119.1 L48.9,1131.0 L54.0,1126.2 L59.2,1133.3 L64.3,1110.1 L69.5,1158.1 L74.6,1138.9 L79.8,1124.5 L84.9,1126.8 L90.1,1131.8 L95.2,1131.0 L100.4,1130.2 L105.5,1123.1 L110.7,1117.2 L115.8,1123.1 L121.0,1126.2 L126.1,1123.1 L131.3,1114.9 L136.4,1079.6 L141.6,1114.9 L146.7,1127.9 L151.9,1129.3 L157.0,1121.4 L162.2,1114.9 L167.4,1119.7 L172.5,1118.3 L177.7,1138.3 L182.8,1136.4 L188.0,1126.2 L193.1,1127.9 L198.3,1149.6 L203.4,1120.3 L208.6,1135.2 L213.7,1131.8 L218.9,1126.8 L224.0,1138.9 L229.2,1151.9 L234.3,1131.8 L239.5,1145.4 L244.6,1138.3 L249.8,1130.2 L254.9,1097.4 L260.1,1132.7 L265.2,1107.8 L270.4,1144.8 L275.5,1126.2 L280.7,1131.0 L285.8,1118.3 L291.0,1118.3" fill="none" stroke="#ffa500" stroke-width="1.75" stroke-linejoin="round" stroke-linecap="round"/>
<path d="M23.1,1131.8 L28.3,1140.6 L33.4,1123.7 L38.6,1131.0 L43.7,1119.1 L48.9,1136.4 L54.0,1148.5 L59.2,1146.0 L64.3,1149.4 L69.5,1159.0 L74.6,1161.5 L79.8,1140.6 L84.9,1131.8 L90.1,1140.6 L95.2,1144.8 L100.4,1155.6 L105.5,1158.1 L110.7,1143.7 L115.8,1148.5 L121.0,1141.5 L126.1,1135.2 L131.3,1135.2 L136.4,1139.8 L141.6,1158.1 L146.7,1143.7 L151.9,1119.1 L157.0,1143.7 L162.2,1134.1 L167.4,1144.8 L172.5,1140.6 L177.7,1144.8 L182.8,1119.1 L188.0,1131.0 L193.1,1138.3 L198.3,1123.7 L203.4,1135.2 L208.6,1152.5 L213.7,1130.2 L218.9,1148.5 L224.0,1133.3 L229.2,1156.7 L234.3,1146.0 L239.5,1171.1 L244.6,1148.0 L249.8,1166.3 L254.9,1145.4 L260.1,1131.8" fill="none" stroke="#c00000" stroke-width="2.2" stroke-linejoin="round" stroke-linecap="round"/>
</g>
<path d="M23.5,1059.5V1200.5" fill="none" stroke="#c8c8c8" stroke-width="1"/>
<path d="M23.0,1200.5H291.0" fill="none" stroke="#6a6a6a" stroke-width="1"/>
<g font-size="6.05" text-anchor="end" fill="#4d4d4d" font-family="Liberation Sans,Noto Sans CJK SC,sans-serif"><text x="14.8" y="1202.7">400</text><text x="14.8" y="1188.6">450</text><text x="14.8" y="1174.4">500</text><text x="14.8" y="1160.3">550</text><text x="14.8" y="1146.2">600</text><text x="14.8" y="1132.1">650</text><text x="14.8" y="1117.9">700</text><text x="14.8" y="1103.8">750</text><text x="14.8" y="1089.7">800</text><text x="14.8" y="1075.5">850</text><text x="14.8" y="1061.4">900</text></g>
<path d="M23.5,1200.5v1.9" stroke="#6a6a6a" stroke-width="1"/>
<path d="M45.5,1200.5v1.9" stroke="#6a6a6a" stroke-width="1"/>
<path d="M66.5,1200.5v1.9" stroke="#6a6a6a" stroke-width="1"/>
<path d="M89.5,1200.5v1.9" stroke="#6a6a6a" stroke-width="1"/>
<path d="M111.5,1200.5v1.9" stroke="#6a6a6a" stroke-width="1"/>
<path d="M134.5,1200.5v1.9" stroke="#6a6a6a" stroke-width="1"/>
<path d="M156.5,1200.5v1.9" stroke="#6a6a6a" stroke-width="1"/>
<path d="M179.5,1200.5v1.9" stroke="#6a6a6a" stroke-width="1"/>
<path d="M201.5,1200.5v1.9" stroke="#6a6a6a" stroke-width="1"/>
<path d="M224.5,1200.5v1.9" stroke="#6a6a6a" stroke-width="1"/>
<path d="M246.5,1200.5v1.9" stroke="#6a6a6a" stroke-width="1"/>
<path d="M268.5,1200.5v1.9" stroke="#6a6a6a" stroke-width="1"/>
<g font-size="6.05" text-anchor="middle" fill="#4d4d4d" font-family="Liberation Sans,Noto Sans CJK SC,sans-serif"><text x="23.1" y="1209.2">1/1</text><text x="45.9" y="1209.2">2/1</text><text x="66.5" y="1209.2">3/1</text><text x="89.3" y="1209.2">4/1</text><text x="111.4" y="1209.2">5/1</text><text x="134.2" y="1209.2">6/1</text><text x="156.3" y="1209.2">7/1</text><text x="179.1" y="1209.2">8/1</text><text x="201.9" y="1209.2">9/1</text><text x="224.0" y="1209.2">10/1</text><text x="246.8" y="1209.2">11/1</text><text x="268.9" y="1209.2">12/1</text></g>
<clipPath id="c_cexp"><rect x="336.3" y="1056.5" width="274.7" height="144.9"/></clipPath>
<text x="473.2" y="1032.6" text-anchor="middle" font-size="10.3" font-weight="bold" letter-spacing="1.25" fill="#000" font-family="Liberation Sans,Noto Sans CJK SC,sans-serif">美国原油出口量（万桶/日）</text>
<rect x="337.3" y="1043.6" width="20.2" height="3.2" fill="#d9d9d9"/><text x="360.3" y="1047.4" font-size="6.4" fill="#404040" font-family="Liberation Sans,Noto Sans CJK SC,sans-serif">五年区间</text><path d="M393.6,1045.2h20.5" stroke="#a9d18e" stroke-width="1.4" stroke-linecap="butt"/><text x="416.6" y="1047.4" font-size="6.1" fill="#404040" font-family="Liberation Sans,Noto Sans CJK SC,sans-serif">2022</text><path d="M436.8,1045.2h20.5" stroke="#8faadc" stroke-width="1.4" stroke-linecap="butt"/><text x="459.8" y="1047.4" font-size="6.1" fill="#404040" font-family="Liberation Sans,Noto Sans CJK SC,sans-serif">2023</text><path d="M479.9,1045.2h20.5" stroke="#ffa500" stroke-width="1.75" stroke-linecap="butt"/><text x="502.9" y="1047.4" font-size="6.1" fill="#404040" font-family="Liberation Sans,Noto Sans CJK SC,sans-serif">2024</text><path d="M523.1,1045.2h20.5" stroke="#c00000" stroke-width="2.2" stroke-linecap="butt"/><text x="546.2" y="1047.4" font-size="6.1" fill="#404040" font-family="Liberation Sans,Noto Sans CJK SC,sans-serif">2025</text><path d="M566.4,1045.2h20.5" stroke="#9c9c9c" stroke-width="1.3" stroke-dasharray="3.2,2" stroke-linecap="butt"/><text x="589.4" y="1047.4" font-size="6.1" fill="#404040" font-family="Liberation Sans,Noto Sans CJK SC,sans-serif">Ave</text>
<g clip-path="url(#c_cexp)"><path d="M337.3,1123.1 L342.5,1081.9 L353.0,1096.0 L363.4,1096.0 L373.9,1067.7 L381.3,1087.8 L389.6,1083.0 L400.0,1076.5 L405.2,1106.6 L415.7,1077.6 L426.9,1092.5 L436.6,1088.2 L441.8,1084.2 L450.0,1097.2 L462.7,1074.8 L472.4,1097.2 L479.1,1106.6 L488.8,1075.5 L495.5,1106.6 L504.5,1081.9 L515.0,1083.8 L520.2,1111.3 L525.4,1078.3 L535.9,1083.0 L546.3,1074.8 L556.8,1078.8 L567.2,1084.7 L582.9,1083.8 L588.1,1106.6 L593.3,1084.7 L603.8,1076.0 L609.0,1076.0 L609.0,1139.6 L597.8,1132.5 L588.1,1156.1 L582.1,1139.6 L570.9,1134.9 L562.0,1146.6 L555.3,1132.5 L546.3,1150.2 L541.1,1150.2 L529.9,1132.5 L520.2,1144.3 L509.7,1132.5 L499.3,1152.5 L494.1,1154.9 L479.1,1141.9 L473.1,1150.4 L461.2,1137.2 L452.2,1149.0 L450.0,1142.6 L436.6,1133.7 L431.4,1157.2 L426.9,1141.9 L418.7,1139.6 L410.4,1150.2 L404.5,1141.9 L392.5,1140.7 L381.3,1144.8 L368.7,1148.5 L360.4,1144.8 L347.8,1146.6 L342.5,1154.2 L337.3,1154.2Z" fill="#d9d9d9"/>
<path d="M337.3,1133.7 L342.5,1118.4 L353.0,1119.6 L360.4,1127.8 L368.7,1111.3 L379.1,1113.7 L384.3,1118.4 L392.5,1109.0 L404.5,1125.4 L412.7,1106.6 L422.4,1109.0 L431.4,1120.7 L441.1,1111.3 L452.2,1134.9 L461.2,1109.0 L467.9,1113.7 L473.1,1134.9 L480.6,1127.8 L488.8,1106.6 L495.5,1125.4 L504.5,1109.0 L515.0,1110.1 L520.2,1130.2 L525.4,1106.6 L535.9,1111.3 L541.1,1120.7 L549.3,1106.6 L562.0,1113.7 L567.2,1123.1 L578.4,1106.6 L588.1,1132.5 L594.8,1106.6 L603.8,1109.0 L609.0,1110.1" fill="none" stroke="#9c9c9c" stroke-width="1.3" stroke-linejoin="round" stroke-linecap="round" stroke-dasharray="3.2,2"/>
<path d="M337.3,1154.2 L342.5,1154.2 L347.8,1138.9 L353.0,1134.9 L358.2,1144.5 L363.4,1127.6 L368.7,1147.8 L373.9,1141.5 L379.1,1114.6 L384.3,1144.5 L389.6,1132.3 L394.8,1111.5 L400.0,1129.2 L405.2,1122.1 L410.4,1149.5 L415.7,1100.9 L420.9,1113.2 L426.1,1114.6 L431.4,1132.3 L436.6,1116.3 L441.8,1117.9 L447.0,1124.3 L452.2,1148.5 L457.5,1112.5 L462.7,1116.3 L467.9,1140.5 L473.1,1130.9 L478.4,1130.9 L483.6,1113.2 L488.8,1093.9 L494.1,1122.6 L499.3,1151.1 L504.5,1082.6 L509.7,1098.6 L515.0,1105.0 L520.2,1129.2 L525.4,1079.3 L530.6,1109.9 L535.9,1090.6 L541.1,1093.9 L546.3,1133.0 L551.5,1103.5 L556.8,1079.3 L562.0,1114.6 L567.2,1125.9 L572.4,1109.9 L577.6,1100.2 L582.9,1084.2 L588.1,1129.7 L593.3,1100.2 L598.5,1098.6 L603.8,1119.6 L609.0,1100.9" fill="none" stroke="#a9d18e" stroke-width="1.4" stroke-linejoin="round" stroke-linecap="round"/>
<path d="M337.3,1151.1 L342.5,1116.3 L347.8,1089.9 L353.0,1119.6 L358.2,1132.3 L363.4,1127.6 L368.7,1087.3 L373.9,1068.2 L379.1,1121.2 L384.3,1081.9 L389.6,1084.7 L394.8,1093.9 L400.0,1077.2 L405.2,1124.3 L410.4,1092.2 L415.7,1085.9 L420.9,1088.9 L426.1,1133.0 L431.4,1099.5 L436.6,1092.2 L441.8,1084.7 L447.0,1142.6 L452.2,1130.9 L457.5,1093.9 L462.7,1075.3 L467.9,1113.2 L473.1,1149.9 L478.4,1122.6 L483.6,1093.9 L488.8,1076.2 L494.1,1145.2 L499.3,1092.2 L504.5,1098.6 L509.7,1092.2 L515.0,1084.2 L520.2,1127.6 L525.4,1082.6 L530.6,1105.0 L535.9,1083.5 L541.1,1129.2 L546.3,1075.5 L551.5,1086.8 L556.8,1085.9 L562.0,1093.9 L567.2,1085.2 L572.4,1087.3 L577.6,1088.0 L582.9,1095.5 L588.1,1111.5 L593.3,1103.5 L598.5,1107.3 L603.8,1076.2 L609.0,1076.2" fill="none" stroke="#8faadc" stroke-width="1.4" stroke-linejoin="round" stroke-linecap="round"/>
<path d="M337.3,1124.3 L342.5,1082.6 L347.8,1093.9 L353.0,1109.9 L358.2,1115.5 L363.4,1096.9 L368.7,1084.2 L373.9,1089.9 L379.1,1092.2 L384.3,1126.6 L389.6,1085.9 L394.8,1102.8 L400.0,1104.0 L405.2,1137.2 L410.4,1088.9 L415.7,1078.3 L420.9,1106.6 L426.1,1095.5 L431.4,1102.8 L436.6,1088.9 L441.8,1100.9 L447.0,1094.4 L452.2,1125.9 L457.5,1101.9 L462.7,1113.2 L467.9,1096.9 L473.1,1106.6 L478.4,1107.5 L483.6,1103.5 L488.8,1085.9 L494.1,1114.6 L499.3,1112.5 L504.5,1104.0 L509.7,1113.7 L515.0,1112.5 L520.2,1129.7 L525.4,1088.9 L530.6,1109.0 L535.9,1109.9 L541.1,1111.5 L546.3,1103.5 L551.5,1102.8 L556.8,1099.5 L562.0,1133.0 L567.2,1114.6 L572.4,1094.4 L577.6,1091.3 L582.9,1101.9 L588.1,1126.6 L593.3,1085.2 L598.5,1113.2 L603.8,1109.2 L609.0,1109.2" fill="none" stroke="#ffa500" stroke-width="1.75" stroke-linejoin="round" stroke-linecap="round"/>
<path d="M337.3,1128.5 L342.5,1103.5 L347.8,1094.8 L353.0,1113.2 L358.2,1098.6 L363.4,1108.2 L368.7,1096.9 L373.9,1101.2 L379.1,1102.8 L384.3,1122.8 L389.6,1091.3 L394.8,1091.5 L400.0,1108.2 L405.2,1122.8 L410.4,1080.9 L415.7,1116.3 L420.9,1102.8 L426.1,1105.2 L431.4,1120.3 L436.6,1117.9 L441.8,1099.5 L447.0,1106.6 L452.2,1123.8 L457.5,1097.7 L462.7,1099.3 L467.9,1145.9 L473.1,1138.9 L478.4,1117.9 L483.6,1109.9 L488.8,1137.2 L494.1,1122.1 L499.3,1116.3 L504.5,1096.9 L509.7,1110.6 L515.0,1109.9 L520.2,1136.3 L525.4,1076.2 L530.6,1095.5 L535.9,1111.5 L541.1,1116.3 L546.3,1095.5 L551.5,1100.9 L556.8,1097.7 L562.0,1097.7 L567.2,1134.9 L572.4,1102.8 L577.6,1116.3" fill="none" stroke="#c00000" stroke-width="2.2" stroke-linejoin="round" stroke-linecap="round"/>
</g>
<path d="M337.5,1059.5V1200.5" fill="none" stroke="#c8c8c8" stroke-width="1"/>
<path d="M337.0,1200.5H609.0" fill="none" stroke="#6a6a6a" stroke-width="1"/>
<g font-size="6.05" text-anchor="end" fill="#4d4d4d" font-family="Liberation Sans,Noto Sans CJK SC,sans-serif"><text x="329.0" y="1202.7">0</text><text x="329.0" y="1179.2">100</text><text x="329.0" y="1155.6">200</text><text x="329.0" y="1132.1">300</text><text x="329.0" y="1108.5">400</text><text x="329.0" y="1085.0">500</text><text x="329.0" y="1061.4">600</text></g>
<g font-size="6.05" text-anchor="middle" fill="#4d4d4d" font-family="Liberation Sans,Noto Sans CJK SC,sans-serif"><text x="337.3" y="1209.2">1/1</text><text x="360.4" y="1209.2">2/1</text><text x="381.3" y="1209.2">3/1</text><text x="404.5" y="1209.2">4/1</text><text x="426.9" y="1209.2">5/1</text><text x="450.0" y="1209.2">6/1</text><text x="472.4" y="1209.2">7/1</text><text x="495.5" y="1209.2">8/1</text><text x="518.7" y="1209.2">9/1</text><text x="541.1" y="1209.2">10/1</text><text x="564.2" y="1209.2">11/1</text><text x="586.6" y="1209.2">12/1</text></g>
<clipPath id="c_cnet"><rect x="654.4" y="1056.5" width="272.5" height="144.9"/></clipPath>
<text x="782.8" y="1032.6" text-anchor="middle" font-size="10.3" font-weight="bold" letter-spacing="1.25" fill="#000" font-family="Liberation Sans,Noto Sans CJK SC,sans-serif">美国原油净进口量（万桶/日）</text>
<rect x="655.4" y="1043.6" width="20.0" height="3.2" fill="#d9d9d9"/><text x="678.2" y="1047.4" font-size="6.4" fill="#404040" font-family="Liberation Sans,Noto Sans CJK SC,sans-serif">五年区间</text><path d="M711.1,1045.2h20.3" stroke="#a9d18e" stroke-width="1.4" stroke-linecap="butt"/><text x="733.9" y="1047.4" font-size="6.1" fill="#404040" font-family="Liberation Sans,Noto Sans CJK SC,sans-serif">2022</text><path d="M753.9,1045.2h20.3" stroke="#8faadc" stroke-width="1.4" stroke-linecap="butt"/><text x="776.7" y="1047.4" font-size="6.1" fill="#404040" font-family="Liberation Sans,Noto Sans CJK SC,sans-serif">2023</text><path d="M796.6,1045.2h20.3" stroke="#ffa500" stroke-width="1.75" stroke-linecap="butt"/><text x="819.4" y="1047.4" font-size="6.1" fill="#404040" font-family="Liberation Sans,Noto Sans CJK SC,sans-serif">2024</text><path d="M839.4,1045.2h20.3" stroke="#c00000" stroke-width="2.2" stroke-linecap="butt"/><text x="862.2" y="1047.4" font-size="6.1" fill="#404040" font-family="Liberation Sans,Noto Sans CJK SC,sans-serif">2025</text><path d="M882.2,1045.2h20.3" stroke="#9c9c9c" stroke-width="1.3" stroke-dasharray="3.2,2" stroke-linecap="butt"/><text x="905.0" y="1047.4" font-size="6.1" fill="#404040" font-family="Liberation Sans,Noto Sans CJK SC,sans-serif">Ave</text>
<g clip-path="url(#c_cnet)"><path d="M655.4,1086.3 L660.6,1095.1 L665.8,1106.8 L670.9,1094.0 L676.1,1091.3 L681.3,1122.8 L686.5,1092.7 L691.7,1091.7 L696.9,1128.0 L702.0,1100.9 L707.2,1102.7 L712.4,1129.1 L717.6,1119.4 L722.8,1097.5 L728.0,1084.7 L733.1,1145.8 L738.3,1131.9 L743.5,1120.8 L748.7,1111.8 L753.9,1114.8 L759.1,1101.6 L764.2,1102.6 L769.4,1071.1 L774.6,1109.9 L779.8,1119.6 L785.0,1102.0 L790.1,1109.5 L795.3,1106.4 L800.5,1124.4 L805.7,1134.3 L810.9,1091.9 L816.1,1097.6 L821.2,1132.6 L826.4,1114.8 L831.6,1131.7 L836.8,1084.1 L842.0,1156.6 L847.2,1104.3 L852.3,1127.5 L857.5,1112.1 L862.7,1110.1 L867.9,1143.6 L873.1,1149.3 L878.3,1106.9 L883.4,1115.3 L888.6,1117.8 L893.8,1134.0 L899.0,1123.0 L904.2,1101.7 L909.4,1149.4 L914.5,1118.8 L919.7,1120.8 L924.9,1123.5 L924.9,1192.6 L919.7,1165.6 L914.5,1159.6 L909.4,1166.6 L904.2,1140.8 L899.0,1175.2 L893.8,1183.7 L888.6,1182.9 L883.4,1166.2 L878.3,1164.8 L873.1,1183.4 L867.9,1166.1 L862.7,1190.9 L857.5,1167.1 L852.3,1183.1 L847.2,1166.6 L842.0,1192.6 L836.8,1122.5 L831.6,1163.0 L826.4,1170.2 L821.2,1176.2 L816.1,1146.1 L810.9,1146.2 L805.7,1173.5 L800.5,1177.1 L795.3,1135.0 L790.1,1143.2 L785.0,1152.3 L779.8,1176.8 L774.6,1167.4 L769.4,1124.0 L764.2,1148.3 L759.1,1150.4 L753.9,1174.4 L748.7,1145.4 L743.5,1151.7 L738.3,1174.2 L733.1,1177.5 L728.0,1171.2 L722.8,1147.7 L717.6,1169.8 L712.4,1192.6 L707.2,1187.9 L702.0,1177.7 L696.9,1146.9 L691.7,1187.7 L686.5,1181.8 L681.3,1157.9 L676.1,1139.0 L670.9,1170.2 L665.8,1186.5 L660.6,1146.2 L655.4,1138.8Z" fill="#d9d9d9"/>
<path d="M655.4,1117.9 L660.6,1126.3 L665.8,1130.2 L670.9,1132.2 L676.1,1126.5 L681.3,1129.2 L686.5,1139.3 L691.7,1142.4 L696.9,1140.8 L702.0,1138.2 L707.2,1142.7 L712.4,1142.6 L717.6,1139.6 L722.8,1127.7 L728.0,1145.1 L733.1,1153.9 L738.3,1156.6 L743.5,1149.3 L748.7,1138.8 L753.9,1141.6 L759.1,1138.1 L764.2,1122.9 L769.4,1105.1 L774.6,1129.0 L779.8,1139.4 L785.0,1133.3 L790.1,1113.2 L795.3,1111.4 L800.5,1124.5 L805.7,1137.2 L810.9,1128.7 L816.1,1132.8 L821.2,1142.4 L826.4,1142.8 L831.6,1142.2 L836.8,1124.1 L842.0,1147.4 L847.2,1144.9 L852.3,1143.6 L857.5,1131.4 L862.7,1149.4 L867.9,1153.6 L873.1,1149.8 L878.3,1151.3 L883.4,1135.2 L888.6,1136.0 L893.8,1150.3 L899.0,1132.4 L904.2,1116.6 L909.4,1139.9 L914.5,1142.4 L919.7,1145.9 L924.9,1152.0" fill="none" stroke="#9c9c9c" stroke-width="1.3" stroke-linejoin="round" stroke-linecap="round" stroke-dasharray="3.2,2"/>
<path d="M655.4,1104.5 L660.6,1103.8 L665.8,1118.4 L670.9,1111.8 L676.1,1096.7 L681.3,1133.7 L686.5,1108.0 L691.7,1099.8 L696.9,1144.0 L702.0,1107.3 L707.2,1117.7 L712.4,1141.2 L717.6,1126.6 L722.8,1134.4 L728.0,1107.8 L733.1,1162.9 L738.3,1149.5 L743.5,1138.2 L748.7,1119.6 L753.9,1136.5 L759.1,1129.9 L764.2,1129.0 L769.4,1106.1 L774.6,1123.3 L779.8,1131.6 L785.0,1115.3 L790.1,1129.9 L795.3,1111.8 L800.5,1130.6 L805.7,1160.8 L810.9,1106.1 L816.1,1104.7 L821.2,1174.7 L826.4,1160.1 L831.6,1146.9 L836.8,1117.4 L842.0,1176.5 L847.2,1127.3 L852.3,1162.2 L857.5,1163.4 L862.7,1130.9 L867.9,1157.7 L873.1,1178.0 L878.3,1141.2 L883.4,1145.9 L888.6,1125.2 L893.8,1155.6 L899.0,1170.4 L904.2,1110.1 L909.4,1164.3 L914.5,1156.1 L919.7,1147.1 L924.9,1165.7" fill="none" stroke="#a9d18e" stroke-width="1.4" stroke-linejoin="round" stroke-linecap="round"/>
<path d="M655.4,1096.7 L660.6,1123.6 L665.8,1164.8 L670.9,1110.8 L676.1,1103.5 L681.3,1125.7 L686.5,1167.4 L691.7,1185.0 L696.9,1136.0 L702.0,1173.5 L707.2,1173.2 L712.4,1182.0 L717.6,1156.5 L722.8,1131.6 L728.0,1162.4 L733.1,1166.9 L738.3,1162.2 L743.5,1137.7 L748.7,1140.7 L753.9,1171.6 L759.1,1147.6 L764.2,1108.0 L769.4,1121.0 L774.6,1163.4 L779.8,1169.9 L785.0,1122.6 L790.1,1112.7 L795.3,1110.6 L800.5,1156.8 L805.7,1169.0 L810.9,1100.0 L816.1,1141.0 L821.2,1140.0 L826.4,1154.4 L831.6,1158.4 L836.8,1095.8 L842.0,1165.2 L847.2,1126.9 L852.3,1171.1 L857.5,1122.6 L862.7,1185.7 L867.9,1162.4 L873.1,1164.8 L878.3,1157.2 L883.4,1162.2 L888.6,1176.5 L893.8,1137.2 L899.0,1153.0 L904.2,1132.3 L909.4,1152.3 L914.5,1132.5 L919.7,1163.6 L924.9,1163.6" fill="none" stroke="#8faadc" stroke-width="1.4" stroke-linejoin="round" stroke-linecap="round"/>
<path d="M655.4,1127.6 L660.6,1144.5 L665.8,1176.8 L670.9,1159.8 L676.1,1123.8 L681.3,1152.3 L686.5,1161.0 L691.7,1161.2 L696.9,1139.6 L702.0,1145.2 L707.2,1169.9 L712.4,1141.0 L717.6,1141.7 L722.8,1112.7 L728.0,1160.3 L733.1,1170.2 L738.3,1136.0 L743.5,1142.2 L748.7,1139.8 L753.9,1156.3 L759.1,1141.7 L764.2,1141.5 L769.4,1080.5 L774.6,1133.9 L779.8,1133.4 L785.0,1150.9 L790.1,1134.6 L795.3,1128.3 L800.5,1136.3 L805.7,1152.8 L810.9,1140.7 L816.1,1141.2 L821.2,1141.2 L826.4,1133.0 L831.6,1152.3 L836.8,1110.6 L842.0,1163.8 L847.2,1141.0 L852.3,1135.8 L857.5,1144.3 L862.7,1163.1 L867.9,1147.1 L873.1,1161.7 L878.3,1122.4 L883.4,1133.9 L888.6,1126.9 L893.8,1159.4 L899.0,1128.0 L904.2,1134.2 L909.4,1160.1 L914.5,1136.0 L919.7,1129.4 L924.9,1129.4" fill="none" stroke="#ffa500" stroke-width="1.75" stroke-linejoin="round" stroke-linecap="round"/>
<path d="M655.4,1121.4 L660.6,1153.7 L665.8,1148.3 L670.9,1136.0 L676.1,1140.7 L681.3,1145.5 L686.5,1166.9 L691.7,1160.5 L696.9,1161.7 L702.0,1149.7 L707.2,1183.4 L712.4,1165.7 L717.6,1141.7 L722.8,1134.4 L728.0,1179.8 L733.1,1153.5 L738.3,1169.0 L743.5,1154.6 L748.7,1143.6 L753.9,1140.0 L759.1,1153.2 L764.2,1146.2 L769.4,1132.7 L774.6,1174.2 L779.8,1160.5 L785.0,1093.4 L790.1,1121.0 L795.3,1133.9 L800.5,1150.9 L805.7,1120.0 L810.9,1138.6 L816.1,1123.1 L821.2,1152.3 L826.4,1144.8 L831.6,1133.2 L836.8,1116.5 L842.0,1190.9 L847.2,1153.0 L852.3,1152.3 L857.5,1134.9 L862.7,1175.1 L867.9,1160.8 L873.1,1185.0 L878.3,1165.7 L883.4,1143.8 L888.6,1158.4 L893.8,1133.7" fill="none" stroke="#c00000" stroke-width="2.2" stroke-linejoin="round" stroke-linecap="round"/>
</g>
<path d="M655.5,1059.5V1200.5" fill="none" stroke="#b0b0b0" stroke-width="1"/>
<path d="M655.0,1200.5H924.9" fill="none" stroke="#737373" stroke-width="1"/>
<g font-size="6.05" text-anchor="end" fill="#4d4d4d" font-family="Liberation Sans,Noto Sans CJK SC,sans-serif"><text x="647.1" y="1202.7">0</text><text x="647.1" y="1179.2">100</text><text x="647.1" y="1155.6">200</text><text x="647.1" y="1132.1">300</text><text x="647.1" y="1108.5">400</text><text x="647.1" y="1085.0">500</text><text x="647.1" y="1061.4">600</text></g>
<g font-size="6.05" text-anchor="middle" fill="#4d4d4d" font-family="Liberation Sans,Noto Sans CJK SC,sans-serif"><text x="655.4" y="1209.2">1/1</text><text x="678.4" y="1209.2">2/1</text><text x="699.1" y="1209.2">3/1</text><text x="722.0" y="1209.2">4/1</text><text x="744.2" y="1209.2">5/1</text><text x="767.2" y="1209.2">6/1</text><text x="789.4" y="1209.2">7/1</text><text x="812.4" y="1209.2">8/1</text><text x="835.3" y="1209.2">9/1</text><text x="857.5" y="1209.2">10/1</text><text x="880.5" y="1209.2">11/1</text><text x="902.7" y="1209.2">12/1</text></g>
<clipPath id="c_pimp"><rect x="22.1" y="1254.3" width="270.9" height="144.8"/></clipPath>
<text x="148.4" y="1230.4" text-anchor="middle" font-size="10.3" font-weight="bold" letter-spacing="1.25" fill="#000" font-family="Liberation Sans,Noto Sans CJK SC,sans-serif">美国成品油进口量（万桶/日）</text>
<rect x="22.5" y="1241.4" width="20.0" height="3.2" fill="#d9d9d9"/><text x="45.3" y="1245.2" font-size="6.4" fill="#404040" font-family="Liberation Sans,Noto Sans CJK SC,sans-serif">五年区间</text><path d="M78.2,1243.0h20.3" stroke="#a9d18e" stroke-width="1.4" stroke-linecap="butt"/><text x="101.0" y="1245.2" font-size="6.1" fill="#404040" font-family="Liberation Sans,Noto Sans CJK SC,sans-serif">2022</text><path d="M121.0,1243.0h20.3" stroke="#8faadc" stroke-width="1.4" stroke-linecap="butt"/><text x="143.8" y="1245.2" font-size="6.1" fill="#404040" font-family="Liberation Sans,Noto Sans CJK SC,sans-serif">2023</text><path d="M163.7,1243.0h20.3" stroke="#ffa500" stroke-width="1.75" stroke-linecap="butt"/><text x="186.5" y="1245.2" font-size="6.1" fill="#404040" font-family="Liberation Sans,Noto Sans CJK SC,sans-serif">2024</text><path d="M206.5,1243.0h20.3" stroke="#c00000" stroke-width="2.2" stroke-linecap="butt"/><text x="229.3" y="1245.2" font-size="6.1" fill="#404040" font-family="Liberation Sans,Noto Sans CJK SC,sans-serif">2025</text><path d="M249.3,1243.0h20.3" stroke="#9c9c9c" stroke-width="1.3" stroke-dasharray="3.2,2" stroke-linecap="butt"/><text x="272.1" y="1245.2" font-size="6.1" fill="#404040" font-family="Liberation Sans,Noto Sans CJK SC,sans-serif">Ave</text>
<g clip-path="url(#c_pimp)"><path d="M23.1,1347.7 L28.3,1318.3 L33.4,1321.1 L43.7,1285.5 L48.9,1322.3 L54.0,1314.9 L59.2,1339.2 L64.3,1322.3 L69.5,1291.2 L74.6,1294.0 L79.8,1322.3 L84.9,1311.0 L90.1,1316.6 L100.4,1314.9 L105.5,1316.6 L110.7,1322.3 L115.8,1299.7 L121.0,1294.0 L126.1,1292.9 L131.3,1298.5 L136.4,1294.0 L141.6,1292.9 L146.7,1319.4 L151.9,1305.3 L157.0,1316.6 L162.2,1308.1 L167.4,1299.7 L172.5,1322.3 L177.7,1327.9 L182.8,1325.1 L188.0,1322.3 L193.1,1296.8 L198.3,1279.9 L203.4,1321.7 L208.6,1336.4 L213.7,1313.8 L218.9,1302.5 L224.0,1308.1 L229.2,1322.3 L234.3,1342.0 L239.5,1325.6 L244.6,1339.2 L249.8,1330.7 L254.9,1319.4 L260.1,1333.5 L265.2,1319.4 L270.4,1322.8 L275.5,1325.1 L280.7,1327.9 L285.8,1330.7 L291.0,1335.2 L291.0,1364.6 L285.8,1364.6 L280.7,1368.6 L275.5,1350.5 L270.4,1368.6 L265.2,1372.0 L260.1,1389.5 L254.9,1373.6 L249.8,1364.6 L244.6,1379.9 L239.5,1378.2 L234.3,1364.6 L229.2,1364.6 L224.0,1379.9 L218.9,1364.6 L213.7,1375.9 L208.6,1364.6 L203.4,1344.8 L198.3,1353.3 L193.1,1347.7 L188.0,1378.7 L182.8,1378.7 L177.7,1347.7 L172.5,1342.0 L167.4,1344.8 L162.2,1356.1 L157.0,1353.3 L151.9,1342.0 L146.7,1344.8 L141.6,1373.6 L136.4,1353.3 L131.3,1342.0 L126.1,1364.6 L121.0,1344.8 L115.8,1350.5 L110.7,1342.0 L105.5,1344.8 L100.4,1344.8 L95.2,1350.5 L90.1,1342.0 L84.9,1361.8 L79.8,1364.6 L74.6,1373.6 L69.5,1372.5 L64.3,1350.5 L59.2,1377.6 L54.0,1359.0 L48.9,1367.4 L43.7,1364.6 L38.6,1361.8 L33.4,1363.5 L28.3,1356.1 L23.1,1360.1Z" fill="#d9d9d9"/>
<path d="M23.1,1350.5 L28.3,1339.2 L33.4,1336.4 L38.6,1344.8 L43.7,1313.8 L48.9,1333.5 L54.0,1336.4 L59.2,1347.7 L64.3,1342.0 L69.5,1339.2 L74.6,1325.1 L79.8,1325.1 L84.9,1333.5 L90.1,1327.9 L95.2,1330.7 L100.4,1327.9 L105.5,1330.7 L110.7,1333.5 L115.8,1336.4 L121.0,1322.3 L126.1,1330.7 L131.3,1319.4 L136.4,1319.4 L141.6,1333.5 L146.7,1330.7 L151.9,1325.1 L157.0,1333.5 L162.2,1330.7 L167.4,1325.1 L172.5,1325.1 L177.7,1333.5 L182.8,1342.0 L188.0,1339.2 L193.1,1319.4 L198.3,1327.9 L203.4,1327.9 L208.6,1344.8 L213.7,1342.0 L218.9,1336.4 L224.0,1336.4 L229.2,1339.2 L234.3,1347.7 L239.5,1333.5 L244.6,1344.8 L249.8,1342.0 L254.9,1336.4 L260.1,1344.8 L265.2,1333.5 L270.4,1336.4 L275.5,1326.2 L280.7,1339.2 L285.8,1342.0 L291.0,1347.7" fill="none" stroke="#9c9c9c" stroke-width="1.3" stroke-linejoin="round" stroke-linecap="round" stroke-dasharray="3.2,2"/>
<path d="M23.1,1348.8 L28.3,1350.5 L33.4,1350.5 L38.6,1352.2 L43.7,1356.7 L48.9,1337.5 L54.0,1316.0 L59.2,1342.6 L64.3,1324.5 L69.5,1312.1 L74.6,1335.8 L79.8,1335.2 L84.9,1335.2 L90.1,1339.2 L95.2,1343.7 L100.4,1340.9 L105.5,1318.3 L110.7,1324.5 L115.8,1350.5 L121.0,1342.6 L126.1,1340.9 L131.3,1300.2 L136.4,1306.4 L141.6,1373.1 L146.7,1337.5 L151.9,1322.8 L157.0,1333.5 L162.2,1331.3 L167.4,1333.0 L172.5,1333.5 L177.7,1337.5 L182.8,1348.8 L188.0,1352.2 L193.1,1324.5 L198.3,1342.6 L203.4,1322.8 L208.6,1352.8 L213.7,1339.8 L218.9,1360.1 L224.0,1375.9 L229.2,1348.8 L234.3,1351.1 L239.5,1326.8 L244.6,1346.0 L249.8,1335.2 L254.9,1324.5 L260.1,1367.4 L265.2,1346.0 L270.4,1323.9 L275.5,1326.8 L280.7,1350.5 L285.8,1331.9 L291.0,1355.6" fill="none" stroke="#a9d18e" stroke-width="1.4" stroke-linejoin="round" stroke-linecap="round"/>
<path d="M23.1,1353.3 L28.3,1319.4 L33.4,1326.2 L38.6,1339.8 L43.7,1286.1 L48.9,1324.5 L54.0,1337.5 L59.2,1348.8 L64.3,1335.8 L69.5,1372.0 L74.6,1337.5 L79.8,1326.2 L84.9,1345.4 L90.1,1327.9 L95.2,1324.5 L100.4,1316.0 L105.5,1343.7 L110.7,1339.2 L115.8,1337.5 L121.0,1342.6 L126.1,1337.5 L131.3,1334.1 L136.4,1337.5 L141.6,1334.1 L146.7,1322.3 L151.9,1329.0 L157.0,1348.8 L162.2,1348.8 L167.4,1333.5 L172.5,1339.2 L177.7,1347.1 L182.8,1369.7 L188.0,1335.8 L193.1,1335.2 L198.3,1337.5 L203.4,1341.5 L208.6,1358.4 L213.7,1373.6 L218.9,1342.6 L224.0,1341.5 L229.2,1350.5 L234.3,1358.4 L239.5,1370.8 L244.6,1347.1 L249.8,1362.9 L254.9,1358.4 L260.1,1388.9 L265.2,1348.8 L270.4,1343.1 L275.5,1350.5 L280.7,1348.8 L285.8,1335.8 L291.0,1336.4" fill="none" stroke="#8faadc" stroke-width="1.4" stroke-linejoin="round" stroke-linecap="round"/>
<path d="M23.1,1346.0 L28.3,1343.7 L33.4,1362.4 L38.6,1361.2 L43.7,1362.9 L48.9,1367.4 L54.0,1327.9 L59.2,1377.0 L64.3,1347.1 L69.5,1340.9 L74.6,1373.1 L79.8,1361.2 L84.9,1361.2 L90.1,1321.7 L95.2,1350.5 L100.4,1343.7 L105.5,1326.2 L110.7,1333.0 L115.8,1348.8 L121.0,1339.2 L126.1,1331.3 L131.3,1340.9 L136.4,1352.2 L141.6,1331.9 L146.7,1343.7 L151.9,1340.9 L157.0,1352.2 L162.2,1354.4 L167.4,1343.7 L172.5,1329.0 L177.7,1335.2 L182.8,1378.2 L188.0,1350.5 L193.1,1344.8 L198.3,1352.2 L203.4,1339.2 L208.6,1364.6 L213.7,1375.3 L218.9,1364.0 L224.0,1379.3 L229.2,1362.4 L234.3,1364.6 L239.5,1377.6 L244.6,1379.3 L249.8,1354.4 L254.9,1373.1 L260.1,1356.7 L265.2,1371.4 L270.4,1368.0 L275.5,1342.6 L280.7,1368.0 L285.8,1364.0 L291.0,1364.0" fill="none" stroke="#ffa500" stroke-width="1.75" stroke-linejoin="round" stroke-linecap="round"/>
<path d="M23.1,1355.0 L28.3,1366.3 L33.4,1360.1 L38.6,1361.8 L43.7,1359.0 L48.9,1372.0 L54.0,1360.1 L59.2,1361.8 L64.3,1337.5 L69.5,1341.5 L74.6,1360.1 L79.8,1364.6 L84.9,1354.4 L90.1,1353.3 L95.2,1385.5 L100.4,1331.9 L105.5,1369.7 L110.7,1348.8 L115.8,1352.2 L121.0,1364.0 L126.1,1344.8 L131.3,1348.2 L136.4,1358.4 L141.6,1351.1 L146.7,1355.0 L151.9,1362.9 L157.0,1360.1 L162.2,1373.6 L167.4,1357.8 L172.5,1364.0 L177.7,1368.6 L182.8,1357.8 L188.0,1352.2 L193.1,1343.1 L198.3,1367.4 L203.4,1334.1 L208.6,1339.8 L213.7,1362.4 L218.9,1335.8 L224.0,1354.4 L229.2,1359.0 L234.3,1377.6 L239.5,1362.9 L244.6,1359.0 L249.8,1361.2 L254.9,1375.9 L260.1,1359.0" fill="none" stroke="#c00000" stroke-width="2.2" stroke-linejoin="round" stroke-linecap="round"/>
</g>
<path d="M23.5,1257.3V1398.5" fill="none" stroke="#c8c8c8" stroke-width="1"/>
<path d="M23.0,1398.5H291.0" fill="none" stroke="#6a6a6a" stroke-width="1"/>
<g font-size="6.05" text-anchor="end" fill="#4d4d4d" font-family="Liberation Sans,Noto Sans CJK SC,sans-serif"><text x="14.8" y="1400.4">100</text><text x="14.8" y="1372.2">150</text><text x="14.8" y="1343.9">200</text><text x="14.8" y="1315.7">250</text><text x="14.8" y="1287.4">300</text><text x="14.8" y="1259.2">350</text></g>
<path d="M23.5,1398.5v1.9" stroke="#6a6a6a" stroke-width="1"/>
<path d="M45.5,1398.5v1.9" stroke="#6a6a6a" stroke-width="1"/>
<path d="M66.5,1398.5v1.9" stroke="#6a6a6a" stroke-width="1"/>
<path d="M89.5,1398.5v1.9" stroke="#6a6a6a" stroke-width="1"/>
<path d="M111.5,1398.5v1.9" stroke="#6a6a6a" stroke-width="1"/>
<path d="M134.5,1398.5v1.9" stroke="#6a6a6a" stroke-width="1"/>
<path d="M156.5,1398.5v1.9" stroke="#6a6a6a" stroke-width="1"/>
<path d="M179.5,1398.5v1.9" stroke="#6a6a6a" stroke-width="1"/>
<path d="M201.5,1398.5v1.9" stroke="#6a6a6a" stroke-width="1"/>
<path d="M224.5,1398.5v1.9" stroke="#6a6a6a" stroke-width="1"/>
<path d="M246.5,1398.5v1.9" stroke="#6a6a6a" stroke-width="1"/>
<path d="M268.5,1398.5v1.9" stroke="#6a6a6a" stroke-width="1"/>
<g font-size="6.05" text-anchor="middle" fill="#4d4d4d" font-family="Liberation Sans,Noto Sans CJK SC,sans-serif"><text x="23.1" y="1406.9">1/1</text><text x="45.9" y="1406.9">2/1</text><text x="66.5" y="1406.9">3/1</text><text x="89.3" y="1406.9">4/1</text><text x="111.4" y="1406.9">5/1</text><text x="134.2" y="1406.9">6/1</text><text x="156.3" y="1406.9">7/1</text><text x="179.1" y="1406.9">8/1</text><text x="201.9" y="1406.9">9/1</text><text x="224.0" y="1406.9">10/1</text><text x="246.8" y="1406.9">11/1</text><text x="268.9" y="1406.9">12/1</text></g>
<clipPath id="c_pexp"><rect x="335.8" y="1254.3" width="298.2" height="144.8"/></clipPath>
<text x="484.8" y="1230.4" text-anchor="middle" font-size="10.3" font-weight="bold" letter-spacing="1.25" fill="#000" font-family="Liberation Sans,Noto Sans CJK SC,sans-serif">美国成品油出口量（万桶/日）</text>
<rect x="344.4" y="1241.4" width="21.1" height="3.2" fill="#d9d9d9"/><text x="368.5" y="1245.2" font-size="6.4" fill="#404040" font-family="Liberation Sans,Noto Sans CJK SC,sans-serif">五年区间</text><path d="M403.2,1243.0h21.4" stroke="#a9d18e" stroke-width="1.4" stroke-linecap="butt"/><text x="427.2" y="1245.2" font-size="6.1" fill="#404040" font-family="Liberation Sans,Noto Sans CJK SC,sans-serif">2022</text><path d="M448.3,1243.0h21.4" stroke="#8faadc" stroke-width="1.4" stroke-linecap="butt"/><text x="472.4" y="1245.2" font-size="6.1" fill="#404040" font-family="Liberation Sans,Noto Sans CJK SC,sans-serif">2023</text><path d="M493.4,1243.0h21.4" stroke="#ffa500" stroke-width="1.75" stroke-linecap="butt"/><text x="517.4" y="1245.2" font-size="6.1" fill="#404040" font-family="Liberation Sans,Noto Sans CJK SC,sans-serif">2024</text><path d="M538.5,1243.0h21.4" stroke="#c00000" stroke-width="2.2" stroke-linecap="butt"/><text x="562.6" y="1245.2" font-size="6.1" fill="#404040" font-family="Liberation Sans,Noto Sans CJK SC,sans-serif">2025</text><path d="M583.7,1243.0h21.4" stroke="#9c9c9c" stroke-width="1.3" stroke-dasharray="3.2,2" stroke-linecap="butt"/><text x="607.7" y="1245.2" font-size="6.1" fill="#404040" font-family="Liberation Sans,Noto Sans CJK SC,sans-serif">Ave</text>
<g clip-path="url(#c_pexp)"><path d="M336.8,1295.4 L342.5,1301.1 L353.8,1302.5 L370.9,1287.5 L376.5,1313.8 L382.2,1302.5 L393.6,1284.1 L399.2,1292.6 L404.9,1313.8 L410.6,1288.9 L416.3,1289.8 L422.0,1287.5 L433.3,1289.8 L439.0,1298.2 L444.7,1296.8 L456.0,1309.5 L461.7,1270.0 L467.4,1298.2 L478.7,1281.0 L484.4,1285.5 L490.1,1298.2 L501.4,1298.2 L507.1,1296.3 L512.8,1289.8 L518.5,1275.7 L524.1,1296.8 L529.8,1274.8 L535.5,1276.5 L541.2,1294.0 L552.5,1278.8 L558.2,1283.8 L563.9,1285.5 L569.6,1301.1 L575.2,1299.7 L580.9,1266.9 L586.6,1285.0 L597.9,1292.6 L603.6,1269.2 L609.3,1287.0 L615.0,1282.2 L620.6,1283.8 L626.3,1272.0 L632.0,1272.0 L632.0,1375.9 L626.3,1330.7 L620.6,1325.1 L615.0,1359.0 L609.3,1349.1 L603.6,1347.7 L597.9,1353.3 L592.3,1342.0 L586.6,1346.3 L580.9,1335.0 L575.2,1354.7 L569.6,1361.8 L563.9,1333.5 L558.2,1342.0 L552.5,1353.3 L546.8,1361.8 L541.2,1359.0 L535.5,1363.2 L529.8,1344.8 L524.1,1354.7 L518.5,1344.8 L512.8,1350.5 L507.1,1336.4 L501.4,1367.4 L495.8,1344.8 L490.1,1346.3 L484.4,1339.2 L478.7,1349.1 L473.0,1351.9 L467.4,1359.0 L461.7,1353.3 L456.0,1359.0 L450.3,1360.4 L444.7,1378.7 L439.0,1371.7 L433.3,1359.0 L427.6,1346.3 L422.0,1339.2 L416.3,1340.6 L410.6,1350.5 L404.9,1362.4 L399.2,1336.4 L393.6,1361.2 L387.9,1363.2 L382.2,1370.3 L376.5,1357.6 L370.9,1361.5 L365.2,1360.1 L359.5,1360.1 L353.8,1372.0 L348.2,1375.9 L342.5,1351.3 L336.8,1351.3Z" fill="#d9d9d9"/>
<path d="M336.8,1327.3 L342.5,1328.5 L348.2,1332.1 L353.8,1333.5 L359.5,1325.1 L365.2,1330.7 L370.9,1326.5 L376.5,1333.5 L382.2,1330.7 L387.9,1325.1 L393.6,1312.4 L399.2,1319.4 L404.9,1329.3 L410.6,1318.0 L416.3,1302.5 L422.0,1313.8 L427.6,1320.8 L433.3,1322.3 L439.0,1322.3 L444.7,1327.9 L450.3,1316.6 L456.0,1326.5 L461.7,1313.8 L467.4,1320.8 L473.0,1319.4 L478.7,1319.4 L484.4,1308.1 L490.1,1319.4 L495.8,1320.8 L501.4,1316.6 L507.1,1311.0 L512.8,1313.8 L518.5,1318.0 L524.1,1320.8 L529.8,1313.8 L535.5,1315.2 L541.2,1326.5 L546.8,1319.4 L552.5,1315.2 L558.2,1313.8 L563.9,1315.2 L569.6,1325.1 L575.2,1319.4 L580.9,1313.8 L586.6,1312.4 L592.3,1319.4 L597.9,1322.3 L603.6,1308.1 L609.3,1315.2 L615.0,1313.8 L620.6,1302.5 L626.3,1306.7 L632.0,1311.0" fill="none" stroke="#9c9c9c" stroke-width="1.3" stroke-linejoin="round" stroke-linecap="round" stroke-dasharray="3.2,2"/>
<path d="M336.8,1351.3 L342.5,1351.3 L348.2,1375.9 L353.8,1372.0 L359.5,1360.1 L365.2,1360.1 L370.9,1361.5 L376.5,1348.8 L382.2,1337.5 L387.9,1321.4 L393.6,1302.2 L399.2,1322.3 L404.9,1324.8 L410.6,1318.3 L416.3,1290.9 L422.0,1305.3 L427.6,1311.8 L433.3,1316.0 L439.0,1316.0 L444.7,1311.8 L450.3,1310.1 L456.0,1312.9 L461.7,1310.1 L467.4,1316.6 L473.0,1310.1 L478.7,1309.5 L484.4,1286.1 L490.1,1303.9 L495.8,1318.3 L501.4,1324.8 L507.1,1303.9 L512.8,1300.5 L518.5,1301.4 L524.1,1321.4 L529.8,1287.8 L535.5,1309.5 L541.2,1303.9 L546.8,1305.3 L552.5,1295.7 L558.2,1308.7 L563.9,1286.1 L569.6,1332.1 L575.2,1303.9 L580.9,1326.2 L586.6,1307.6 L592.3,1317.2 L597.9,1309.5 L603.6,1289.5 L609.3,1305.3 L615.0,1296.8 L620.6,1310.1 L626.3,1290.9 L632.0,1302.5" fill="none" stroke="#a9d18e" stroke-width="1.4" stroke-linejoin="round" stroke-linecap="round"/>
<path d="M336.8,1296.8 L342.5,1305.3 L348.2,1319.1 L353.8,1320.0 L359.5,1307.0 L365.2,1311.8 L370.9,1314.1 L376.5,1324.8 L382.2,1313.5 L387.9,1308.7 L393.6,1285.3 L399.2,1311.8 L404.9,1315.2 L410.6,1315.2 L416.3,1292.6 L422.0,1323.1 L427.6,1316.6 L433.3,1303.9 L439.0,1299.1 L444.7,1327.9 L450.3,1306.2 L456.0,1310.1 L461.7,1303.9 L467.4,1312.9 L473.0,1300.5 L478.7,1316.6 L484.4,1288.4 L490.1,1299.1 L495.8,1303.9 L501.4,1299.1 L507.1,1300.5 L512.8,1317.2 L518.5,1305.3 L524.1,1316.6 L529.8,1299.9 L535.5,1313.5 L541.2,1324.8 L546.8,1305.3 L552.5,1298.0 L558.2,1284.7 L563.9,1332.1 L569.6,1311.8 L575.2,1300.5 L580.9,1307.0 L586.6,1311.8 L592.3,1308.7 L597.9,1293.4 L603.6,1296.8 L609.3,1298.0 L615.0,1307.0 L620.6,1284.7 L626.3,1299.9 L632.0,1299.9" fill="none" stroke="#8faadc" stroke-width="1.4" stroke-linejoin="round" stroke-linecap="round"/>
<path d="M336.8,1307.0 L342.5,1302.2 L348.2,1304.5 L353.8,1316.6 L359.5,1305.3 L365.2,1306.2 L370.9,1288.4 L376.5,1316.0 L382.2,1303.9 L387.9,1310.1 L393.6,1289.5 L399.2,1293.4 L404.9,1315.2 L410.6,1290.1 L416.3,1300.5 L422.0,1288.4 L427.6,1302.2 L433.3,1290.9 L439.0,1309.5 L444.7,1298.0 L450.3,1299.1 L456.0,1311.8 L461.7,1271.1 L467.4,1299.1 L473.0,1305.3 L478.7,1281.9 L484.4,1290.9 L490.1,1302.2 L495.8,1310.1 L501.4,1302.2 L507.1,1297.4 L512.8,1290.9 L518.5,1276.5 L524.1,1298.0 L529.8,1275.7 L535.5,1277.6 L541.2,1294.9 L546.8,1290.9 L552.5,1279.9 L558.2,1292.6 L563.9,1301.4 L569.6,1302.2 L575.2,1305.3 L580.9,1267.7 L586.6,1286.1 L592.3,1296.8 L597.9,1294.9 L603.6,1270.0 L609.3,1287.8 L615.0,1283.0 L620.6,1294.3 L626.3,1272.8 L632.0,1272.8" fill="none" stroke="#ffa500" stroke-width="1.75" stroke-linejoin="round" stroke-linecap="round"/>
<path d="M336.8,1289.5 L342.5,1302.2 L348.2,1294.9 L353.8,1303.0 L359.5,1304.7 L365.2,1301.4 L370.9,1285.3 L376.5,1331.9 L382.2,1285.3 L387.9,1307.0 L393.6,1286.1 L399.2,1310.1 L404.9,1301.4 L410.6,1282.4 L416.3,1288.4 L422.0,1301.4 L427.6,1299.1 L433.3,1294.9 L439.0,1268.6 L444.7,1299.9 L450.3,1289.5 L456.0,1307.6 L461.7,1281.9 L467.4,1290.9 L473.0,1283.0 L478.7,1295.7 L484.4,1283.0 L490.1,1299.1 L495.8,1294.3 L501.4,1293.4 L507.1,1275.7 L512.8,1298.0 L518.5,1289.5 L524.1,1283.0 L529.8,1292.6 L535.5,1279.9 L541.2,1307.0 L546.8,1279.9 L552.5,1278.2 L558.2,1290.3 L563.9,1285.3 L569.6,1274.8 L575.2,1294.9 L580.9,1284.7 L586.6,1279.9 L592.3,1285.3 L597.9,1264.4" fill="none" stroke="#c00000" stroke-width="2.2" stroke-linejoin="round" stroke-linecap="round"/>
</g>
<path d="M336.5,1257.3V1398.5" fill="none" stroke="#c8c8c8" stroke-width="1"/>
<path d="M336.0,1398.5H632.0" fill="none" stroke="#6a6a6a" stroke-width="1"/>
<g font-size="6.05" text-anchor="end" fill="#4d4d4d" font-family="Liberation Sans,Noto Sans CJK SC,sans-serif"><text x="328.5" y="1400.4">300</text><text x="328.5" y="1386.3">350</text><text x="328.5" y="1372.2">400</text><text x="328.5" y="1358.0">450</text><text x="328.5" y="1343.9">500</text><text x="328.5" y="1329.8">550</text><text x="328.5" y="1315.7">600</text><text x="328.5" y="1301.6">650</text><text x="328.5" y="1287.4">700</text><text x="328.5" y="1273.3">750</text><text x="328.5" y="1259.2">800</text></g>
<g font-size="6.05" text-anchor="middle" fill="#4d4d4d" font-family="Liberation Sans,Noto Sans CJK SC,sans-serif"><text x="336.8" y="1406.9">1/1</text><text x="361.9" y="1406.9">2/1</text><text x="384.6" y="1406.9">3/1</text><text x="409.8" y="1406.9">4/1</text><text x="434.1" y="1406.9">5/1</text><text x="459.3" y="1406.9">6/1</text><text x="483.6" y="1406.9">7/1</text><text x="508.7" y="1406.9">8/1</text><text x="533.9" y="1406.9">9/1</text><text x="558.2" y="1406.9">10/1</text><text x="583.3" y="1406.9">11/1</text><text x="607.7" y="1406.9">12/1</text></g>
<clipPath id="c_pnet"><rect x="654.4" y="1254.3" width="272.5" height="144.8"/></clipPath>
<text x="795.3" y="1230.4" text-anchor="middle" font-size="10.3" font-weight="bold" letter-spacing="1.25" fill="#000" font-family="Liberation Sans,Noto Sans CJK SC,sans-serif">美国成品油净出口量（万桶/日）</text>
<rect x="655.4" y="1241.4" width="20.0" height="3.2" fill="#d9d9d9"/><text x="678.2" y="1245.2" font-size="6.4" fill="#404040" font-family="Liberation Sans,Noto Sans CJK SC,sans-serif">五年区间</text><path d="M711.1,1243.0h20.3" stroke="#a9d18e" stroke-width="1.4" stroke-linecap="butt"/><text x="733.9" y="1245.2" font-size="6.1" fill="#404040" font-family="Liberation Sans,Noto Sans CJK SC,sans-serif">2022</text><path d="M753.9,1243.0h20.3" stroke="#8faadc" stroke-width="1.4" stroke-linecap="butt"/><text x="776.7" y="1245.2" font-size="6.1" fill="#404040" font-family="Liberation Sans,Noto Sans CJK SC,sans-serif">2023</text><path d="M796.6,1243.0h20.3" stroke="#ffa500" stroke-width="1.75" stroke-linecap="butt"/><text x="819.4" y="1245.2" font-size="6.1" fill="#404040" font-family="Liberation Sans,Noto Sans CJK SC,sans-serif">2024</text><path d="M839.4,1243.0h20.3" stroke="#c00000" stroke-width="2.2" stroke-linecap="butt"/><text x="862.2" y="1245.2" font-size="6.1" fill="#404040" font-family="Liberation Sans,Noto Sans CJK SC,sans-serif">2025</text><path d="M882.2,1243.0h20.3" stroke="#9c9c9c" stroke-width="1.3" stroke-dasharray="3.2,2" stroke-linecap="butt"/><text x="905.0" y="1245.2" font-size="6.1" fill="#404040" font-family="Liberation Sans,Noto Sans CJK SC,sans-serif">Ave</text>
<g clip-path="url(#c_pnet)"><path d="M655.4,1295.7 L660.6,1304.5 L665.8,1303.2 L670.9,1310.8 L676.1,1302.7 L681.3,1301.7 L686.5,1300.0 L691.7,1303.6 L696.9,1305.3 L702.0,1298.9 L707.2,1284.8 L712.4,1295.5 L717.6,1309.4 L722.8,1304.8 L728.0,1300.1 L733.1,1298.3 L738.3,1310.7 L743.5,1303.5 L748.7,1302.0 L753.9,1306.0 L759.1,1305.5 L764.2,1314.1 L769.4,1282.4 L774.6,1306.6 L779.8,1310.7 L785.0,1292.6 L790.1,1296.6 L795.3,1300.7 L800.5,1313.2 L805.7,1305.0 L810.9,1301.9 L816.1,1283.6 L821.2,1285.8 L826.4,1302.6 L831.6,1281.2 L836.8,1289.5 L842.0,1290.3 L847.2,1286.1 L852.3,1281.8 L857.5,1288.9 L862.7,1294.7 L867.9,1301.0 L873.1,1296.0 L878.3,1270.5 L883.4,1288.1 L888.6,1294.1 L893.8,1284.6 L899.0,1272.8 L904.2,1289.0 L909.4,1291.6 L914.5,1292.6 L919.7,1277.2 L924.9,1275.6 L924.9,1363.2 L919.7,1328.3 L914.5,1323.2 L909.4,1357.4 L904.2,1342.1 L899.0,1345.3 L893.8,1351.2 L888.6,1344.0 L883.4,1346.4 L878.3,1326.6 L873.1,1348.2 L867.9,1345.5 L862.7,1342.3 L857.5,1351.8 L852.3,1361.7 L847.2,1357.9 L842.0,1355.6 L836.8,1363.9 L831.6,1357.9 L826.4,1360.4 L821.2,1342.5 L816.1,1347.6 L810.9,1337.9 L805.7,1357.9 L800.5,1357.3 L795.3,1341.1 L790.1,1344.1 L785.0,1350.3 L779.8,1345.5 L774.6,1365.9 L769.4,1360.7 L764.2,1360.7 L759.1,1365.9 L753.9,1368.2 L748.7,1367.9 L743.5,1354.5 L738.3,1353.5 L733.1,1341.2 L728.0,1349.6 L722.8,1347.1 L717.6,1368.2 L712.4,1335.0 L707.2,1364.6 L702.0,1368.2 L696.9,1364.5 L691.7,1354.2 L686.5,1354.2 L681.3,1352.8 L676.1,1365.6 L670.9,1368.2 L665.8,1368.2 L660.6,1347.4 L655.4,1342.4Z" fill="#d9d9d9"/>
<path d="M655.4,1324.5 L660.6,1329.3 L665.8,1332.9 L670.9,1330.9 L676.1,1336.0 L681.3,1332.9 L686.5,1328.9 L691.7,1329.9 L696.9,1329.9 L702.0,1326.9 L707.2,1322.9 L712.4,1327.9 L717.6,1331.9 L722.8,1325.9 L728.0,1313.8 L733.1,1322.9 L738.3,1326.9 L743.5,1326.9 L748.7,1325.9 L753.9,1335.0 L759.1,1323.9 L764.2,1335.0 L769.4,1325.9 L774.6,1325.9 L779.8,1325.9 L785.0,1327.9 L790.1,1316.8 L795.3,1325.9 L800.5,1328.9 L805.7,1325.9 L810.9,1318.8 L816.1,1317.8 L821.2,1321.8 L826.4,1330.9 L831.6,1322.9 L836.8,1323.9 L842.0,1325.9 L847.2,1321.8 L852.3,1320.8 L857.5,1319.8 L862.7,1319.8 L867.9,1323.9 L873.1,1324.9 L878.3,1316.8 L883.4,1316.8 L888.6,1323.9 L893.8,1322.9 L899.0,1316.8 L904.2,1320.8 L909.4,1323.5 L914.5,1310.8 L919.7,1312.8 L924.9,1313.8" fill="none" stroke="#9c9c9c" stroke-width="1.3" stroke-linejoin="round" stroke-linecap="round" stroke-dasharray="3.2,2"/>
<path d="M655.4,1342.2 L660.6,1341.6 L665.8,1359.2 L670.9,1355.7 L676.1,1345.7 L681.3,1352.5 L686.5,1361.2 L691.7,1342.6 L696.9,1341.0 L702.0,1334.0 L707.2,1311.8 L712.4,1326.3 L717.6,1328.1 L722.8,1322.1 L728.0,1300.9 L733.1,1312.2 L738.3,1324.9 L743.5,1325.7 L748.7,1316.4 L753.9,1316.2 L759.1,1315.6 L764.2,1332.1 L769.4,1327.9 L774.6,1308.7 L779.8,1316.8 L785.0,1321.6 L790.1,1301.1 L795.3,1314.6 L800.5,1324.3 L805.7,1328.7 L810.9,1312.4 L816.1,1305.9 L821.2,1305.3 L826.4,1329.5 L831.6,1299.1 L836.8,1321.6 L842.0,1306.9 L847.2,1312.6 L852.3,1298.4 L857.5,1302.1 L862.7,1295.6 L867.9,1327.7 L873.1,1316.2 L878.3,1325.3 L883.4,1315.8 L888.6,1326.5 L893.8,1305.7 L899.0,1299.1 L904.2,1318.2 L909.4,1311.2 L914.5,1312.2 L919.7,1305.1 L924.9,1304.9" fill="none" stroke="#a9d18e" stroke-width="1.4" stroke-linejoin="round" stroke-linecap="round"/>
<path d="M655.4,1301.7 L660.6,1319.8 L665.8,1327.3 L670.9,1323.1 L676.1,1332.9 L681.3,1322.7 L686.5,1319.6 L691.7,1323.3 L696.9,1319.8 L702.0,1303.5 L707.2,1299.1 L712.4,1322.1 L717.6,1317.6 L722.8,1323.9 L728.0,1308.9 L733.1,1333.7 L738.3,1319.2 L743.5,1311.8 L748.7,1308.9 L753.9,1327.7 L759.1,1314.0 L764.2,1318.0 L769.4,1312.4 L774.6,1320.0 L779.8,1315.4 L785.0,1324.5 L790.1,1297.2 L795.3,1304.9 L800.5,1313.8 L805.7,1308.3 L810.9,1306.5 L816.1,1310.4 L821.2,1314.0 L826.4,1322.3 L831.6,1309.5 L836.8,1317.8 L842.0,1319.8 L847.2,1300.5 L852.3,1306.3 L857.5,1297.2 L862.7,1327.9 L867.9,1310.6 L873.1,1298.0 L878.3,1311.2 L883.4,1308.9 L888.6,1308.3 L893.8,1286.5 L899.0,1303.3 L904.2,1306.1 L909.4,1309.9 L914.5,1294.6 L919.7,1310.1 L924.9,1309.9" fill="none" stroke="#8faadc" stroke-width="1.4" stroke-linejoin="round" stroke-linecap="round"/>
<path d="M655.4,1311.6 L660.6,1308.9 L665.8,1303.9 L670.9,1313.0 L676.1,1304.3 L681.3,1303.3 L686.5,1304.7 L691.7,1306.9 L696.9,1308.9 L702.0,1315.6 L707.2,1289.4 L712.4,1296.4 L717.6,1312.0 L722.8,1308.1 L728.0,1305.3 L733.1,1299.1 L738.3,1315.2 L743.5,1304.7 L748.7,1312.4 L753.9,1307.5 L759.1,1311.2 L764.2,1316.8 L769.4,1283.7 L774.6,1311.0 L779.8,1311.2 L785.0,1295.4 L790.1,1297.8 L795.3,1305.1 L800.5,1314.6 L805.7,1314.2 L810.9,1308.5 L816.1,1288.6 L821.2,1288.2 L826.4,1305.5 L831.6,1287.0 L836.8,1293.0 L842.0,1296.2 L847.2,1289.6 L852.3,1285.7 L857.5,1289.4 L862.7,1301.7 L867.9,1301.5 L873.1,1299.1 L878.3,1271.6 L883.4,1293.6 L888.6,1294.6 L893.8,1299.1 L899.0,1276.1 L904.2,1290.0 L909.4,1295.6 L914.5,1294.6 L919.7,1280.7 L924.9,1280.7" fill="none" stroke="#ffa500" stroke-width="1.75" stroke-linejoin="round" stroke-linecap="round"/>
<path d="M655.4,1295.8 L660.6,1300.9 L665.8,1297.8 L670.9,1303.1 L676.1,1305.3 L681.3,1298.2 L686.5,1291.0 L691.7,1323.7 L696.9,1299.1 L702.0,1313.2 L707.2,1291.6 L712.4,1307.1 L717.6,1304.5 L722.8,1291.4 L728.0,1284.1 L733.1,1312.6 L738.3,1297.4 L743.5,1301.9 L748.7,1281.9 L753.9,1300.1 L759.1,1299.5 L764.2,1311.2 L769.4,1289.2 L774.6,1298.2 L779.8,1291.2 L785.0,1297.4 L790.1,1289.4 L795.3,1296.0 L800.5,1298.2 L805.7,1295.4 L810.9,1281.1 L816.1,1300.9 L821.2,1296.8 L826.4,1295.4 L831.6,1293.6 L836.8,1296.4 L842.0,1313.8 L847.2,1286.3 L852.3,1294.6 L857.5,1296.6 L862.7,1291.4 L867.9,1277.3 L873.1,1296.8 L878.3,1291.0 L883.4,1286.8 L888.6,1285.3 L893.8,1276.5" fill="none" stroke="#c00000" stroke-width="2.2" stroke-linejoin="round" stroke-linecap="round"/>
</g>
<path d="M655.5,1257.3V1398.5" fill="none" stroke="#b0b0b0" stroke-width="1"/>
<path d="M655.0,1398.5H924.9" fill="none" stroke="#737373" stroke-width="1"/>
<g font-size="6.05" text-anchor="end" fill="#4d4d4d" font-family="Liberation Sans,Noto Sans CJK SC,sans-serif"><text x="647.1" y="1400.4">0</text><text x="647.1" y="1380.2">100</text><text x="647.1" y="1360.1">200</text><text x="647.1" y="1339.9">300</text><text x="647.1" y="1319.7">400</text><text x="647.1" y="1299.5">500</text><text x="647.1" y="1279.4">600</text><text x="647.1" y="1259.2">700</text></g>
<g font-size="6.05" text-anchor="middle" fill="#4d4d4d" font-family="Liberation Sans,Noto Sans CJK SC,sans-serif"><text x="655.4" y="1406.9">1/1</text><text x="678.4" y="1406.9">2/1</text><text x="699.1" y="1406.9">3/1</text><text x="722.0" y="1406.9">4/1</text><text x="744.2" y="1406.9">5/1</text><text x="767.2" y="1406.9">6/1</text><text x="789.4" y="1406.9">7/1</text><text x="812.4" y="1406.9">8/1</text><text x="835.3" y="1406.9">9/1</text><text x="857.5" y="1406.9">10/1</text><text x="880.5" y="1406.9">11/1</text><text x="902.7" y="1406.9">12/1</text></g>
<clipPath id="c_dgas"><rect x="28.5" y="1466.3" width="264.5" height="144.8"/></clipPath>
<text x="162.2" y="1442.4" text-anchor="middle" font-size="10.3" font-weight="bold" letter-spacing="1.25" fill="#000" font-family="Liberation Sans,Noto Sans CJK SC,sans-serif">美国隐含需求-汽油（万桶/日）</text>
<rect x="22.5" y="1453.4" width="20.0" height="3.2" fill="#d9d9d9"/><text x="45.3" y="1457.2" font-size="6.4" fill="#404040" font-family="Liberation Sans,Noto Sans CJK SC,sans-serif">五年区间</text><path d="M78.2,1455.0h20.3" stroke="#a9d18e" stroke-width="1.4" stroke-linecap="butt"/><text x="101.0" y="1457.2" font-size="6.1" fill="#404040" font-family="Liberation Sans,Noto Sans CJK SC,sans-serif">2022</text><path d="M121.0,1455.0h20.3" stroke="#8faadc" stroke-width="1.4" stroke-linecap="butt"/><text x="143.8" y="1457.2" font-size="6.1" fill="#404040" font-family="Liberation Sans,Noto Sans CJK SC,sans-serif">2023</text><path d="M163.7,1455.0h20.3" stroke="#ffa500" stroke-width="1.75" stroke-linecap="butt"/><text x="186.5" y="1457.2" font-size="6.1" fill="#404040" font-family="Liberation Sans,Noto Sans CJK SC,sans-serif">2024</text><path d="M206.5,1455.0h20.3" stroke="#c00000" stroke-width="2.2" stroke-linecap="butt"/><text x="229.3" y="1457.2" font-size="6.1" fill="#404040" font-family="Liberation Sans,Noto Sans CJK SC,sans-serif">2025</text><path d="M249.3,1455.0h20.3" stroke="#9c9c9c" stroke-width="1.3" stroke-dasharray="3.2,2" stroke-linecap="butt"/><text x="272.1" y="1457.2" font-size="6.1" fill="#404040" font-family="Liberation Sans,Noto Sans CJK SC,sans-serif">Ave</text>
<g clip-path="url(#c_dgas)"><path d="M29.5,1519.7 L34.5,1519.7 L44.6,1515.7 L54.6,1505.2 L64.7,1506.8 L74.8,1501.6 L79.8,1495.5 L89.8,1502.6 L99.9,1509.6 L104.9,1498.5 L115.0,1503.6 L125.0,1500.4 L135.1,1501.6 L145.2,1497.5 L155.2,1491.5 L160.2,1488.5 L165.3,1497.5 L170.3,1499.6 L180.4,1494.5 L190.4,1501.6 L200.5,1502.6 L205.5,1513.7 L215.6,1504.6 L225.6,1495.5 L235.7,1504.6 L245.7,1498.5 L250.8,1500.6 L260.8,1503.6 L270.9,1509.6 L275.9,1500.6 L280.9,1504.6 L286.0,1494.5 L291.0,1523.8 L291.0,1539.9 L286.0,1531.8 L280.9,1533.8 L275.9,1529.8 L270.9,1537.9 L265.9,1529.8 L260.8,1527.8 L250.8,1519.7 L240.7,1519.7 L230.7,1524.8 L225.6,1519.7 L220.6,1529.8 L215.6,1525.8 L205.5,1523.8 L200.5,1519.7 L190.4,1517.7 L180.4,1519.7 L170.3,1517.7 L165.3,1528.0 L160.2,1515.7 L155.2,1517.7 L150.2,1519.7 L145.2,1529.8 L140.1,1531.8 L135.1,1539.9 L130.1,1546.0 L125.0,1553.0 L120.0,1541.9 L115.0,1560.1 L110.0,1572.2 L104.9,1583.3 L99.9,1588.3 L94.9,1588.7 L89.8,1560.1 L84.8,1527.8 L79.8,1519.7 L74.8,1523.8 L69.7,1527.8 L64.7,1544.9 L58.2,1529.8 L51.8,1533.8 L44.6,1531.8 L34.5,1537.9 L29.5,1540.9Z" fill="#d9d9d9"/>
<path d="M29.5,1531.8 L34.5,1527.8 L44.6,1521.7 L54.6,1519.7 L64.7,1519.7 L74.8,1513.7 L79.8,1511.7 L84.8,1515.7 L89.8,1519.7 L94.9,1529.8 L99.9,1529.8 L104.9,1525.8 L110.0,1526.8 L115.0,1520.7 L120.0,1517.7 L125.0,1516.7 L135.1,1513.7 L145.2,1510.7 L155.2,1508.6 L160.2,1506.6 L165.3,1513.7 L175.3,1508.6 L185.4,1509.6 L195.5,1509.6 L205.5,1517.7 L215.6,1515.7 L225.6,1511.7 L230.7,1517.7 L240.7,1512.7 L250.8,1511.7 L260.8,1517.7 L270.9,1519.7 L275.9,1515.7 L280.9,1516.7 L286.0,1513.7 L291.0,1527.8" fill="none" stroke="#9c9c9c" stroke-width="1.3" stroke-linejoin="round" stroke-linecap="round" stroke-dasharray="3.2,2"/>
<path d="M29.5,1532.8 L34.5,1529.0 L39.6,1525.0 L44.6,1522.6 L49.6,1523.4 L54.6,1505.6 L59.7,1518.5 L64.7,1520.1 L69.7,1511.1 L74.8,1510.4 L79.8,1513.7 L84.8,1515.3 L89.8,1517.5 L94.9,1518.5 L99.9,1513.7 L104.9,1511.1 L110.0,1513.7 L115.0,1512.1 L120.0,1515.3 L125.0,1507.2 L130.1,1511.1 L135.1,1513.7 L140.1,1504.0 L145.2,1512.1 L150.2,1519.5 L155.2,1513.7 L160.2,1505.6 L165.3,1528.0 L170.3,1516.9 L175.3,1507.2 L180.4,1518.5 L185.4,1511.1 L190.4,1502.4 L195.5,1520.1 L200.5,1516.9 L205.5,1520.1 L210.5,1517.5 L215.6,1521.7 L220.6,1515.3 L225.6,1507.2 L230.7,1524.0 L235.7,1519.5 L240.7,1508.8 L245.7,1515.3 L250.8,1511.1 L255.8,1518.5 L260.8,1523.4 L265.9,1523.4 L270.9,1521.7 L275.9,1522.6 L280.9,1512.1 L286.0,1502.4 L291.0,1539.9" fill="none" stroke="#a9d18e" stroke-width="1.4" stroke-linejoin="round" stroke-linecap="round"/>
<path d="M29.5,1538.7 L34.5,1529.0 L39.6,1525.0 L44.6,1520.1 L49.6,1522.6 L54.6,1523.4 L59.7,1512.1 L64.7,1507.2 L69.7,1518.5 L74.8,1518.5 L79.8,1511.1 L84.8,1507.2 L89.8,1504.0 L94.9,1511.1 L99.9,1513.7 L104.9,1499.2 L110.0,1513.7 L115.0,1504.0 L120.0,1510.4 L125.0,1500.8 L130.1,1504.0 L135.1,1502.4 L140.1,1504.0 L145.2,1505.6 L150.2,1504.0 L155.2,1497.5 L160.2,1513.1 L165.3,1511.1 L170.3,1507.2 L175.3,1508.8 L180.4,1504.0 L185.4,1511.1 L190.4,1508.8 L195.5,1507.2 L200.5,1503.4 L205.5,1523.4 L210.5,1520.1 L215.6,1516.9 L220.6,1529.6 L225.6,1510.4 L230.7,1520.7 L235.7,1505.6 L240.7,1513.7 L245.7,1499.2 L250.8,1511.1 L255.8,1516.9 L260.8,1525.0 L265.9,1518.5 L270.9,1513.7 L275.9,1515.3 L280.9,1505.6 L286.0,1530.4 L291.0,1530.4" fill="none" stroke="#8faadc" stroke-width="1.4" stroke-linejoin="round" stroke-linecap="round"/>
<path d="M29.5,1523.4 L34.5,1525.0 L39.6,1531.2 L44.6,1525.8 L49.6,1513.7 L54.6,1526.4 L59.7,1525.0 L64.7,1518.5 L69.7,1511.1 L74.8,1506.6 L79.8,1513.1 L84.8,1508.8 L89.8,1504.0 L94.9,1516.9 L99.9,1515.3 L104.9,1520.7 L110.0,1515.3 L115.0,1511.1 L120.0,1512.1 L125.0,1504.0 L130.1,1506.6 L135.1,1509.8 L140.1,1507.2 L145.2,1503.4 L150.2,1504.6 L155.2,1500.8 L160.2,1501.4 L165.3,1510.4 L170.3,1500.8 L175.3,1505.6 L180.4,1511.1 L185.4,1508.8 L190.4,1504.6 L195.5,1503.4 L200.5,1508.8 L205.5,1516.9 L210.5,1516.3 L215.6,1505.6 L220.6,1515.3 L225.6,1495.9 L230.7,1516.9 L235.7,1511.1 L240.7,1505.6 L245.7,1515.3 L250.8,1501.4 L255.8,1518.5 L260.8,1520.1 L265.9,1514.3 L270.9,1513.1 L275.9,1511.1 L280.9,1508.8 L286.0,1526.4 L291.0,1526.4" fill="none" stroke="#ffa500" stroke-width="1.75" stroke-linejoin="round" stroke-linecap="round"/>
<path d="M29.5,1520.1 L34.5,1522.6 L39.6,1527.2 L44.6,1523.4 L49.6,1522.4 L54.6,1518.5 L59.7,1525.0 L64.7,1521.7 L69.7,1515.3 L74.8,1505.6 L79.8,1512.1 L84.8,1515.3 L89.8,1520.1 L94.9,1520.7 L99.9,1520.1 L104.9,1500.8 L110.0,1507.2 L115.0,1514.3 L120.0,1513.7 L125.0,1516.3 L130.1,1500.2 L135.1,1523.4 L140.1,1505.6 L145.2,1502.4 L150.2,1495.3 L155.2,1515.9 L160.2,1505.6 L165.3,1518.5 L170.3,1507.2 L175.3,1506.6 L180.4,1509.4 L185.4,1508.8 L190.4,1512.1 L195.5,1504.0 L200.5,1506.6 L205.5,1515.3 L210.5,1518.5 L215.6,1512.1 L220.6,1517.5 L225.6,1511.1 L230.7,1520.1 L235.7,1520.1 L240.7,1511.1 L245.7,1512.1 L250.8,1508.8 L255.8,1519.3 L260.8,1515.3" fill="none" stroke="#c00000" stroke-width="2.2" stroke-linejoin="round" stroke-linecap="round"/>
</g>
<path d="M29.5,1469.3V1610.5" fill="none" stroke="#c8c8c8" stroke-width="1"/>
<path d="M29.0,1610.5H291.0" fill="none" stroke="#6a6a6a" stroke-width="1"/>
<g font-size="6.05" text-anchor="end" fill="#4d4d4d" font-family="Liberation Sans,Noto Sans CJK SC,sans-serif"><text x="21.2" y="1612.4">400</text><text x="21.2" y="1592.2">500</text><text x="21.2" y="1572.1">600</text><text x="21.2" y="1551.9">700</text><text x="21.2" y="1531.7">800</text><text x="21.2" y="1511.5">900</text><text x="21.2" y="1491.4">1,000</text><text x="21.2" y="1471.2">1,100</text></g>
<path d="M29.5,1610.5v1.9" stroke="#6a6a6a" stroke-width="1"/>
<path d="M51.5,1610.5v1.9" stroke="#6a6a6a" stroke-width="1"/>
<path d="M71.5,1610.5v1.9" stroke="#6a6a6a" stroke-width="1"/>
<path d="M94.5,1610.5v1.9" stroke="#6a6a6a" stroke-width="1"/>
<path d="M115.5,1610.5v1.9" stroke="#6a6a6a" stroke-width="1"/>
<path d="M137.5,1610.5v1.9" stroke="#6a6a6a" stroke-width="1"/>
<path d="M159.5,1610.5v1.9" stroke="#6a6a6a" stroke-width="1"/>
<path d="M181.5,1610.5v1.9" stroke="#6a6a6a" stroke-width="1"/>
<path d="M204.5,1610.5v1.9" stroke="#6a6a6a" stroke-width="1"/>
<path d="M225.5,1610.5v1.9" stroke="#6a6a6a" stroke-width="1"/>
<path d="M247.5,1610.5v1.9" stroke="#6a6a6a" stroke-width="1"/>
<path d="M269.5,1610.5v1.9" stroke="#6a6a6a" stroke-width="1"/>
<g font-size="6.05" text-anchor="middle" fill="#4d4d4d" font-family="Liberation Sans,Noto Sans CJK SC,sans-serif"><text x="29.5" y="1618.9">1/1</text><text x="51.8" y="1618.9">2/1</text><text x="71.9" y="1618.9">3/1</text><text x="94.2" y="1618.9">4/1</text><text x="115.7" y="1618.9">5/1</text><text x="138.0" y="1618.9">6/1</text><text x="159.5" y="1618.9">7/1</text><text x="181.8" y="1618.9">8/1</text><text x="204.1" y="1618.9">9/1</text><text x="225.6" y="1618.9">10/1</text><text x="247.9" y="1618.9">11/1</text><text x="269.4" y="1618.9">12/1</text></g>
<clipPath id="c_ddist"><rect x="336.3" y="1466.3" width="274.7" height="144.8"/></clipPath>
<text x="485.0" y="1442.4" text-anchor="middle" font-size="10.3" font-weight="bold" letter-spacing="1.25" fill="#000" font-family="Liberation Sans,Noto Sans CJK SC,sans-serif">美国隐含需求-馏分油（万桶/日）</text>
<rect x="337.3" y="1453.4" width="20.2" height="3.2" fill="#d9d9d9"/><text x="360.3" y="1457.2" font-size="6.4" fill="#404040" font-family="Liberation Sans,Noto Sans CJK SC,sans-serif">五年区间</text><path d="M393.6,1455.0h20.5" stroke="#a9d18e" stroke-width="1.4" stroke-linecap="butt"/><text x="416.6" y="1457.2" font-size="6.1" fill="#404040" font-family="Liberation Sans,Noto Sans CJK SC,sans-serif">2022</text><path d="M436.8,1455.0h20.5" stroke="#8faadc" stroke-width="1.4" stroke-linecap="butt"/><text x="459.8" y="1457.2" font-size="6.1" fill="#404040" font-family="Liberation Sans,Noto Sans CJK SC,sans-serif">2023</text><path d="M479.9,1455.0h20.5" stroke="#ffa500" stroke-width="1.75" stroke-linecap="butt"/><text x="502.9" y="1457.2" font-size="6.1" fill="#404040" font-family="Liberation Sans,Noto Sans CJK SC,sans-serif">2024</text><path d="M523.1,1455.0h20.5" stroke="#c00000" stroke-width="2.2" stroke-linecap="butt"/><text x="546.2" y="1457.2" font-size="6.1" fill="#404040" font-family="Liberation Sans,Noto Sans CJK SC,sans-serif">2025</text><path d="M566.4,1455.0h20.5" stroke="#9c9c9c" stroke-width="1.3" stroke-dasharray="3.2,2" stroke-linecap="butt"/><text x="589.4" y="1457.2" font-size="6.1" fill="#404040" font-family="Liberation Sans,Noto Sans CJK SC,sans-serif">Ave</text>
<g clip-path="url(#c_ddist)"><path d="M337.3,1537.9 L342.5,1529.0 L347.8,1505.6 L353.0,1497.5 L358.2,1501.6 L363.4,1513.7 L368.7,1511.7 L373.9,1519.3 L379.1,1510.0 L384.3,1504.0 L389.6,1529.8 L394.8,1506.8 L400.0,1517.7 L405.2,1529.8 L410.4,1533.8 L415.7,1529.8 L420.9,1517.7 L426.1,1525.8 L431.4,1529.8 L436.6,1519.7 L441.8,1511.7 L447.0,1525.8 L452.2,1529.8 L457.5,1529.0 L462.7,1517.7 L467.9,1525.8 L473.1,1512.9 L478.4,1529.8 L483.6,1525.8 L488.8,1531.8 L494.1,1529.8 L499.3,1529.8 L504.5,1531.4 L509.7,1529.8 L515.0,1527.8 L520.2,1529.8 L525.4,1521.3 L530.6,1511.7 L535.9,1519.7 L541.1,1521.7 L546.3,1510.9 L551.5,1517.7 L556.8,1519.7 L562.0,1516.5 L567.2,1517.7 L572.4,1515.7 L577.6,1513.7 L582.9,1519.7 L588.1,1529.8 L593.3,1493.5 L598.5,1517.7 L603.8,1529.8 L609.0,1539.9 L609.0,1584.3 L603.8,1584.3 L598.5,1535.9 L593.3,1539.9 L588.1,1554.0 L582.9,1554.0 L577.6,1570.2 L572.4,1539.9 L567.2,1539.9 L562.0,1554.0 L556.8,1541.9 L551.5,1535.9 L546.3,1537.9 L541.1,1546.0 L535.9,1546.0 L530.6,1556.0 L525.4,1576.2 L520.2,1554.0 L515.0,1548.0 L509.7,1546.0 L504.5,1548.0 L499.3,1548.0 L494.1,1552.0 L488.8,1550.0 L483.6,1556.0 L478.4,1554.0 L473.1,1572.2 L467.9,1550.0 L462.7,1560.1 L457.5,1550.0 L452.2,1554.0 L447.0,1580.2 L441.8,1568.1 L436.6,1566.1 L431.4,1554.0 L426.1,1564.1 L420.9,1564.1 L415.7,1566.1 L410.4,1580.2 L405.2,1572.2 L400.0,1552.0 L394.8,1537.9 L389.6,1541.9 L384.3,1556.0 L379.1,1552.0 L373.9,1550.0 L368.7,1541.9 L363.4,1550.0 L358.2,1539.9 L353.0,1543.9 L347.8,1541.9 L342.5,1562.1 L337.3,1572.2Z" fill="#d9d9d9"/>
<path d="M337.3,1552.0 L342.5,1535.9 L347.8,1527.8 L353.0,1525.8 L358.2,1523.8 L363.4,1529.8 L368.7,1527.8 L373.9,1533.8 L379.1,1531.8 L384.3,1525.8 L389.6,1535.9 L394.8,1529.8 L400.0,1535.9 L405.2,1546.0 L410.4,1550.0 L415.7,1539.9 L420.9,1537.9 L426.1,1539.9 L431.4,1537.9 L436.6,1535.9 L441.8,1535.9 L447.0,1546.0 L452.2,1543.9 L457.5,1539.9 L462.7,1541.9 L467.9,1535.9 L473.1,1546.0 L478.4,1548.0 L483.6,1541.9 L488.8,1539.9 L494.1,1537.9 L499.3,1537.9 L504.5,1537.9 L509.7,1535.9 L515.0,1537.9 L520.2,1541.9 L525.4,1550.0 L530.6,1537.9 L535.9,1531.8 L541.1,1533.8 L546.3,1523.8 L551.5,1525.8 L556.8,1529.8 L562.0,1531.8 L567.2,1525.8 L572.4,1529.8 L577.6,1537.9 L582.9,1535.9 L588.1,1541.9 L593.3,1521.7 L598.5,1529.8 L603.8,1554.0 L609.0,1562.1" fill="none" stroke="#9c9c9c" stroke-width="1.3" stroke-linejoin="round" stroke-linecap="round" stroke-dasharray="3.2,2"/>
<path d="M337.3,1539.9 L342.5,1539.9 L347.8,1506.4 L353.0,1498.3 L358.2,1502.4 L363.4,1516.9 L368.7,1515.3 L373.9,1520.1 L379.1,1510.9 L384.3,1504.8 L389.6,1539.1 L394.8,1507.6 L400.0,1534.3 L405.2,1545.1 L410.4,1550.4 L415.7,1537.5 L420.9,1535.5 L426.1,1531.4 L431.4,1536.7 L436.6,1535.9 L441.8,1533.4 L447.0,1530.2 L452.2,1542.3 L457.5,1535.9 L462.7,1548.4 L467.9,1532.6 L473.1,1513.7 L478.4,1552.8 L483.6,1540.7 L488.8,1539.1 L494.1,1534.3 L499.3,1536.7 L504.5,1532.6 L509.7,1532.2 L515.0,1547.2 L520.2,1542.3 L525.4,1564.9 L530.6,1555.2 L535.9,1521.7 L541.1,1523.4 L546.3,1518.5 L551.5,1529.8 L556.8,1532.6 L562.0,1532.2 L567.2,1520.1 L572.4,1535.9 L577.6,1536.7 L582.9,1543.9 L588.1,1547.2 L593.3,1537.5 L598.5,1528.2 L603.8,1532.6 L609.0,1578.2" fill="none" stroke="#a9d18e" stroke-width="1.4" stroke-linejoin="round" stroke-linecap="round"/>
<path d="M337.3,1537.5 L342.5,1529.8 L347.8,1535.9 L353.0,1541.9 L358.2,1539.1 L363.4,1539.9 L368.7,1537.5 L373.9,1536.7 L379.1,1549.6 L384.3,1537.5 L389.6,1534.3 L394.8,1535.9 L400.0,1519.3 L405.2,1538.7 L410.4,1539.1 L415.7,1539.1 L420.9,1534.3 L426.1,1528.2 L431.4,1535.9 L436.6,1521.7 L441.8,1539.1 L447.0,1536.7 L452.2,1547.2 L457.5,1539.9 L462.7,1558.1 L467.9,1539.1 L473.1,1571.4 L478.4,1548.8 L483.6,1543.1 L488.8,1537.5 L494.1,1535.9 L499.3,1538.7 L504.5,1535.9 L509.7,1532.6 L515.0,1541.9 L520.2,1538.7 L525.4,1522.6 L530.6,1529.8 L535.9,1537.5 L541.1,1543.1 L546.3,1512.1 L551.5,1526.6 L556.8,1532.6 L562.0,1517.3 L567.2,1525.0 L572.4,1525.0 L577.6,1569.8 L582.9,1539.1 L588.1,1538.7 L593.3,1535.9 L598.5,1529.8 L603.8,1583.5 L609.0,1583.5" fill="none" stroke="#8faadc" stroke-width="1.4" stroke-linejoin="round" stroke-linecap="round"/>
<path d="M337.3,1558.5 L342.5,1543.1 L347.8,1537.5 L353.0,1539.1 L358.2,1536.7 L363.4,1548.8 L368.7,1532.2 L373.9,1548.4 L379.1,1531.4 L384.3,1554.8 L389.6,1535.9 L394.8,1529.0 L400.0,1550.4 L405.2,1570.6 L410.4,1542.3 L415.7,1548.4 L420.9,1543.9 L426.1,1549.6 L431.4,1537.5 L436.6,1535.9 L441.8,1539.1 L447.0,1556.0 L452.2,1545.5 L457.5,1530.2 L462.7,1548.4 L467.9,1539.9 L473.1,1551.6 L478.4,1547.2 L483.6,1535.5 L488.8,1540.7 L494.1,1550.4 L499.3,1547.2 L504.5,1546.4 L509.7,1535.9 L515.0,1529.8 L520.2,1547.2 L525.4,1536.7 L530.6,1529.0 L535.9,1543.9 L541.1,1529.0 L546.3,1521.7 L551.5,1526.6 L556.8,1534.3 L562.0,1553.6 L567.2,1525.8 L572.4,1537.5 L577.6,1540.7 L582.9,1553.6 L588.1,1552.0 L593.3,1509.2 L598.5,1520.1 L603.8,1560.1 L609.0,1560.1" fill="none" stroke="#ffa500" stroke-width="1.75" stroke-linejoin="round" stroke-linecap="round"/>
<path d="M337.3,1563.3 L342.5,1537.5 L347.8,1525.0 L353.0,1508.8 L358.2,1504.4 L363.4,1537.5 L368.7,1514.1 L373.9,1525.0 L379.1,1529.8 L384.3,1532.6 L389.6,1529.8 L394.8,1543.9 L400.0,1541.9 L405.2,1529.8 L410.4,1534.3 L415.7,1533.4 L420.9,1547.2 L426.1,1548.4 L431.4,1537.5 L436.6,1553.2 L441.8,1531.4 L447.0,1564.1 L452.2,1553.6 L457.5,1539.9 L462.7,1537.5 L467.9,1528.2 L473.1,1543.9 L478.4,1552.8 L483.6,1556.0 L488.8,1545.5 L494.1,1539.9 L499.3,1540.7 L504.5,1531.4 L509.7,1524.2 L515.0,1539.1 L520.2,1554.8 L525.4,1543.9 L530.6,1539.9 L535.9,1545.1 L541.1,1515.3 L546.3,1520.1 L551.5,1535.9 L556.8,1546.4 L562.0,1540.7 L567.2,1529.0 L572.4,1534.3 L577.6,1555.2" fill="none" stroke="#c00000" stroke-width="2.2" stroke-linejoin="round" stroke-linecap="round"/>
</g>
<path d="M337.5,1469.3V1610.5" fill="none" stroke="#c8c8c8" stroke-width="1"/>
<path d="M337.0,1610.5H609.0" fill="none" stroke="#6a6a6a" stroke-width="1"/>
<g font-size="6.05" text-anchor="end" fill="#4d4d4d" font-family="Liberation Sans,Noto Sans CJK SC,sans-serif"><text x="329.0" y="1612.4">200</text><text x="329.0" y="1592.2">250</text><text x="329.0" y="1572.1">300</text><text x="329.0" y="1551.9">350</text><text x="329.0" y="1531.7">400</text><text x="329.0" y="1511.5">450</text><text x="329.0" y="1491.4">500</text><text x="329.0" y="1471.2">550</text></g>
<g font-size="6.05" text-anchor="middle" fill="#4d4d4d" font-family="Liberation Sans,Noto Sans CJK SC,sans-serif"><text x="337.3" y="1618.9">1/1</text><text x="360.4" y="1618.9">2/1</text><text x="381.3" y="1618.9">3/1</text><text x="404.5" y="1618.9">4/1</text><text x="426.9" y="1618.9">5/1</text><text x="450.0" y="1618.9">6/1</text><text x="472.4" y="1618.9">7/1</text><text x="495.5" y="1618.9">8/1</text><text x="518.7" y="1618.9">9/1</text><text x="541.1" y="1618.9">10/1</text><text x="564.2" y="1618.9">11/1</text><text x="586.6" y="1618.9">12/1</text></g>
<clipPath id="c_djet"><rect x="654.4" y="1466.3" width="272.5" height="144.8"/></clipPath>
<text x="783.5" y="1442.4" text-anchor="middle" font-size="10.3" font-weight="bold" letter-spacing="1.25" fill="#000" font-family="Liberation Sans,Noto Sans CJK SC,sans-serif">美国隐含需求-航油（万桶/日）</text>
<rect x="655.4" y="1453.4" width="20.0" height="3.2" fill="#d9d9d9"/><text x="678.2" y="1457.2" font-size="6.4" fill="#404040" font-family="Liberation Sans,Noto Sans CJK SC,sans-serif">五年区间</text><path d="M711.1,1455.0h20.3" stroke="#a9d18e" stroke-width="1.4" stroke-linecap="butt"/><text x="733.9" y="1457.2" font-size="6.1" fill="#404040" font-family="Liberation Sans,Noto Sans CJK SC,sans-serif">2022</text><path d="M753.9,1455.0h20.3" stroke="#8faadc" stroke-width="1.4" stroke-linecap="butt"/><text x="776.7" y="1457.2" font-size="6.1" fill="#404040" font-family="Liberation Sans,Noto Sans CJK SC,sans-serif">2023</text><path d="M796.6,1455.0h20.3" stroke="#ffa500" stroke-width="1.75" stroke-linecap="butt"/><text x="819.4" y="1457.2" font-size="6.1" fill="#404040" font-family="Liberation Sans,Noto Sans CJK SC,sans-serif">2024</text><path d="M839.4,1455.0h20.3" stroke="#c00000" stroke-width="2.2" stroke-linecap="butt"/><text x="862.2" y="1457.2" font-size="6.1" fill="#404040" font-family="Liberation Sans,Noto Sans CJK SC,sans-serif">2025</text><path d="M882.2,1455.0h20.3" stroke="#9c9c9c" stroke-width="1.3" stroke-dasharray="3.2,2" stroke-linecap="butt"/><text x="905.0" y="1457.2" font-size="6.1" fill="#404040" font-family="Liberation Sans,Noto Sans CJK SC,sans-serif">Ave</text>
<g clip-path="url(#c_djet)"><path d="M655.4,1515.8 L660.6,1521.9 L665.8,1522.6 L670.9,1518.0 L676.1,1516.3 L681.3,1526.0 L686.5,1524.9 L691.7,1515.3 L696.9,1515.6 L702.0,1514.8 L707.2,1518.1 L712.4,1509.3 L717.6,1509.6 L722.8,1516.5 L728.0,1517.7 L733.1,1511.9 L738.3,1515.3 L743.5,1492.7 L748.7,1517.1 L753.9,1514.5 L759.1,1500.7 L764.2,1510.9 L769.4,1513.8 L774.6,1501.5 L779.8,1498.0 L785.0,1505.3 L790.1,1509.9 L795.3,1515.2 L800.5,1507.4 L805.7,1509.4 L810.9,1499.6 L816.1,1507.5 L821.2,1509.4 L826.4,1510.5 L831.6,1501.4 L836.8,1507.0 L842.0,1509.2 L847.2,1514.4 L852.3,1499.7 L857.5,1509.7 L862.7,1512.5 L867.9,1511.6 L873.1,1508.3 L878.3,1504.7 L883.4,1506.5 L888.6,1507.6 L893.8,1503.6 L899.0,1517.0 L904.2,1502.5 L909.4,1510.4 L914.5,1502.5 L919.7,1518.9 L924.9,1517.4 L924.9,1541.0 L919.7,1541.0 L914.5,1542.7 L909.4,1545.5 L904.2,1542.7 L899.0,1547.2 L893.8,1543.9 L888.6,1554.0 L883.4,1539.9 L878.3,1558.5 L873.1,1554.0 L867.9,1555.1 L862.7,1542.7 L857.5,1559.7 L852.3,1562.5 L847.2,1558.5 L842.0,1556.8 L836.8,1560.8 L831.6,1558.5 L826.4,1545.5 L821.2,1555.1 L816.1,1554.0 L810.9,1554.0 L805.7,1554.0 L800.5,1551.2 L795.3,1539.9 L790.1,1559.7 L785.0,1575.5 L779.8,1565.3 L774.6,1566.4 L769.4,1571.0 L764.2,1587.9 L759.1,1562.5 L753.9,1576.6 L748.7,1590.7 L743.5,1582.3 L738.3,1565.3 L733.1,1576.6 L728.0,1583.4 L722.8,1565.3 L717.6,1539.9 L712.4,1551.2 L707.2,1554.0 L702.0,1561.4 L696.9,1538.2 L691.7,1554.0 L686.5,1543.9 L681.3,1539.9 L676.1,1567.0 L670.9,1539.9 L665.8,1548.4 L660.6,1537.1 L655.4,1559.7Z" fill="#d9d9d9"/>
<path d="M655.4,1528.6 L660.6,1525.8 L665.8,1528.6 L670.9,1525.8 L676.1,1525.8 L681.3,1526.9 L686.5,1531.4 L691.7,1528.6 L696.9,1525.8 L702.0,1531.4 L707.2,1526.9 L712.4,1525.8 L717.6,1525.8 L722.8,1534.3 L728.0,1537.1 L733.1,1535.9 L738.3,1532.6 L743.5,1537.1 L748.7,1541.6 L753.9,1537.1 L759.1,1528.6 L764.2,1534.3 L769.4,1537.1 L774.6,1531.4 L779.8,1526.9 L785.0,1531.4 L790.1,1525.8 L795.3,1528.6 L800.5,1523.0 L805.7,1521.3 L810.9,1521.3 L816.1,1528.6 L821.2,1523.0 L826.4,1523.0 L831.6,1520.1 L836.8,1528.6 L842.0,1528.6 L847.2,1531.4 L852.3,1523.0 L857.5,1526.9 L862.7,1528.6 L867.9,1530.3 L873.1,1525.8 L878.3,1525.8 L883.4,1520.1 L888.6,1528.6 L893.8,1523.0 L899.0,1525.8 L904.2,1523.0 L909.4,1526.9 L914.5,1520.1 L919.7,1528.6 L924.9,1530.3" fill="none" stroke="#9c9c9c" stroke-width="1.3" stroke-linejoin="round" stroke-linecap="round" stroke-dasharray="3.2,2"/>
<path d="M655.4,1527.5 L660.6,1525.2 L665.8,1528.6 L670.9,1538.8 L676.1,1528.6 L681.3,1526.9 L686.5,1528.6 L691.7,1530.3 L696.9,1525.2 L702.0,1533.7 L707.2,1530.3 L712.4,1512.2 L717.6,1532.6 L722.8,1528.6 L728.0,1520.1 L733.1,1524.1 L738.3,1519.0 L743.5,1528.6 L748.7,1523.5 L753.9,1518.4 L759.1,1523.5 L764.2,1513.4 L769.4,1523.5 L774.6,1525.2 L779.8,1518.4 L785.0,1528.6 L790.1,1515.0 L795.3,1532.6 L800.5,1513.4 L805.7,1515.6 L810.9,1528.6 L816.1,1511.7 L821.2,1518.4 L826.4,1518.4 L831.6,1507.7 L836.8,1528.6 L842.0,1526.9 L847.2,1540.5 L852.3,1508.3 L857.5,1525.2 L862.7,1525.2 L867.9,1530.3 L873.1,1516.7 L878.3,1537.1 L883.4,1523.5 L888.6,1513.4 L893.8,1525.2 L899.0,1520.1 L904.2,1532.6 L909.4,1513.4 L914.5,1510.0 L919.7,1524.1 L924.9,1530.3" fill="none" stroke="#a9d18e" stroke-width="1.4" stroke-linejoin="round" stroke-linecap="round"/>
<path d="M655.4,1532.0 L660.6,1525.2 L665.8,1526.9 L670.9,1518.4 L676.1,1521.8 L681.3,1527.5 L686.5,1535.4 L691.7,1525.2 L696.9,1518.4 L702.0,1517.9 L707.2,1520.1 L712.4,1525.2 L717.6,1518.4 L722.8,1525.2 L728.0,1518.4 L733.1,1523.5 L738.3,1523.5 L743.5,1499.8 L748.7,1532.6 L753.9,1530.3 L759.1,1512.2 L764.2,1525.2 L769.4,1524.1 L774.6,1508.3 L779.8,1500.9 L785.0,1511.7 L790.1,1525.2 L795.3,1527.5 L800.5,1510.0 L805.7,1511.7 L810.9,1511.7 L816.1,1516.7 L821.2,1511.7 L826.4,1512.2 L831.6,1508.3 L836.8,1510.0 L842.0,1517.9 L847.2,1521.8 L852.3,1510.0 L857.5,1515.6 L862.7,1526.9 L867.9,1513.4 L873.1,1515.6 L878.3,1507.7 L883.4,1508.8 L888.6,1525.2 L893.8,1516.7 L899.0,1530.3 L904.2,1505.4 L909.4,1533.7 L914.5,1503.2 L919.7,1529.2 L924.9,1529.2" fill="none" stroke="#8faadc" stroke-width="1.4" stroke-linejoin="round" stroke-linecap="round"/>
<path d="M655.4,1517.9 L660.6,1537.1 L665.8,1525.2 L670.9,1523.5 L676.1,1519.0 L681.3,1533.7 L686.5,1530.3 L691.7,1520.1 L696.9,1517.9 L702.0,1521.3 L707.2,1521.8 L712.4,1521.3 L717.6,1512.2 L722.8,1521.3 L728.0,1530.3 L733.1,1515.6 L738.3,1516.7 L743.5,1526.9 L748.7,1518.4 L753.9,1516.7 L759.1,1506.6 L764.2,1513.4 L769.4,1515.0 L774.6,1514.5 L779.8,1514.5 L785.0,1506.6 L790.1,1511.7 L795.3,1517.9 L800.5,1511.7 L805.7,1514.5 L810.9,1500.9 L816.1,1520.1 L821.2,1511.7 L826.4,1512.2 L831.6,1514.5 L836.8,1526.9 L842.0,1513.4 L847.2,1515.6 L852.3,1501.5 L857.5,1515.6 L862.7,1517.9 L867.9,1521.3 L873.1,1517.9 L878.3,1507.7 L883.4,1513.4 L888.6,1521.3 L893.8,1504.3 L899.0,1519.0 L904.2,1506.6 L909.4,1514.5 L914.5,1507.7 L919.7,1520.1 L924.9,1520.1" fill="none" stroke="#ffa500" stroke-width="1.75" stroke-linejoin="round" stroke-linecap="round"/>
<path d="M655.4,1512.8 L660.6,1526.9 L665.8,1522.4 L670.9,1525.2 L676.1,1512.2 L681.3,1524.1 L686.5,1527.5 L691.7,1524.1 L696.9,1521.8 L702.0,1510.0 L707.2,1506.6 L712.4,1530.3 L717.6,1513.4 L722.8,1504.9 L728.0,1500.9 L733.1,1501.5 L738.3,1518.4 L743.5,1496.4 L748.7,1524.1 L753.9,1516.7 L759.1,1510.0 L764.2,1511.1 L769.4,1506.6 L774.6,1507.7 L779.8,1514.5 L785.0,1511.7 L790.1,1501.5 L795.3,1517.9 L800.5,1514.5 L805.7,1491.9 L810.9,1514.5 L816.1,1506.6 L821.2,1503.2 L826.4,1511.7 L831.6,1514.5 L836.8,1511.7 L842.0,1517.9 L847.2,1525.8 L852.3,1511.7 L857.5,1514.5 L862.7,1515.6 L867.9,1513.4 L873.1,1499.8 L878.3,1515.6 L883.4,1517.9 L888.6,1515.6 L893.8,1514.5" fill="none" stroke="#c00000" stroke-width="2.2" stroke-linejoin="round" stroke-linecap="round"/>
</g>
<path d="M655.5,1469.3V1610.5" fill="none" stroke="#b0b0b0" stroke-width="1"/>
<path d="M655.0,1610.5H924.9" fill="none" stroke="#737373" stroke-width="1"/>
<g font-size="6.05" text-anchor="end" fill="#4d4d4d" font-family="Liberation Sans,Noto Sans CJK SC,sans-serif"><text x="647.1" y="1612.4">0</text><text x="647.1" y="1584.2">50</text><text x="647.1" y="1555.9">100</text><text x="647.1" y="1527.7">150</text><text x="647.1" y="1499.4">200</text><text x="647.1" y="1471.2">250</text></g>
<g font-size="6.05" text-anchor="middle" fill="#4d4d4d" font-family="Liberation Sans,Noto Sans CJK SC,sans-serif"><text x="655.4" y="1618.9">1/1</text><text x="678.4" y="1618.9">2/1</text><text x="699.1" y="1618.9">3/1</text><text x="722.0" y="1618.9">4/1</text><text x="744.2" y="1618.9">5/1</text><text x="767.2" y="1618.9">6/1</text><text x="789.4" y="1618.9">7/1</text><text x="812.4" y="1618.9">8/1</text><text x="835.3" y="1618.9">9/1</text><text x="857.5" y="1618.9">10/1</text><text x="880.5" y="1618.9">11/1</text><text x="902.7" y="1618.9">12/1</text></g>
<clipPath id="c_dresid"><rect x="18.9" y="1663.3" width="274.1" height="144.8"/></clipPath>
<text x="149.4" y="1639.4" text-anchor="middle" font-size="10.3" font-weight="bold" letter-spacing="1.25" fill="#000" font-family="Liberation Sans,Noto Sans CJK SC,sans-serif">美国隐含需求-残余燃料（万桶/日）</text>
<rect x="22.5" y="1650.4" width="20.0" height="3.2" fill="#d9d9d9"/><text x="45.3" y="1654.2" font-size="6.4" fill="#404040" font-family="Liberation Sans,Noto Sans CJK SC,sans-serif">五年区间</text><path d="M78.2,1652.0h20.3" stroke="#a9d18e" stroke-width="1.4" stroke-linecap="butt"/><text x="101.0" y="1654.2" font-size="6.1" fill="#404040" font-family="Liberation Sans,Noto Sans CJK SC,sans-serif">2022</text><path d="M121.0,1652.0h20.3" stroke="#8faadc" stroke-width="1.4" stroke-linecap="butt"/><text x="143.8" y="1654.2" font-size="6.1" fill="#404040" font-family="Liberation Sans,Noto Sans CJK SC,sans-serif">2023</text><path d="M163.7,1652.0h20.3" stroke="#ffa500" stroke-width="1.75" stroke-linecap="butt"/><text x="186.5" y="1654.2" font-size="6.1" fill="#404040" font-family="Liberation Sans,Noto Sans CJK SC,sans-serif">2024</text><path d="M206.5,1652.0h20.3" stroke="#c00000" stroke-width="2.2" stroke-linecap="butt"/><text x="229.3" y="1654.2" font-size="6.1" fill="#404040" font-family="Liberation Sans,Noto Sans CJK SC,sans-serif">2025</text><path d="M249.3,1652.0h20.3" stroke="#9c9c9c" stroke-width="1.3" stroke-dasharray="3.2,2" stroke-linecap="butt"/><text x="272.1" y="1654.2" font-size="6.1" fill="#404040" font-family="Liberation Sans,Noto Sans CJK SC,sans-serif">Ave</text>
<g clip-path="url(#c_dresid)"><path d="M19.9,1718.1 L25.1,1744.7 L30.3,1729.1 L35.5,1735.3 L40.8,1718.1 L46.0,1704.0 L51.2,1730.6 L56.4,1752.6 L61.6,1754.2 L66.8,1721.2 L72.0,1741.6 L77.2,1752.6 L82.5,1724.3 L87.7,1716.5 L92.9,1713.4 L98.1,1743.2 L103.3,1741.6 L108.5,1740.0 L113.7,1747.9 L119.0,1760.4 L124.2,1741.6 L129.4,1738.5 L134.6,1744.7 L139.8,1760.4 L145.0,1751.0 L150.2,1721.2 L155.5,1729.1 L160.7,1741.6 L165.9,1722.8 L171.1,1732.2 L176.3,1730.6 L181.5,1752.6 L186.7,1727.5 L191.9,1736.9 L197.2,1729.1 L202.4,1722.8 L207.6,1752.6 L212.8,1736.9 L218.0,1724.3 L223.2,1741.6 L228.4,1747.9 L233.7,1747.9 L238.9,1732.2 L244.1,1744.7 L249.3,1744.7 L254.5,1724.3 L259.7,1729.1 L264.9,1729.1 L270.1,1729.1 L275.4,1746.3 L280.6,1744.7 L285.8,1725.9 L291.0,1725.9 L291.0,1765.6 L285.8,1797.9 L280.6,1798.4 L275.4,1775.4 L270.1,1787.9 L264.9,1764.8 L259.7,1782.6 L254.5,1781.2 L249.3,1773.5 L244.1,1771.4 L238.9,1781.6 L233.7,1764.1 L228.4,1773.7 L223.2,1788.5 L218.0,1777.0 L212.8,1794.7 L207.6,1790.6 L202.4,1777.2 L197.2,1798.4 L191.9,1794.4 L186.7,1777.7 L181.5,1804.0 L176.3,1789.8 L171.1,1777.2 L165.9,1749.2 L160.7,1782.6 L155.5,1778.7 L150.2,1771.8 L145.0,1792.8 L139.8,1785.8 L134.6,1794.3 L129.4,1788.0 L124.2,1796.9 L119.0,1793.7 L113.7,1773.2 L108.5,1776.1 L103.3,1800.2 L98.1,1779.1 L92.9,1783.9 L87.7,1782.6 L82.5,1783.0 L77.2,1777.9 L72.0,1805.4 L66.8,1780.7 L61.6,1794.2 L56.4,1798.1 L51.2,1773.8 L46.0,1781.4 L40.8,1790.0 L35.5,1763.2 L30.3,1780.4 L25.1,1775.4 L19.9,1797.7Z" fill="#d9d9d9"/>
<path d="M19.9,1758.9 L30.3,1763.6 L40.8,1757.3 L51.2,1760.4 L61.6,1773.0 L66.8,1774.6 L77.2,1768.3 L82.5,1763.6 L92.9,1747.9 L98.1,1760.4 L103.3,1773.0 L113.7,1769.8 L119.0,1776.1 L129.4,1765.1 L134.6,1768.3 L145.0,1771.4 L155.5,1760.4 L165.9,1755.7 L176.3,1763.6 L186.7,1760.4 L191.9,1773.0 L202.4,1755.7 L207.6,1779.3 L218.0,1744.7 L223.2,1766.7 L233.7,1760.4 L244.1,1765.1 L254.5,1760.4 L259.7,1749.5 L264.9,1751.0 L275.4,1768.3 L280.6,1763.6 L285.8,1754.2 L291.0,1755.7" fill="none" stroke="#9c9c9c" stroke-width="1.3" stroke-linejoin="round" stroke-linecap="round" stroke-dasharray="3.2,2"/>
<path d="M19.9,1769.8 L25.1,1769.8 L30.3,1754.2 L35.5,1736.9 L40.8,1720.3 L46.0,1780.8 L51.2,1732.2 L56.4,1758.9 L61.6,1774.6 L66.8,1773.0 L72.0,1743.2 L77.2,1758.9 L82.5,1781.1 L87.7,1749.1 L92.9,1723.6 L98.1,1745.2 L103.3,1743.2 L108.5,1768.3 L113.7,1765.1 L119.0,1778.0 L124.2,1684.3 L129.4,1740.0 L134.6,1758.9 L139.8,1781.1 L145.0,1752.9 L150.2,1722.8 L155.5,1743.2 L160.7,1781.1 L165.9,1744.7 L171.1,1774.6 L176.3,1731.4 L181.5,1781.1 L186.7,1728.3 L191.9,1790.9 L197.2,1746.3 L202.4,1723.6 L207.6,1780.8 L212.8,1758.9 L218.0,1725.9 L223.2,1765.1 L228.4,1758.9 L233.7,1751.0 L238.9,1781.1 L244.1,1751.6 L249.3,1757.3 L254.5,1743.2 L259.7,1765.1 L264.9,1763.6 L270.1,1738.5 L275.4,1774.6 L280.6,1769.8 L285.8,1795.7 L291.0,1765.1" fill="none" stroke="#a9d18e" stroke-width="1.4" stroke-linejoin="round" stroke-linecap="round"/>
<path d="M19.9,1736.9 L25.1,1765.1 L30.3,1777.7 L35.5,1751.6 L40.8,1787.6 L46.0,1704.0 L51.2,1758.9 L56.4,1754.2 L61.6,1787.6 L66.8,1777.7 L72.0,1794.0 L77.2,1771.4 L82.5,1762.0 L87.7,1781.1 L92.9,1779.6 L98.1,1777.7 L103.3,1773.0 L108.5,1774.6 L113.7,1748.5 L119.0,1790.9 L124.2,1795.7 L129.4,1786.0 L134.6,1784.4 L139.8,1779.6 L145.0,1789.1 L150.2,1769.8 L155.5,1777.7 L160.7,1751.0 L165.9,1743.2 L171.1,1765.1 L176.3,1784.4 L181.5,1801.2 L186.7,1746.3 L191.9,1757.3 L197.2,1794.0 L202.4,1774.6 L207.6,1781.1 L212.8,1792.4 L218.0,1774.6 L223.2,1743.2 L228.4,1768.3 L233.7,1758.9 L238.9,1762.6 L244.1,1769.8 L249.3,1771.4 L254.5,1749.8 L259.7,1781.1 L264.9,1747.9 L270.1,1769.8 L275.4,1747.9 L280.6,1797.3 L285.8,1726.7 L291.0,1726.7" fill="none" stroke="#8faadc" stroke-width="1.4" stroke-linejoin="round" stroke-linecap="round"/>
<path d="M19.9,1797.3 L25.1,1774.6 L30.3,1736.9 L35.5,1762.0 L40.8,1774.6 L46.0,1748.5 L51.2,1771.4 L56.4,1795.7 L61.6,1754.9 L66.8,1723.6 L72.0,1803.6 L77.2,1765.1 L82.5,1725.9 L87.7,1721.2 L92.9,1733.1 L98.1,1768.3 L103.3,1799.7 L108.5,1742.1 L113.7,1768.3 L119.0,1786.0 L124.2,1774.6 L129.4,1749.1 L134.6,1790.9 L139.8,1762.0 L145.0,1765.1 L150.2,1769.8 L155.5,1760.4 L160.7,1781.8 L165.9,1747.9 L171.1,1755.7 L176.3,1765.1 L181.5,1790.9 L186.7,1774.6 L191.9,1768.3 L197.2,1752.6 L202.4,1771.4 L207.6,1786.0 L212.8,1738.8 L218.0,1747.9 L223.2,1787.6 L228.4,1751.0 L233.7,1762.0 L238.9,1733.1 L244.1,1762.0 L249.3,1769.8 L254.5,1780.5 L259.7,1735.6 L264.9,1744.7 L270.1,1786.0 L275.4,1754.9 L280.6,1773.0 L285.8,1758.9 L291.0,1758.9" fill="none" stroke="#ffa500" stroke-width="1.75" stroke-linejoin="round" stroke-linecap="round"/>
<path d="M19.9,1758.9 L25.1,1754.2 L30.3,1728.3 L35.5,1743.2 L40.8,1758.1 L46.0,1755.7 L51.2,1754.9 L56.4,1780.8 L61.6,1762.0 L66.8,1748.5 L72.0,1758.9 L77.2,1749.8 L82.5,1749.8 L87.7,1802.0 L92.9,1765.1 L98.1,1714.9 L103.3,1781.1 L108.5,1790.9 L113.7,1765.1 L119.0,1761.4 L124.2,1796.5 L129.4,1756.2 L134.6,1780.5 L139.8,1752.6 L145.0,1781.1 L150.2,1771.6 L155.5,1754.2 L160.7,1749.1 L165.9,1758.9 L171.1,1784.4 L176.3,1761.4 L181.5,1762.0 L186.7,1781.1 L191.9,1761.4 L197.2,1736.9 L202.4,1791.5 L207.6,1757.3 L212.8,1747.9 L218.0,1749.8 L223.2,1793.4 L228.4,1772.2 L233.7,1773.0 L238.9,1748.5 L244.1,1765.1 L249.3,1762.6 L254.5,1794.9 L259.7,1780.8" fill="none" stroke="#c00000" stroke-width="2.2" stroke-linejoin="round" stroke-linecap="round"/>
</g>
<path d="M19.5,1666.3V1807.5" fill="none" stroke="#c8c8c8" stroke-width="1"/>
<path d="M19.0,1807.5H291.0" fill="none" stroke="#6a6a6a" stroke-width="1"/>
<g font-size="6.05" text-anchor="end" fill="#4d4d4d" font-family="Liberation Sans,Noto Sans CJK SC,sans-serif"><text x="11.6" y="1809.4">0</text><text x="11.6" y="1793.7">10</text><text x="11.6" y="1778.0">20</text><text x="11.6" y="1762.3">30</text><text x="11.6" y="1746.6">40</text><text x="11.6" y="1731.0">50</text><text x="11.6" y="1715.3">60</text><text x="11.6" y="1699.6">70</text><text x="11.6" y="1683.9">80</text><text x="11.6" y="1668.2">90</text></g>
<path d="M19.5,1807.5v1.9" stroke="#6a6a6a" stroke-width="1"/>
<path d="M42.5,1807.5v1.9" stroke="#6a6a6a" stroke-width="1"/>
<path d="M63.5,1807.5v1.9" stroke="#6a6a6a" stroke-width="1"/>
<path d="M86.5,1807.5v1.9" stroke="#6a6a6a" stroke-width="1"/>
<path d="M109.5,1807.5v1.9" stroke="#6a6a6a" stroke-width="1"/>
<path d="M132.5,1807.5v1.9" stroke="#6a6a6a" stroke-width="1"/>
<path d="M154.5,1807.5v1.9" stroke="#6a6a6a" stroke-width="1"/>
<path d="M177.5,1807.5v1.9" stroke="#6a6a6a" stroke-width="1"/>
<path d="M200.5,1807.5v1.9" stroke="#6a6a6a" stroke-width="1"/>
<path d="M223.5,1807.5v1.9" stroke="#6a6a6a" stroke-width="1"/>
<path d="M246.5,1807.5v1.9" stroke="#6a6a6a" stroke-width="1"/>
<path d="M268.5,1807.5v1.9" stroke="#6a6a6a" stroke-width="1"/>
<g font-size="6.05" text-anchor="middle" fill="#4d4d4d" font-family="Liberation Sans,Noto Sans CJK SC,sans-serif"><text x="19.9" y="1815.9">1/1</text><text x="43.0" y="1815.9">2/1</text><text x="63.8" y="1815.9">3/1</text><text x="86.9" y="1815.9">4/1</text><text x="109.3" y="1815.9">5/1</text><text x="132.4" y="1815.9">6/1</text><text x="154.7" y="1815.9">7/1</text><text x="177.8" y="1815.9">8/1</text><text x="200.9" y="1815.9">9/1</text><text x="223.2" y="1815.9">10/1</text><text x="246.3" y="1815.9">11/1</text><text x="268.7" y="1815.9">12/1</text></g>
<clipPath id="c_dprop"><rect x="336.3" y="1663.3" width="274.7" height="144.8"/></clipPath>
<text x="485.0" y="1639.4" text-anchor="middle" font-size="10.3" font-weight="bold" letter-spacing="1.25" fill="#000" font-family="Liberation Sans,Noto Sans CJK SC,sans-serif">美国隐含需求-丙烷丙烯（万桶/日）</text>
<rect x="337.3" y="1650.4" width="20.2" height="3.2" fill="#d9d9d9"/><text x="360.3" y="1654.2" font-size="6.4" fill="#404040" font-family="Liberation Sans,Noto Sans CJK SC,sans-serif">五年区间</text><path d="M393.6,1652.0h20.5" stroke="#a9d18e" stroke-width="1.4" stroke-linecap="butt"/><text x="416.6" y="1654.2" font-size="6.1" fill="#404040" font-family="Liberation Sans,Noto Sans CJK SC,sans-serif">2022</text><path d="M436.8,1652.0h20.5" stroke="#8faadc" stroke-width="1.4" stroke-linecap="butt"/><text x="459.8" y="1654.2" font-size="6.1" fill="#404040" font-family="Liberation Sans,Noto Sans CJK SC,sans-serif">2023</text><path d="M479.9,1652.0h20.5" stroke="#ffa500" stroke-width="1.75" stroke-linecap="butt"/><text x="502.9" y="1654.2" font-size="6.1" fill="#404040" font-family="Liberation Sans,Noto Sans CJK SC,sans-serif">2024</text><path d="M523.1,1652.0h20.5" stroke="#c00000" stroke-width="2.2" stroke-linecap="butt"/><text x="546.2" y="1654.2" font-size="6.1" fill="#404040" font-family="Liberation Sans,Noto Sans CJK SC,sans-serif">2025</text><path d="M566.4,1652.0h20.5" stroke="#9c9c9c" stroke-width="1.3" stroke-dasharray="3.2,2" stroke-linecap="butt"/><text x="589.4" y="1654.2" font-size="6.1" fill="#404040" font-family="Liberation Sans,Noto Sans CJK SC,sans-serif">Ave</text>
<g clip-path="url(#c_dprop)"><path d="M337.3,1705.8 L342.5,1688.9 L347.8,1678.7 L353.0,1683.2 L358.2,1696.8 L363.4,1684.4 L368.7,1690.0 L373.9,1699.6 L379.1,1720.0 L384.3,1714.3 L389.6,1720.5 L394.8,1728.4 L400.0,1714.3 L405.2,1714.3 L410.4,1742.5 L415.7,1745.4 L420.9,1734.1 L426.1,1732.4 L431.4,1762.3 L436.6,1747.1 L441.8,1759.5 L447.0,1753.8 L452.2,1730.1 L457.5,1748.8 L462.7,1748.8 L467.9,1742.0 L473.1,1753.8 L478.4,1755.0 L483.6,1743.7 L488.8,1727.9 L494.1,1748.2 L499.3,1736.3 L504.5,1747.1 L509.7,1748.8 L515.0,1742.5 L520.2,1748.8 L525.4,1725.6 L530.6,1732.4 L535.9,1739.7 L541.1,1736.9 L546.3,1722.2 L551.5,1722.8 L556.8,1732.9 L562.0,1734.1 L567.2,1732.9 L572.4,1728.4 L577.6,1711.5 L582.9,1714.3 L588.1,1709.8 L593.3,1692.8 L598.5,1708.7 L603.8,1708.7 L609.0,1708.7 L609.0,1760.5 L603.8,1763.2 L598.5,1731.3 L593.3,1745.6 L588.1,1740.1 L582.9,1761.9 L577.6,1757.1 L572.4,1769.1 L567.2,1763.2 L562.0,1767.9 L556.8,1769.8 L551.5,1762.2 L546.3,1768.6 L541.1,1775.4 L535.9,1771.0 L530.6,1777.3 L525.4,1781.6 L520.2,1783.1 L515.0,1774.5 L509.7,1776.4 L504.5,1784.8 L499.3,1773.5 L494.1,1767.6 L488.8,1776.0 L483.6,1759.8 L478.4,1778.3 L473.1,1774.9 L467.9,1767.7 L462.7,1775.6 L457.5,1766.6 L452.2,1773.4 L447.0,1771.9 L441.8,1787.7 L436.6,1763.5 L431.4,1782.9 L426.1,1785.1 L420.9,1756.1 L415.7,1786.7 L410.4,1765.5 L405.2,1747.6 L400.0,1730.5 L394.8,1766.8 L389.6,1755.5 L384.3,1768.4 L379.1,1764.0 L373.9,1730.4 L368.7,1750.2 L363.4,1749.8 L358.2,1737.8 L353.0,1727.5 L347.8,1748.1 L342.5,1730.6 L337.3,1741.4Z" fill="#d9d9d9"/>
<path d="M337.3,1728.4 L342.5,1717.1 L347.8,1714.3 L353.0,1711.5 L358.2,1717.1 L363.4,1710.4 L368.7,1720.0 L373.9,1722.8 L379.1,1736.9 L384.3,1739.7 L389.6,1739.7 L394.8,1745.4 L400.0,1734.1 L405.2,1739.7 L410.4,1753.8 L415.7,1762.3 L420.9,1753.8 L426.1,1756.7 L431.4,1770.8 L436.6,1759.5 L441.8,1768.0 L447.0,1765.1 L452.2,1756.7 L457.5,1762.3 L462.7,1762.3 L467.9,1759.5 L473.1,1763.4 L478.4,1765.1 L483.6,1753.8 L488.8,1753.8 L494.1,1759.5 L499.3,1756.7 L504.5,1759.5 L509.7,1762.3 L515.0,1759.5 L520.2,1759.5 L525.4,1759.5 L530.6,1756.7 L535.9,1756.7 L541.1,1751.0 L546.3,1745.4 L551.5,1742.5 L556.8,1748.2 L562.0,1748.2 L567.2,1745.4 L572.4,1745.4 L577.6,1736.9 L582.9,1736.9 L588.1,1722.8 L593.3,1725.6 L598.5,1722.8 L603.8,1725.6 L609.0,1731.3" fill="none" stroke="#9c9c9c" stroke-width="1.3" stroke-linejoin="round" stroke-linecap="round" stroke-dasharray="3.2,2"/>
<path d="M337.3,1718.8 L342.5,1718.8 L347.8,1679.9 L353.0,1684.4 L358.2,1697.9 L363.4,1688.3 L368.7,1690.6 L373.9,1700.2 L379.1,1735.8 L384.3,1734.6 L389.6,1721.1 L394.8,1731.3 L400.0,1729.6 L405.2,1738.0 L410.4,1760.1 L415.7,1745.9 L420.9,1755.5 L426.1,1745.4 L431.4,1765.1 L436.6,1747.6 L441.8,1774.7 L447.0,1768.5 L452.2,1730.7 L457.5,1765.1 L462.7,1765.1 L467.9,1758.9 L473.1,1773.0 L478.4,1776.4 L483.6,1744.2 L488.8,1771.4 L494.1,1765.1 L499.3,1773.0 L504.5,1755.5 L509.7,1770.2 L515.0,1771.4 L520.2,1749.3 L525.4,1778.1 L530.6,1776.4 L535.9,1755.5 L541.1,1749.3 L546.3,1752.1 L551.5,1723.3 L556.8,1766.8 L562.0,1765.1 L567.2,1747.6 L572.4,1745.9 L577.6,1756.1 L582.9,1758.9 L588.1,1732.4 L593.3,1744.2 L598.5,1709.2 L603.8,1711.5 L609.0,1742.0" fill="none" stroke="#a9d18e" stroke-width="1.4" stroke-linejoin="round" stroke-linecap="round"/>
<path d="M337.3,1738.6 L342.5,1726.7 L347.8,1747.6 L353.0,1726.7 L358.2,1702.4 L363.4,1749.3 L368.7,1736.9 L373.9,1729.6 L379.1,1752.1 L384.3,1766.8 L389.6,1750.5 L394.8,1745.4 L400.0,1729.0 L405.2,1745.9 L410.4,1751.6 L415.7,1770.2 L420.9,1753.8 L426.1,1782.1 L431.4,1774.7 L436.6,1758.9 L441.8,1770.8 L447.0,1755.0 L452.2,1768.5 L457.5,1749.3 L462.7,1771.4 L467.9,1742.5 L473.1,1757.8 L478.4,1755.5 L483.6,1758.9 L488.8,1728.4 L494.1,1761.2 L499.3,1736.9 L504.5,1747.6 L509.7,1771.4 L515.0,1755.5 L520.2,1779.8 L525.4,1736.9 L530.6,1776.4 L535.9,1768.5 L541.1,1774.2 L546.3,1722.8 L551.5,1760.1 L556.8,1765.1 L562.0,1734.6 L567.2,1755.5 L572.4,1750.5 L577.6,1734.6 L582.9,1745.4 L588.1,1710.4 L593.3,1738.0 L598.5,1728.4 L603.8,1730.7 L609.0,1730.7" fill="none" stroke="#8faadc" stroke-width="1.4" stroke-linejoin="round" stroke-linecap="round"/>
<path d="M337.3,1717.1 L342.5,1728.4 L347.8,1720.0 L353.0,1700.8 L358.2,1736.9 L363.4,1731.3 L368.7,1749.3 L373.9,1726.7 L379.1,1760.1 L384.3,1738.0 L389.6,1752.1 L394.8,1765.1 L400.0,1727.3 L405.2,1733.5 L410.4,1762.3 L415.7,1781.0 L420.9,1742.5 L426.1,1758.9 L431.4,1780.4 L436.6,1760.1 L441.8,1779.8 L447.0,1766.8 L452.2,1758.9 L457.5,1765.1 L462.7,1749.3 L467.9,1765.1 L473.1,1761.2 L478.4,1766.8 L483.6,1747.6 L488.8,1766.8 L494.1,1749.3 L499.3,1758.9 L504.5,1782.6 L509.7,1749.3 L515.0,1765.1 L520.2,1755.5 L525.4,1778.1 L530.6,1732.9 L535.9,1753.8 L541.1,1747.6 L546.3,1765.1 L551.5,1742.5 L556.8,1733.5 L562.0,1766.8 L567.2,1733.5 L572.4,1765.1 L577.6,1712.0 L582.9,1761.2 L588.1,1712.0 L593.3,1732.4 L598.5,1709.8 L603.8,1760.1 L609.0,1760.1" fill="none" stroke="#ffa500" stroke-width="1.75" stroke-linejoin="round" stroke-linecap="round"/>
<path d="M337.3,1726.7 L342.5,1717.7 L347.8,1717.7 L353.0,1696.2 L358.2,1734.6 L363.4,1722.8 L368.7,1732.4 L373.9,1699.6 L379.1,1747.6 L384.3,1716.6 L389.6,1755.0 L394.8,1745.9 L400.0,1739.7 L405.2,1755.5 L410.4,1747.6 L415.7,1782.1 L420.9,1757.2 L426.1,1745.4 L431.4,1783.8 L436.6,1760.1 L441.8,1780.4 L447.0,1765.1 L452.2,1774.7 L457.5,1761.2 L462.7,1790.0 L467.9,1774.7 L473.1,1749.3 L478.4,1782.6 L483.6,1753.8 L488.8,1745.9 L494.1,1761.2 L499.3,1766.8 L504.5,1761.2 L509.7,1755.5 L515.0,1768.0 L520.2,1758.9 L525.4,1758.9 L530.6,1756.1 L535.9,1776.4 L541.1,1723.9 L546.3,1779.8 L551.5,1755.5 L556.8,1752.7 L562.0,1752.7 L567.2,1742.5 L572.4,1744.2 L577.6,1721.7" fill="none" stroke="#c00000" stroke-width="2.2" stroke-linejoin="round" stroke-linecap="round"/>
</g>
<path d="M337.5,1666.3V1807.5" fill="none" stroke="#c8c8c8" stroke-width="1"/>
<path d="M337.0,1807.5H609.0" fill="none" stroke="#6a6a6a" stroke-width="1"/>
<g font-size="6.05" text-anchor="end" fill="#4d4d4d" font-family="Liberation Sans,Noto Sans CJK SC,sans-serif"><text x="329.0" y="1809.4">0</text><text x="329.0" y="1781.2">50</text><text x="329.0" y="1752.9">100</text><text x="329.0" y="1724.7">150</text><text x="329.0" y="1696.4">200</text><text x="329.0" y="1668.2">250</text></g>
<g font-size="6.05" text-anchor="middle" fill="#4d4d4d" font-family="Liberation Sans,Noto Sans CJK SC,sans-serif"><text x="337.3" y="1815.9">1/1</text><text x="360.4" y="1815.9">2/1</text><text x="381.3" y="1815.9">3/1</text><text x="404.5" y="1815.9">4/1</text><text x="426.9" y="1815.9">5/1</text><text x="450.0" y="1815.9">6/1</text><text x="472.4" y="1815.9">7/1</text><text x="495.5" y="1815.9">8/1</text><text x="518.7" y="1815.9">9/1</text><text x="541.1" y="1815.9">10/1</text><text x="564.2" y="1815.9">11/1</text><text x="586.6" y="1815.9">12/1</text></g>
<text x="794.5" y="228.8" text-anchor="middle" font-size="10.3" font-weight="bold" letter-spacing="1.25" fill="#000" font-family="Liberation Sans,Noto Sans CJK SC,sans-serif">美国SPR库存（万桶）</text>
<path d="M665.7,259.5 L671.1,261.6 L682.0,264.8 L687.4,267.3 L692.8,271.1 L698.2,276.3 L703.6,283.7 L709.0,288.3 L714.5,292.1 L717.2,296.3 L719.9,300.5 L725.3,303.5 L730.7,305.8 L736.1,308.5 L752.4,308.5 L757.8,309.4 L763.2,311.0 L768.6,313.1 L774.0,313.8 L784.9,313.1 L795.7,312.9 L812.0,311.5 L828.2,310.0 L844.5,307.7 L860.7,304.7 L877.0,303.7 L893.2,302.6 L909.5,301.6 L925.7,300.1" fill="none" stroke="#a6a6a6" stroke-width="1.6" stroke-linejoin="round"/>
<path d="M665.5,239.5V386.5H925.7" fill="none" stroke="#a6a6a6" stroke-width="1"/>
<g font-size="6.05" text-anchor="end" fill="#4d4d4d" font-family="Liberation Sans,Noto Sans CJK SC,sans-serif"><text x="657.4" y="388.4">0</text><text x="657.4" y="367.4">10,000</text><text x="657.4" y="346.3">20,000</text><text x="657.4" y="325.3">30,000</text><text x="657.4" y="304.2">40,000</text><text x="657.4" y="283.2">50,000</text><text x="657.4" y="262.1">60,000</text><text x="657.4" y="241.1">70,000</text></g>
<g font-size="6.2" text-anchor="middle" fill="#4d4d4d" font-family="Liberation Sans,Noto Sans CJK SC,sans-serif"><text x="665.7" y="397.0">2021/11/19</text><text x="730.7" y="397.0">2022/11/19</text><text x="795.7" y="397.0">2023/11/19</text><text x="860.7" y="397.0">2024/11/19</text><text x="925.7" y="397.0">2025/11/19</text></g></svg>
<div class="edge" style="left:0;top:0;width:1px;height:1860px"></div><div class="edge" style="left:934px;top:0;width:1px;height:1860px"></div><div class="edge" style="left:0;top:1859px;width:935px;height:1px"></div>
</div></body></html>
